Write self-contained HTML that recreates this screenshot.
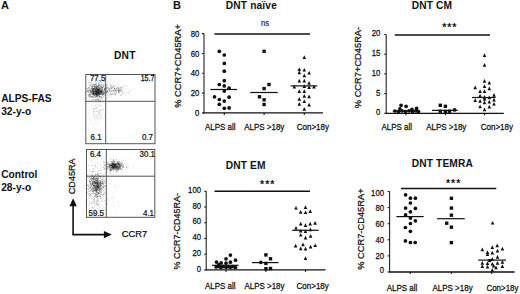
<!DOCTYPE html>
<html><head><meta charset="utf-8"><style>
html,body{margin:0;padding:0;background:#fff;width:520px;height:294px;overflow:hidden}
svg{display:block}
text{font-family:"Liberation Sans",sans-serif}
</style></head><body>
<svg width="520" height="294" viewBox="0 0 520 294">
<rect width="520" height="294" fill="#fff"/>
<text x="1" y="9" font-size="11" font-weight="bold" text-anchor="start" fill="#111">A</text>
<text x="113.9" y="58.9" font-size="10.2" font-weight="bold" letter-spacing="0.35" text-anchor="start" fill="#111">DNT</text>
<text x="1.2" y="102.4" font-size="10.2" font-weight="bold" text-anchor="start" fill="#111">ALPS-FAS</text>
<text x="1.2" y="114.6" font-size="10.2" font-weight="bold" text-anchor="start" fill="#111">32-y-o</text>
<text x="1.2" y="177.9" font-size="10.2" font-weight="bold" text-anchor="start" fill="#111">Control</text>
<text x="1.2" y="190.7" font-size="10.2" font-weight="bold" text-anchor="start" fill="#111">28-y-o</text>
<g fill="#111">
<circle cx="95.38" cy="93.14" r="0.45" fill-opacity="0.5"/>
<circle cx="95.50" cy="90.17" r="0.45" fill-opacity="0.5"/>
<circle cx="92.68" cy="90.53" r="0.45" fill-opacity="0.5"/>
<circle cx="100.85" cy="92.83" r="0.45" fill-opacity="0.5"/>
<circle cx="100.55" cy="92.20" r="0.45" fill-opacity="0.5"/>
<circle cx="97.98" cy="91.97" r="0.45" fill-opacity="0.5"/>
<circle cx="89.74" cy="94.38" r="0.45" fill-opacity="0.5"/>
<circle cx="98.43" cy="93.10" r="0.45" fill-opacity="0.5"/>
<circle cx="89.63" cy="85.02" r="0.45" fill-opacity="0.5"/>
<circle cx="92.84" cy="89.61" r="0.45" fill-opacity="0.5"/>
<circle cx="97.62" cy="91.13" r="0.45" fill-opacity="0.5"/>
<circle cx="98.48" cy="88.99" r="0.45" fill-opacity="0.5"/>
<circle cx="97.63" cy="92.72" r="0.45" fill-opacity="0.5"/>
<circle cx="93.76" cy="97.48" r="0.45" fill-opacity="0.5"/>
<circle cx="98.63" cy="95.61" r="0.45" fill-opacity="0.5"/>
<circle cx="93.92" cy="88.64" r="0.45" fill-opacity="0.5"/>
<circle cx="95.02" cy="90.92" r="0.45" fill-opacity="0.5"/>
<circle cx="98.93" cy="92.19" r="0.45" fill-opacity="0.5"/>
<circle cx="94.61" cy="87.86" r="0.45" fill-opacity="0.5"/>
<circle cx="94.32" cy="95.70" r="0.45" fill-opacity="0.5"/>
<circle cx="93.17" cy="92.18" r="0.45" fill-opacity="0.5"/>
<circle cx="98.11" cy="85.94" r="0.45" fill-opacity="0.5"/>
<circle cx="96.59" cy="96.00" r="0.45" fill-opacity="0.5"/>
<circle cx="88.34" cy="90.14" r="0.45" fill-opacity="0.5"/>
<circle cx="95.98" cy="88.36" r="0.45" fill-opacity="0.5"/>
<circle cx="98.39" cy="91.08" r="0.45" fill-opacity="0.5"/>
<circle cx="90.54" cy="94.28" r="0.45" fill-opacity="0.5"/>
<circle cx="99.08" cy="94.71" r="0.45" fill-opacity="0.5"/>
<circle cx="102.16" cy="92.60" r="0.45" fill-opacity="0.5"/>
<circle cx="96.88" cy="86.62" r="0.45" fill-opacity="0.5"/>
<circle cx="98.86" cy="89.10" r="0.45" fill-opacity="0.5"/>
<circle cx="94.59" cy="86.75" r="0.45" fill-opacity="0.5"/>
<circle cx="92.53" cy="89.39" r="0.45" fill-opacity="0.5"/>
<circle cx="101.56" cy="83.99" r="0.45" fill-opacity="0.5"/>
<circle cx="90.57" cy="92.16" r="0.45" fill-opacity="0.5"/>
<circle cx="102.17" cy="93.38" r="0.45" fill-opacity="0.5"/>
<circle cx="88.80" cy="82.23" r="0.45" fill-opacity="0.5"/>
<circle cx="97.83" cy="88.65" r="0.45" fill-opacity="0.5"/>
<circle cx="91.92" cy="94.82" r="0.45" fill-opacity="0.5"/>
<circle cx="100.81" cy="91.87" r="0.45" fill-opacity="0.5"/>
<circle cx="97.38" cy="92.86" r="0.45" fill-opacity="0.5"/>
<circle cx="102.78" cy="93.53" r="0.45" fill-opacity="0.5"/>
<circle cx="98.47" cy="93.27" r="0.45" fill-opacity="0.5"/>
<circle cx="90.13" cy="95.91" r="0.45" fill-opacity="0.5"/>
<circle cx="100.22" cy="93.21" r="0.45" fill-opacity="0.5"/>
<circle cx="88.50" cy="89.02" r="0.45" fill-opacity="0.5"/>
<circle cx="99.77" cy="84.78" r="0.45" fill-opacity="0.5"/>
<circle cx="95.66" cy="94.97" r="0.45" fill-opacity="0.5"/>
<circle cx="91.16" cy="97.10" r="0.45" fill-opacity="0.5"/>
<circle cx="98.61" cy="90.76" r="0.45" fill-opacity="0.5"/>
<circle cx="97.70" cy="93.64" r="0.45" fill-opacity="0.5"/>
<circle cx="96.88" cy="95.42" r="0.45" fill-opacity="0.5"/>
<circle cx="93.75" cy="89.81" r="0.45" fill-opacity="0.5"/>
<circle cx="100.57" cy="91.40" r="0.45" fill-opacity="0.5"/>
<circle cx="92.88" cy="94.71" r="0.45" fill-opacity="0.5"/>
<circle cx="102.26" cy="89.70" r="0.45" fill-opacity="0.5"/>
<circle cx="90.88" cy="90.81" r="0.45" fill-opacity="0.5"/>
<circle cx="95.80" cy="90.23" r="0.45" fill-opacity="0.5"/>
<circle cx="102.02" cy="87.60" r="0.45" fill-opacity="0.5"/>
<circle cx="101.44" cy="86.73" r="0.45" fill-opacity="0.5"/>
<circle cx="93.25" cy="93.57" r="0.45" fill-opacity="0.5"/>
<circle cx="100.91" cy="94.39" r="0.45" fill-opacity="0.5"/>
<circle cx="97.78" cy="91.81" r="0.45" fill-opacity="0.5"/>
<circle cx="97.01" cy="93.37" r="0.45" fill-opacity="0.5"/>
<circle cx="95.70" cy="92.30" r="0.45" fill-opacity="0.5"/>
<circle cx="98.69" cy="91.30" r="0.45" fill-opacity="0.5"/>
<circle cx="99.46" cy="93.34" r="0.45" fill-opacity="0.5"/>
<circle cx="104.44" cy="92.47" r="0.45" fill-opacity="0.5"/>
<circle cx="94.69" cy="89.96" r="0.45" fill-opacity="0.5"/>
<circle cx="96.35" cy="94.63" r="0.45" fill-opacity="0.5"/>
<circle cx="95.05" cy="92.69" r="0.45" fill-opacity="0.5"/>
<circle cx="103.75" cy="82.07" r="0.45" fill-opacity="0.5"/>
<circle cx="91.90" cy="92.18" r="0.45" fill-opacity="0.5"/>
<circle cx="97.99" cy="92.16" r="0.45" fill-opacity="0.5"/>
<circle cx="94.68" cy="93.66" r="0.45" fill-opacity="0.5"/>
<circle cx="97.53" cy="89.42" r="0.45" fill-opacity="0.5"/>
<circle cx="106.12" cy="92.58" r="0.45" fill-opacity="0.5"/>
<circle cx="94.18" cy="90.94" r="0.45" fill-opacity="0.5"/>
<circle cx="95.50" cy="91.07" r="0.45" fill-opacity="0.5"/>
<circle cx="85.49" cy="89.55" r="0.45" fill-opacity="0.5"/>
<circle cx="100.43" cy="87.09" r="0.45" fill-opacity="0.5"/>
<circle cx="96.13" cy="94.73" r="0.45" fill-opacity="0.5"/>
<circle cx="99.82" cy="96.67" r="0.45" fill-opacity="0.5"/>
<circle cx="89.59" cy="90.03" r="0.45" fill-opacity="0.5"/>
<circle cx="95.04" cy="93.54" r="0.45" fill-opacity="0.5"/>
<circle cx="100.77" cy="81.64" r="0.45" fill-opacity="0.5"/>
<circle cx="100.75" cy="86.09" r="0.45" fill-opacity="0.5"/>
<circle cx="99.13" cy="85.93" r="0.45" fill-opacity="0.5"/>
<circle cx="97.10" cy="95.60" r="0.45" fill-opacity="0.5"/>
<circle cx="95.80" cy="91.99" r="0.45" fill-opacity="0.5"/>
<circle cx="99.59" cy="91.81" r="0.45" fill-opacity="0.5"/>
<circle cx="96.05" cy="96.82" r="0.45" fill-opacity="0.5"/>
<circle cx="100.59" cy="90.24" r="0.45" fill-opacity="0.5"/>
<circle cx="107.38" cy="87.17" r="0.45" fill-opacity="0.5"/>
<circle cx="100.06" cy="90.34" r="0.45" fill-opacity="0.5"/>
<circle cx="96.93" cy="93.84" r="0.45" fill-opacity="0.5"/>
<circle cx="97.29" cy="93.60" r="0.45" fill-opacity="0.5"/>
<circle cx="90.29" cy="85.87" r="0.45" fill-opacity="0.5"/>
<circle cx="98.86" cy="87.83" r="0.45" fill-opacity="0.5"/>
<circle cx="92.29" cy="86.01" r="0.45" fill-opacity="0.5"/>
<circle cx="101.47" cy="93.99" r="0.45" fill-opacity="0.5"/>
<circle cx="102.29" cy="87.92" r="0.45" fill-opacity="0.5"/>
<circle cx="96.40" cy="87.19" r="0.45" fill-opacity="0.5"/>
<circle cx="99.46" cy="97.02" r="0.45" fill-opacity="0.5"/>
<circle cx="92.84" cy="96.92" r="0.45" fill-opacity="0.5"/>
<circle cx="100.35" cy="90.66" r="0.45" fill-opacity="0.5"/>
<circle cx="88.51" cy="96.36" r="0.45" fill-opacity="0.5"/>
<circle cx="96.01" cy="89.13" r="0.45" fill-opacity="0.5"/>
<circle cx="98.00" cy="92.78" r="0.45" fill-opacity="0.5"/>
<circle cx="102.39" cy="87.63" r="0.45" fill-opacity="0.5"/>
<circle cx="100.94" cy="96.65" r="0.45" fill-opacity="0.5"/>
<circle cx="102.21" cy="90.65" r="0.45" fill-opacity="0.5"/>
<circle cx="93.42" cy="94.97" r="0.45" fill-opacity="0.5"/>
<circle cx="96.86" cy="91.75" r="0.45" fill-opacity="0.5"/>
<circle cx="102.10" cy="90.35" r="0.45" fill-opacity="0.5"/>
<circle cx="87.21" cy="89.91" r="0.45" fill-opacity="0.5"/>
<circle cx="88.98" cy="94.25" r="0.45" fill-opacity="0.5"/>
<circle cx="97.67" cy="89.10" r="0.45" fill-opacity="0.5"/>
<circle cx="96.36" cy="94.30" r="0.45" fill-opacity="0.5"/>
<circle cx="96.72" cy="96.08" r="0.45" fill-opacity="0.5"/>
<circle cx="96.15" cy="95.05" r="0.45" fill-opacity="0.5"/>
<circle cx="102.37" cy="97.10" r="0.45" fill-opacity="0.5"/>
<circle cx="93.71" cy="94.47" r="0.45" fill-opacity="0.5"/>
<circle cx="88.90" cy="87.40" r="0.45" fill-opacity="0.5"/>
<circle cx="88.55" cy="95.15" r="0.45" fill-opacity="0.5"/>
<circle cx="91.47" cy="91.25" r="0.45" fill-opacity="0.5"/>
<circle cx="95.63" cy="91.20" r="0.45" fill-opacity="0.5"/>
<circle cx="94.03" cy="92.14" r="0.45" fill-opacity="0.5"/>
<circle cx="103.57" cy="91.46" r="0.45" fill-opacity="0.5"/>
<circle cx="98.52" cy="94.90" r="0.45" fill-opacity="0.5"/>
<circle cx="95.61" cy="86.77" r="0.45" fill-opacity="0.5"/>
<circle cx="94.18" cy="95.16" r="0.45" fill-opacity="0.5"/>
<circle cx="89.82" cy="89.15" r="0.45" fill-opacity="0.5"/>
<circle cx="100.43" cy="94.15" r="0.45" fill-opacity="0.5"/>
<circle cx="96.43" cy="94.20" r="0.45" fill-opacity="0.5"/>
<circle cx="97.06" cy="87.06" r="0.45" fill-opacity="0.5"/>
<circle cx="90.14" cy="89.00" r="0.45" fill-opacity="0.5"/>
<circle cx="100.09" cy="89.26" r="0.45" fill-opacity="0.5"/>
<circle cx="92.79" cy="88.52" r="0.45" fill-opacity="0.5"/>
<circle cx="90.27" cy="90.88" r="0.45" fill-opacity="0.5"/>
<circle cx="91.68" cy="92.61" r="0.45" fill-opacity="0.5"/>
<circle cx="86.96" cy="92.48" r="0.45" fill-opacity="0.5"/>
<circle cx="93.83" cy="84.31" r="0.45" fill-opacity="0.5"/>
<circle cx="99.30" cy="90.31" r="0.45" fill-opacity="0.5"/>
<circle cx="87.48" cy="88.15" r="0.45" fill-opacity="0.5"/>
<circle cx="97.56" cy="89.65" r="0.45" fill-opacity="0.5"/>
<circle cx="99.52" cy="93.99" r="0.45" fill-opacity="0.5"/>
<circle cx="99.06" cy="92.48" r="0.45" fill-opacity="0.5"/>
<circle cx="101.73" cy="93.68" r="0.45" fill-opacity="0.5"/>
<circle cx="98.20" cy="83.80" r="0.45" fill-opacity="0.5"/>
<circle cx="99.99" cy="96.01" r="0.45" fill-opacity="0.5"/>
<circle cx="95.21" cy="89.61" r="0.45" fill-opacity="0.5"/>
<circle cx="104.16" cy="84.97" r="0.45" fill-opacity="0.5"/>
<circle cx="98.28" cy="100.03" r="0.45" fill-opacity="0.5"/>
<circle cx="92.69" cy="93.78" r="0.45" fill-opacity="0.5"/>
<circle cx="103.95" cy="90.87" r="0.45" fill-opacity="0.5"/>
<circle cx="98.64" cy="94.55" r="0.45" fill-opacity="0.5"/>
<circle cx="92.78" cy="90.98" r="0.45" fill-opacity="0.5"/>
<circle cx="97.57" cy="94.27" r="0.45" fill-opacity="0.5"/>
<circle cx="96.26" cy="90.60" r="0.45" fill-opacity="0.5"/>
<circle cx="92.34" cy="90.01" r="0.45" fill-opacity="0.5"/>
<circle cx="99.97" cy="91.67" r="0.45" fill-opacity="0.5"/>
<circle cx="92.99" cy="88.27" r="0.45" fill-opacity="0.5"/>
<circle cx="107.07" cy="95.40" r="0.45" fill-opacity="0.5"/>
<circle cx="98.95" cy="81.97" r="0.45" fill-opacity="0.5"/>
<circle cx="98.89" cy="93.03" r="0.45" fill-opacity="0.5"/>
<circle cx="103.14" cy="92.84" r="0.45" fill-opacity="0.5"/>
<circle cx="96.13" cy="93.18" r="0.45" fill-opacity="0.5"/>
<circle cx="88.62" cy="95.02" r="0.45" fill-opacity="0.5"/>
<circle cx="97.70" cy="88.77" r="0.45" fill-opacity="0.5"/>
<circle cx="101.70" cy="97.81" r="0.45" fill-opacity="0.5"/>
<circle cx="90.79" cy="88.90" r="0.45" fill-opacity="0.5"/>
<circle cx="97.57" cy="91.96" r="0.45" fill-opacity="0.5"/>
<circle cx="94.81" cy="87.79" r="0.45" fill-opacity="0.5"/>
<circle cx="104.88" cy="95.03" r="0.45" fill-opacity="0.5"/>
<circle cx="91.62" cy="86.46" r="0.45" fill-opacity="0.5"/>
<circle cx="103.21" cy="94.86" r="0.45" fill-opacity="0.5"/>
<circle cx="103.68" cy="94.22" r="0.45" fill-opacity="0.5"/>
<circle cx="92.91" cy="92.24" r="0.45" fill-opacity="0.5"/>
<circle cx="87.76" cy="88.61" r="0.45" fill-opacity="0.5"/>
<circle cx="96.16" cy="93.18" r="0.45" fill-opacity="0.5"/>
<circle cx="93.49" cy="90.85" r="0.45" fill-opacity="0.5"/>
<circle cx="98.23" cy="92.66" r="0.45" fill-opacity="0.5"/>
<circle cx="98.95" cy="92.05" r="0.45" fill-opacity="0.5"/>
<circle cx="95.10" cy="94.14" r="0.45" fill-opacity="0.5"/>
<circle cx="96.60" cy="88.33" r="0.45" fill-opacity="0.5"/>
<circle cx="93.90" cy="91.30" r="0.45" fill-opacity="0.5"/>
<circle cx="95.96" cy="91.87" r="0.45" fill-opacity="0.5"/>
<circle cx="96.40" cy="91.93" r="0.45" fill-opacity="0.5"/>
<circle cx="95.86" cy="86.77" r="0.45" fill-opacity="0.5"/>
<circle cx="98.09" cy="95.09" r="0.45" fill-opacity="0.5"/>
<circle cx="98.14" cy="90.62" r="0.45" fill-opacity="0.5"/>
<circle cx="98.19" cy="87.82" r="0.45" fill-opacity="0.5"/>
<circle cx="88.82" cy="91.51" r="0.45" fill-opacity="0.5"/>
<circle cx="92.68" cy="93.96" r="0.45" fill-opacity="0.5"/>
<circle cx="92.06" cy="81.84" r="0.45" fill-opacity="0.5"/>
<circle cx="92.24" cy="96.98" r="0.45" fill-opacity="0.5"/>
<circle cx="94.87" cy="86.37" r="0.45" fill-opacity="0.5"/>
<circle cx="93.35" cy="93.18" r="0.45" fill-opacity="0.5"/>
<circle cx="98.39" cy="91.94" r="0.45" fill-opacity="0.5"/>
<circle cx="102.34" cy="93.84" r="0.45" fill-opacity="0.5"/>
<circle cx="96.32" cy="93.45" r="0.45" fill-opacity="0.5"/>
<circle cx="103.02" cy="94.80" r="0.45" fill-opacity="0.5"/>
<circle cx="100.50" cy="87.40" r="0.45" fill-opacity="0.5"/>
<circle cx="95.81" cy="93.93" r="0.45" fill-opacity="0.5"/>
<circle cx="95.21" cy="95.15" r="0.45" fill-opacity="0.5"/>
<circle cx="98.79" cy="94.57" r="0.45" fill-opacity="0.5"/>
<circle cx="95.55" cy="100.47" r="0.45" fill-opacity="0.5"/>
<circle cx="101.36" cy="90.52" r="0.45" fill-opacity="0.5"/>
<circle cx="96.76" cy="100.64" r="0.45" fill-opacity="0.5"/>
<circle cx="95.03" cy="94.45" r="0.45" fill-opacity="0.5"/>
<circle cx="100.32" cy="91.32" r="0.45" fill-opacity="0.5"/>
<circle cx="91.73" cy="91.98" r="0.45" fill-opacity="0.5"/>
<circle cx="97.84" cy="95.37" r="0.45" fill-opacity="0.5"/>
<circle cx="99.53" cy="91.39" r="0.45" fill-opacity="0.5"/>
<circle cx="99.81" cy="93.24" r="0.45" fill-opacity="0.5"/>
<circle cx="97.22" cy="91.50" r="0.45" fill-opacity="0.5"/>
<circle cx="95.43" cy="93.77" r="0.45" fill-opacity="0.5"/>
<circle cx="92.18" cy="89.04" r="0.45" fill-opacity="0.5"/>
<circle cx="96.42" cy="86.03" r="0.45" fill-opacity="0.5"/>
<circle cx="94.66" cy="84.07" r="0.45" fill-opacity="0.5"/>
<circle cx="93.67" cy="93.35" r="0.45" fill-opacity="0.5"/>
<circle cx="98.67" cy="91.10" r="0.45" fill-opacity="0.5"/>
<circle cx="95.47" cy="86.20" r="0.45" fill-opacity="0.5"/>
<circle cx="103.71" cy="93.16" r="0.45" fill-opacity="0.5"/>
<circle cx="100.77" cy="88.12" r="0.45" fill-opacity="0.5"/>
<circle cx="95.66" cy="84.75" r="0.45" fill-opacity="0.5"/>
<circle cx="99.52" cy="94.67" r="0.45" fill-opacity="0.5"/>
<circle cx="88.81" cy="91.11" r="0.45" fill-opacity="0.5"/>
<circle cx="98.92" cy="84.96" r="0.45" fill-opacity="0.5"/>
<circle cx="89.10" cy="87.47" r="0.45" fill-opacity="0.5"/>
<circle cx="93.88" cy="86.25" r="0.45" fill-opacity="0.5"/>
<circle cx="96.53" cy="92.20" r="0.45" fill-opacity="0.5"/>
<circle cx="98.94" cy="93.83" r="0.45" fill-opacity="0.5"/>
<circle cx="102.41" cy="95.49" r="0.45" fill-opacity="0.5"/>
<circle cx="91.15" cy="89.48" r="0.45" fill-opacity="0.5"/>
<circle cx="92.16" cy="87.42" r="0.45" fill-opacity="0.5"/>
<circle cx="96.07" cy="91.32" r="0.45" fill-opacity="0.5"/>
<circle cx="98.36" cy="85.59" r="0.45" fill-opacity="0.5"/>
<circle cx="91.45" cy="91.22" r="0.45" fill-opacity="0.5"/>
<circle cx="95.60" cy="90.18" r="0.45" fill-opacity="0.5"/>
<circle cx="96.15" cy="88.56" r="0.45" fill-opacity="0.5"/>
<circle cx="99.21" cy="92.58" r="0.45" fill-opacity="0.5"/>
<circle cx="96.05" cy="88.88" r="0.45" fill-opacity="0.5"/>
<circle cx="95.70" cy="81.50" r="0.45" fill-opacity="0.5"/>
<circle cx="92.47" cy="91.43" r="0.45" fill-opacity="0.5"/>
<circle cx="90.38" cy="92.02" r="0.45" fill-opacity="0.5"/>
<circle cx="96.99" cy="86.34" r="0.45" fill-opacity="0.5"/>
<circle cx="95.40" cy="90.17" r="0.45" fill-opacity="0.5"/>
<circle cx="98.24" cy="93.50" r="0.45" fill-opacity="0.5"/>
<circle cx="96.25" cy="88.24" r="0.45" fill-opacity="0.5"/>
<circle cx="95.82" cy="91.06" r="0.45" fill-opacity="0.5"/>
<circle cx="99.34" cy="92.36" r="0.45" fill-opacity="0.5"/>
<circle cx="93.51" cy="86.42" r="0.45" fill-opacity="0.5"/>
<circle cx="94.91" cy="88.63" r="0.45" fill-opacity="0.5"/>
<circle cx="91.95" cy="90.88" r="0.45" fill-opacity="0.5"/>
<circle cx="94.44" cy="91.68" r="0.45" fill-opacity="0.5"/>
<circle cx="98.49" cy="89.81" r="0.45" fill-opacity="0.5"/>
<circle cx="105.70" cy="90.14" r="0.45" fill-opacity="0.5"/>
<circle cx="100.81" cy="91.74" r="0.45" fill-opacity="0.5"/>
<circle cx="100.86" cy="82.75" r="0.45" fill-opacity="0.5"/>
<circle cx="93.39" cy="92.19" r="0.45" fill-opacity="0.5"/>
<circle cx="98.81" cy="99.71" r="0.45" fill-opacity="0.5"/>
<circle cx="97.69" cy="95.91" r="0.45" fill-opacity="0.5"/>
<circle cx="99.47" cy="94.71" r="0.45" fill-opacity="0.5"/>
<circle cx="98.44" cy="90.74" r="0.45" fill-opacity="0.5"/>
<circle cx="98.44" cy="87.42" r="0.45" fill-opacity="0.5"/>
<circle cx="101.13" cy="87.64" r="0.45" fill-opacity="0.5"/>
<circle cx="97.40" cy="98.93" r="0.45" fill-opacity="0.5"/>
<circle cx="95.51" cy="91.37" r="0.45" fill-opacity="0.5"/>
<circle cx="101.05" cy="91.39" r="0.45" fill-opacity="0.5"/>
<circle cx="93.17" cy="92.23" r="0.45" fill-opacity="0.5"/>
<circle cx="98.73" cy="93.86" r="0.45" fill-opacity="0.5"/>
<circle cx="93.31" cy="97.61" r="0.45" fill-opacity="0.5"/>
<circle cx="103.07" cy="91.37" r="0.45" fill-opacity="0.5"/>
<circle cx="97.47" cy="89.76" r="0.45" fill-opacity="0.5"/>
<circle cx="102.06" cy="88.76" r="0.45" fill-opacity="0.5"/>
<circle cx="99.10" cy="89.57" r="0.45" fill-opacity="0.5"/>
<circle cx="93.62" cy="93.89" r="0.45" fill-opacity="0.5"/>
<circle cx="101.74" cy="91.26" r="0.45" fill-opacity="0.5"/>
<circle cx="93.69" cy="94.22" r="0.45" fill-opacity="0.5"/>
<circle cx="96.20" cy="92.42" r="0.45" fill-opacity="0.5"/>
<circle cx="102.49" cy="95.37" r="0.45" fill-opacity="0.5"/>
<circle cx="94.32" cy="99.52" r="0.45" fill-opacity="0.5"/>
<circle cx="96.41" cy="94.13" r="0.45" fill-opacity="0.5"/>
<circle cx="93.81" cy="91.14" r="0.45" fill-opacity="0.5"/>
<circle cx="89.40" cy="97.73" r="0.45" fill-opacity="0.5"/>
<circle cx="101.86" cy="86.92" r="0.45" fill-opacity="0.5"/>
<circle cx="90.38" cy="85.46" r="0.45" fill-opacity="0.5"/>
<circle cx="101.10" cy="89.65" r="0.45" fill-opacity="0.5"/>
<circle cx="96.16" cy="90.17" r="0.45" fill-opacity="0.5"/>
<circle cx="95.92" cy="87.38" r="0.45" fill-opacity="0.5"/>
<circle cx="96.50" cy="86.12" r="0.45" fill-opacity="0.5"/>
<circle cx="96.11" cy="92.41" r="0.45" fill-opacity="0.5"/>
<circle cx="98.27" cy="90.47" r="0.45" fill-opacity="0.5"/>
<circle cx="92.79" cy="91.87" r="0.45" fill-opacity="0.5"/>
<circle cx="94.46" cy="96.94" r="0.45" fill-opacity="0.5"/>
<circle cx="99.47" cy="90.89" r="0.45" fill-opacity="0.5"/>
<circle cx="94.52" cy="88.77" r="0.45" fill-opacity="0.5"/>
<circle cx="92.65" cy="90.03" r="0.45" fill-opacity="0.5"/>
<circle cx="97.58" cy="93.16" r="0.45" fill-opacity="0.5"/>
<circle cx="98.68" cy="98.86" r="0.45" fill-opacity="0.5"/>
<circle cx="93.58" cy="91.35" r="0.45" fill-opacity="0.5"/>
<circle cx="107.58" cy="84.58" r="0.45" fill-opacity="0.5"/>
<circle cx="94.31" cy="91.91" r="0.45" fill-opacity="0.5"/>
<circle cx="97.02" cy="92.77" r="0.45" fill-opacity="0.5"/>
<circle cx="95.45" cy="92.62" r="0.45" fill-opacity="0.5"/>
<circle cx="96.61" cy="94.08" r="0.45" fill-opacity="0.5"/>
<circle cx="88.83" cy="88.11" r="0.45" fill-opacity="0.5"/>
<circle cx="96.39" cy="87.59" r="0.45" fill-opacity="0.5"/>
<circle cx="92.22" cy="93.56" r="0.45" fill-opacity="0.5"/>
<circle cx="93.80" cy="93.59" r="0.45" fill-opacity="0.5"/>
<circle cx="99.38" cy="92.40" r="0.45" fill-opacity="0.5"/>
<circle cx="98.43" cy="90.92" r="0.45" fill-opacity="0.5"/>
<circle cx="90.76" cy="91.19" r="0.45" fill-opacity="0.5"/>
<circle cx="98.22" cy="89.39" r="0.45" fill-opacity="0.5"/>
<circle cx="96.00" cy="94.00" r="0.45" fill-opacity="0.5"/>
<circle cx="92.89" cy="93.60" r="0.45" fill-opacity="0.5"/>
<circle cx="103.85" cy="89.30" r="0.45" fill-opacity="0.5"/>
<circle cx="96.99" cy="90.76" r="0.45" fill-opacity="0.5"/>
<circle cx="102.56" cy="92.44" r="0.45" fill-opacity="0.5"/>
<circle cx="99.99" cy="88.82" r="0.45" fill-opacity="0.5"/>
<circle cx="96.34" cy="91.26" r="0.45" fill-opacity="0.5"/>
<circle cx="89.30" cy="96.49" r="0.45" fill-opacity="0.5"/>
<circle cx="100.00" cy="85.00" r="0.45" fill-opacity="0.5"/>
<circle cx="99.38" cy="90.83" r="0.45" fill-opacity="0.5"/>
<circle cx="98.19" cy="92.62" r="0.45" fill-opacity="0.5"/>
<circle cx="90.40" cy="90.54" r="0.45" fill-opacity="0.5"/>
<circle cx="102.37" cy="89.23" r="0.45" fill-opacity="0.5"/>
<circle cx="92.31" cy="86.41" r="0.45" fill-opacity="0.5"/>
<circle cx="91.52" cy="92.51" r="0.45" fill-opacity="0.5"/>
<circle cx="103.17" cy="92.85" r="0.45" fill-opacity="0.5"/>
<circle cx="97.38" cy="99.34" r="0.45" fill-opacity="0.5"/>
<circle cx="94.32" cy="88.87" r="0.45" fill-opacity="0.5"/>
<circle cx="98.51" cy="93.27" r="0.45" fill-opacity="0.5"/>
<circle cx="92.34" cy="87.09" r="0.45" fill-opacity="0.5"/>
<circle cx="97.56" cy="92.19" r="0.45" fill-opacity="0.5"/>
<circle cx="91.17" cy="90.57" r="0.45" fill-opacity="0.5"/>
<circle cx="94.23" cy="92.96" r="0.45" fill-opacity="0.5"/>
<circle cx="95.93" cy="90.99" r="0.45" fill-opacity="0.5"/>
<circle cx="94.99" cy="95.09" r="0.45" fill-opacity="0.5"/>
<circle cx="101.96" cy="89.98" r="0.45" fill-opacity="0.5"/>
<circle cx="99.78" cy="88.57" r="0.45" fill-opacity="0.5"/>
<circle cx="96.69" cy="94.00" r="0.45" fill-opacity="0.5"/>
<circle cx="102.46" cy="89.92" r="0.45" fill-opacity="0.5"/>
<circle cx="96.10" cy="92.01" r="0.45" fill-opacity="0.5"/>
<circle cx="90.41" cy="91.36" r="0.45" fill-opacity="0.5"/>
<circle cx="93.70" cy="92.64" r="0.45" fill-opacity="0.5"/>
<circle cx="91.88" cy="84.18" r="0.45" fill-opacity="0.5"/>
<circle cx="96.55" cy="92.24" r="0.45" fill-opacity="0.5"/>
<circle cx="94.20" cy="94.50" r="0.45" fill-opacity="0.5"/>
<circle cx="95.31" cy="89.12" r="0.45" fill-opacity="0.5"/>
<circle cx="98.31" cy="85.65" r="0.45" fill-opacity="0.5"/>
<circle cx="93.69" cy="91.23" r="0.45" fill-opacity="0.5"/>
<circle cx="99.80" cy="90.71" r="0.45" fill-opacity="0.5"/>
<circle cx="97.63" cy="88.94" r="0.45" fill-opacity="0.5"/>
<circle cx="97.61" cy="97.29" r="0.45" fill-opacity="0.5"/>
<circle cx="93.65" cy="99.82" r="0.45" fill-opacity="0.5"/>
<circle cx="93.82" cy="91.36" r="0.45" fill-opacity="0.5"/>
<circle cx="97.09" cy="94.99" r="0.45" fill-opacity="0.5"/>
<circle cx="91.45" cy="83.74" r="0.45" fill-opacity="0.5"/>
<circle cx="98.82" cy="94.16" r="0.45" fill-opacity="0.5"/>
<circle cx="98.89" cy="100.77" r="0.45" fill-opacity="0.5"/>
<circle cx="97.22" cy="92.21" r="0.45" fill-opacity="0.5"/>
<circle cx="100.12" cy="92.63" r="0.45" fill-opacity="0.5"/>
<circle cx="103.05" cy="86.84" r="0.45" fill-opacity="0.5"/>
<circle cx="94.90" cy="78.90" r="0.45" fill-opacity="0.5"/>
<circle cx="99.65" cy="89.96" r="0.45" fill-opacity="0.5"/>
<circle cx="100.10" cy="99.05" r="0.45" fill-opacity="0.5"/>
<circle cx="96.38" cy="90.38" r="0.45" fill-opacity="0.5"/>
<circle cx="94.40" cy="88.28" r="0.45" fill-opacity="0.5"/>
<circle cx="93.88" cy="93.60" r="0.45" fill-opacity="0.5"/>
<circle cx="96.55" cy="91.54" r="0.45" fill-opacity="0.5"/>
<circle cx="95.71" cy="94.59" r="0.45" fill-opacity="0.5"/>
<circle cx="98.38" cy="90.79" r="0.45" fill-opacity="0.5"/>
<circle cx="99.06" cy="90.75" r="0.45" fill-opacity="0.5"/>
<circle cx="91.79" cy="96.54" r="0.45" fill-opacity="0.5"/>
<circle cx="98.26" cy="87.85" r="0.45" fill-opacity="0.5"/>
<circle cx="100.72" cy="92.54" r="0.45" fill-opacity="0.5"/>
<circle cx="90.14" cy="97.10" r="0.45" fill-opacity="0.5"/>
<circle cx="97.73" cy="94.51" r="0.45" fill-opacity="0.5"/>
<circle cx="97.19" cy="90.76" r="0.45" fill-opacity="0.5"/>
<circle cx="90.21" cy="94.80" r="0.45" fill-opacity="0.5"/>
<circle cx="96.52" cy="90.27" r="0.45" fill-opacity="0.5"/>
<circle cx="97.80" cy="91.58" r="0.45" fill-opacity="0.5"/>
<circle cx="99.10" cy="89.96" r="0.45" fill-opacity="0.5"/>
<circle cx="96.25" cy="83.60" r="0.45" fill-opacity="0.5"/>
<circle cx="94.71" cy="93.73" r="0.45" fill-opacity="0.5"/>
<circle cx="101.75" cy="89.99" r="0.45" fill-opacity="0.5"/>
<circle cx="95.91" cy="97.00" r="0.45" fill-opacity="0.5"/>
<circle cx="95.10" cy="93.94" r="0.45" fill-opacity="0.5"/>
<circle cx="103.11" cy="91.44" r="0.45" fill-opacity="0.5"/>
<circle cx="101.31" cy="88.74" r="0.45" fill-opacity="0.5"/>
<circle cx="97.23" cy="91.02" r="0.45" fill-opacity="0.5"/>
<circle cx="96.86" cy="95.37" r="0.45" fill-opacity="0.5"/>
<circle cx="105.96" cy="88.90" r="0.45" fill-opacity="0.5"/>
<circle cx="94.10" cy="93.09" r="0.45" fill-opacity="0.5"/>
<circle cx="92.18" cy="93.09" r="0.45" fill-opacity="0.5"/>
<circle cx="98.69" cy="90.30" r="0.45" fill-opacity="0.5"/>
<circle cx="98.52" cy="85.72" r="0.45" fill-opacity="0.5"/>
<circle cx="99.44" cy="85.74" r="0.45" fill-opacity="0.5"/>
<circle cx="93.61" cy="89.30" r="0.45" fill-opacity="0.5"/>
<circle cx="94.80" cy="94.39" r="0.45" fill-opacity="0.5"/>
<circle cx="96.73" cy="89.87" r="0.45" fill-opacity="0.5"/>
<circle cx="98.57" cy="96.99" r="0.45" fill-opacity="0.5"/>
<circle cx="96.42" cy="92.62" r="0.45" fill-opacity="0.5"/>
<circle cx="101.36" cy="92.26" r="0.45" fill-opacity="0.5"/>
<circle cx="91.26" cy="100.27" r="0.45" fill-opacity="0.5"/>
<circle cx="105.23" cy="84.15" r="0.45" fill-opacity="0.5"/>
<circle cx="96.24" cy="92.80" r="0.45" fill-opacity="0.5"/>
<circle cx="100.26" cy="93.71" r="0.45" fill-opacity="0.5"/>
<circle cx="95.31" cy="87.51" r="0.45" fill-opacity="0.5"/>
<circle cx="96.81" cy="95.02" r="0.45" fill-opacity="0.5"/>
<circle cx="92.04" cy="87.60" r="0.45" fill-opacity="0.5"/>
<circle cx="96.30" cy="84.33" r="0.45" fill-opacity="0.5"/>
<circle cx="95.36" cy="89.73" r="0.45" fill-opacity="0.5"/>
<circle cx="98.20" cy="88.77" r="0.45" fill-opacity="0.5"/>
<circle cx="92.87" cy="89.88" r="0.45" fill-opacity="0.5"/>
<circle cx="96.20" cy="88.91" r="0.45" fill-opacity="0.5"/>
<circle cx="96.45" cy="94.00" r="0.45" fill-opacity="0.5"/>
<circle cx="101.14" cy="97.44" r="0.45" fill-opacity="0.5"/>
<circle cx="93.27" cy="89.79" r="0.45" fill-opacity="0.5"/>
<circle cx="86.47" cy="98.14" r="0.45" fill-opacity="0.5"/>
<circle cx="93.50" cy="91.18" r="0.45" fill-opacity="0.5"/>
<circle cx="98.49" cy="86.41" r="0.45" fill-opacity="0.5"/>
<circle cx="98.26" cy="91.20" r="0.45" fill-opacity="0.5"/>
<circle cx="89.10" cy="92.35" r="0.45" fill-opacity="0.5"/>
<circle cx="101.18" cy="84.58" r="0.45" fill-opacity="0.5"/>
<circle cx="99.63" cy="92.05" r="0.45" fill-opacity="0.5"/>
<circle cx="98.30" cy="92.89" r="0.45" fill-opacity="0.5"/>
<circle cx="101.62" cy="90.49" r="0.45" fill-opacity="0.5"/>
<circle cx="99.89" cy="89.82" r="0.45" fill-opacity="0.5"/>
<circle cx="99.31" cy="88.37" r="0.45" fill-opacity="0.5"/>
<circle cx="95.97" cy="97.53" r="0.45" fill-opacity="0.5"/>
<circle cx="98.18" cy="90.73" r="0.45" fill-opacity="0.5"/>
<circle cx="91.82" cy="88.46" r="0.45" fill-opacity="0.5"/>
<circle cx="97.17" cy="94.68" r="0.45" fill-opacity="0.5"/>
<circle cx="98.10" cy="93.19" r="0.45" fill-opacity="0.5"/>
<circle cx="96.23" cy="96.17" r="0.45" fill-opacity="0.5"/>
<circle cx="94.84" cy="89.32" r="0.45" fill-opacity="0.5"/>
<circle cx="99.95" cy="91.53" r="0.45" fill-opacity="0.5"/>
<circle cx="95.29" cy="89.23" r="0.45" fill-opacity="0.5"/>
<circle cx="95.37" cy="93.54" r="0.45" fill-opacity="0.5"/>
<circle cx="97.81" cy="86.95" r="0.45" fill-opacity="0.5"/>
<circle cx="98.11" cy="91.94" r="0.45" fill-opacity="0.5"/>
<circle cx="92.40" cy="94.08" r="0.45" fill-opacity="0.5"/>
<circle cx="95.28" cy="90.09" r="0.45" fill-opacity="0.5"/>
<circle cx="99.58" cy="96.05" r="0.45" fill-opacity="0.5"/>
<circle cx="93.65" cy="92.88" r="0.45" fill-opacity="0.5"/>
<circle cx="92.90" cy="99.63" r="0.45" fill-opacity="0.5"/>
<circle cx="94.42" cy="95.60" r="0.45" fill-opacity="0.5"/>
<circle cx="93.81" cy="94.22" r="0.45" fill-opacity="0.5"/>
<circle cx="105.28" cy="82.15" r="0.45" fill-opacity="0.5"/>
<circle cx="94.66" cy="93.10" r="0.45" fill-opacity="0.5"/>
<circle cx="96.03" cy="88.89" r="0.45" fill-opacity="0.5"/>
<circle cx="105.01" cy="91.59" r="0.45" fill-opacity="0.5"/>
<circle cx="89.82" cy="94.37" r="0.45" fill-opacity="0.5"/>
<circle cx="89.51" cy="95.44" r="0.45" fill-opacity="0.5"/>
<circle cx="94.09" cy="91.82" r="0.45" fill-opacity="0.5"/>
<circle cx="101.44" cy="91.72" r="0.45" fill-opacity="0.5"/>
<circle cx="90.84" cy="85.19" r="0.45" fill-opacity="0.5"/>
<circle cx="101.13" cy="93.97" r="0.45" fill-opacity="0.5"/>
<circle cx="93.14" cy="94.39" r="0.45" fill-opacity="0.5"/>
<circle cx="98.39" cy="93.63" r="0.45" fill-opacity="0.5"/>
<circle cx="87.36" cy="90.21" r="0.45" fill-opacity="0.5"/>
<circle cx="100.00" cy="93.94" r="0.45" fill-opacity="0.5"/>
<circle cx="99.93" cy="82.45" r="0.45" fill-opacity="0.5"/>
<circle cx="97.08" cy="93.07" r="0.45" fill-opacity="0.5"/>
<circle cx="106.61" cy="87.87" r="0.45" fill-opacity="0.5"/>
<circle cx="95.08" cy="91.43" r="0.45" fill-opacity="0.5"/>
<circle cx="99.94" cy="89.70" r="0.45" fill-opacity="0.5"/>
<circle cx="100.99" cy="88.46" r="0.45" fill-opacity="0.5"/>
<circle cx="97.47" cy="89.40" r="0.45" fill-opacity="0.5"/>
<circle cx="97.03" cy="88.81" r="0.45" fill-opacity="0.5"/>
<circle cx="90.01" cy="95.24" r="0.45" fill-opacity="0.5"/>
<circle cx="97.61" cy="89.29" r="0.45" fill-opacity="0.5"/>
<circle cx="97.20" cy="94.86" r="0.45" fill-opacity="0.5"/>
<circle cx="92.49" cy="90.90" r="0.45" fill-opacity="0.5"/>
<circle cx="98.56" cy="93.19" r="0.45" fill-opacity="0.5"/>
<circle cx="95.06" cy="83.71" r="0.45" fill-opacity="0.5"/>
<circle cx="101.37" cy="92.48" r="0.45" fill-opacity="0.5"/>
<circle cx="96.45" cy="90.30" r="0.45" fill-opacity="0.5"/>
<circle cx="97.45" cy="89.77" r="0.45" fill-opacity="0.5"/>
<circle cx="92.30" cy="88.64" r="0.45" fill-opacity="0.5"/>
<circle cx="94.01" cy="89.10" r="0.45" fill-opacity="0.5"/>
<circle cx="91.77" cy="93.59" r="0.45" fill-opacity="0.5"/>
<circle cx="91.16" cy="93.68" r="0.45" fill-opacity="0.5"/>
<circle cx="92.34" cy="92.57" r="0.45" fill-opacity="0.5"/>
<circle cx="101.90" cy="92.03" r="0.45" fill-opacity="0.5"/>
<circle cx="93.48" cy="91.47" r="0.45" fill-opacity="0.5"/>
<circle cx="96.99" cy="85.06" r="0.45" fill-opacity="0.5"/>
<circle cx="93.97" cy="91.89" r="0.45" fill-opacity="0.5"/>
<circle cx="94.52" cy="91.59" r="0.45" fill-opacity="0.5"/>
<circle cx="99.34" cy="94.06" r="0.45" fill-opacity="0.5"/>
<circle cx="100.02" cy="93.42" r="0.45" fill-opacity="0.5"/>
<circle cx="95.25" cy="91.23" r="0.45" fill-opacity="0.5"/>
<circle cx="95.32" cy="90.17" r="0.45" fill-opacity="0.5"/>
<circle cx="95.68" cy="85.09" r="0.45" fill-opacity="0.5"/>
<circle cx="95.07" cy="91.21" r="0.45" fill-opacity="0.5"/>
<circle cx="92.50" cy="91.21" r="0.45" fill-opacity="0.5"/>
<circle cx="98.46" cy="90.71" r="0.45" fill-opacity="0.5"/>
<circle cx="104.71" cy="81.92" r="0.45" fill-opacity="0.5"/>
<circle cx="95.57" cy="84.73" r="0.45" fill-opacity="0.5"/>
<circle cx="100.32" cy="100.85" r="0.45" fill-opacity="0.5"/>
<circle cx="86.39" cy="91.76" r="0.45" fill-opacity="0.5"/>
<circle cx="98.48" cy="90.21" r="0.45" fill-opacity="0.5"/>
<circle cx="98.61" cy="83.23" r="0.45" fill-opacity="0.5"/>
<circle cx="99.81" cy="92.64" r="0.45" fill-opacity="0.5"/>
<circle cx="96.49" cy="89.18" r="0.45" fill-opacity="0.5"/>
<circle cx="98.95" cy="89.55" r="0.45" fill-opacity="0.5"/>
<circle cx="97.29" cy="89.46" r="0.45" fill-opacity="0.5"/>
<circle cx="87.41" cy="91.19" r="0.45" fill-opacity="0.5"/>
<circle cx="97.21" cy="94.02" r="0.45" fill-opacity="0.5"/>
<circle cx="92.90" cy="91.18" r="0.45" fill-opacity="0.5"/>
<circle cx="98.87" cy="91.82" r="0.45" fill-opacity="0.5"/>
<circle cx="101.37" cy="98.47" r="0.45" fill-opacity="0.5"/>
<circle cx="92.77" cy="84.38" r="0.45" fill-opacity="0.5"/>
<circle cx="99.83" cy="96.81" r="0.45" fill-opacity="0.5"/>
<circle cx="100.09" cy="94.23" r="0.45" fill-opacity="0.5"/>
<circle cx="93.93" cy="88.73" r="0.45" fill-opacity="0.5"/>
<circle cx="99.95" cy="88.02" r="0.45" fill-opacity="0.5"/>
<circle cx="89.15" cy="87.71" r="0.45" fill-opacity="0.5"/>
<circle cx="106.37" cy="98.22" r="0.45" fill-opacity="0.5"/>
<circle cx="93.65" cy="88.68" r="0.45" fill-opacity="0.5"/>
<circle cx="97.33" cy="88.60" r="0.45" fill-opacity="0.5"/>
<circle cx="101.64" cy="91.02" r="0.45" fill-opacity="0.5"/>
<circle cx="92.05" cy="96.01" r="0.45" fill-opacity="0.5"/>
<circle cx="94.07" cy="92.10" r="0.45" fill-opacity="0.5"/>
<circle cx="96.35" cy="90.17" r="0.45" fill-opacity="0.5"/>
<circle cx="97.70" cy="88.81" r="0.45" fill-opacity="0.5"/>
<circle cx="89.02" cy="83.35" r="0.45" fill-opacity="0.5"/>
<circle cx="91.33" cy="88.57" r="0.45" fill-opacity="0.5"/>
<circle cx="96.31" cy="91.50" r="0.45" fill-opacity="0.5"/>
<circle cx="98.62" cy="91.73" r="0.45" fill-opacity="0.5"/>
<circle cx="93.23" cy="88.75" r="0.45" fill-opacity="0.5"/>
<circle cx="87.92" cy="90.69" r="0.45" fill-opacity="0.5"/>
<circle cx="98.34" cy="93.21" r="0.45" fill-opacity="0.5"/>
<circle cx="95.91" cy="90.67" r="0.45" fill-opacity="0.5"/>
<circle cx="100.15" cy="91.36" r="0.45" fill-opacity="0.5"/>
<circle cx="99.35" cy="93.40" r="0.45" fill-opacity="0.5"/>
<circle cx="97.25" cy="96.00" r="0.45" fill-opacity="0.5"/>
<circle cx="94.11" cy="90.01" r="0.45" fill-opacity="0.5"/>
<circle cx="93.17" cy="88.43" r="0.45" fill-opacity="0.5"/>
<circle cx="102.62" cy="97.63" r="0.45" fill-opacity="0.5"/>
<circle cx="96.49" cy="93.35" r="0.45" fill-opacity="0.5"/>
<circle cx="101.10" cy="94.21" r="0.45" fill-opacity="0.5"/>
<circle cx="101.22" cy="86.75" r="0.45" fill-opacity="0.5"/>
<circle cx="93.84" cy="92.93" r="0.45" fill-opacity="0.5"/>
<circle cx="102.14" cy="91.67" r="0.45" fill-opacity="0.5"/>
<circle cx="92.97" cy="90.02" r="0.45" fill-opacity="0.5"/>
<circle cx="93.76" cy="88.21" r="0.45" fill-opacity="0.5"/>
<circle cx="102.40" cy="89.05" r="0.45" fill-opacity="0.5"/>
<circle cx="96.48" cy="99.08" r="0.45" fill-opacity="0.5"/>
<circle cx="101.14" cy="92.51" r="0.45" fill-opacity="0.5"/>
<circle cx="93.95" cy="92.78" r="0.45" fill-opacity="0.5"/>
<circle cx="102.89" cy="93.54" r="0.45" fill-opacity="0.5"/>
<circle cx="101.45" cy="91.65" r="0.45" fill-opacity="0.5"/>
<circle cx="98.47" cy="90.58" r="0.45" fill-opacity="0.5"/>
<circle cx="98.11" cy="95.98" r="0.45" fill-opacity="0.5"/>
<circle cx="90.68" cy="91.07" r="0.45" fill-opacity="0.5"/>
<circle cx="97.36" cy="89.24" r="0.45" fill-opacity="0.5"/>
<circle cx="95.17" cy="94.13" r="0.45" fill-opacity="0.5"/>
<circle cx="104.41" cy="93.57" r="0.45" fill-opacity="0.5"/>
<circle cx="97.70" cy="85.71" r="0.45" fill-opacity="0.5"/>
<circle cx="104.11" cy="91.58" r="0.45" fill-opacity="0.5"/>
<circle cx="96.26" cy="87.27" r="0.45" fill-opacity="0.5"/>
<circle cx="96.17" cy="87.35" r="0.45" fill-opacity="0.5"/>
<circle cx="96.68" cy="92.98" r="0.45" fill-opacity="0.5"/>
<circle cx="96.52" cy="92.31" r="0.45" fill-opacity="0.5"/>
<circle cx="92.99" cy="96.45" r="0.45" fill-opacity="0.5"/>
<circle cx="93.79" cy="84.75" r="0.45" fill-opacity="0.5"/>
<circle cx="95.65" cy="88.55" r="0.45" fill-opacity="0.5"/>
<circle cx="92.36" cy="90.02" r="0.45" fill-opacity="0.5"/>
<circle cx="97.56" cy="87.05" r="0.45" fill-opacity="0.5"/>
<circle cx="95.85" cy="96.44" r="0.45" fill-opacity="0.5"/>
<circle cx="99.13" cy="90.75" r="0.45" fill-opacity="0.5"/>
<circle cx="96.91" cy="90.87" r="0.45" fill-opacity="0.5"/>
<circle cx="96.21" cy="93.94" r="0.45" fill-opacity="0.5"/>
<circle cx="96.03" cy="82.64" r="0.45" fill-opacity="0.5"/>
<circle cx="96.31" cy="88.10" r="0.45" fill-opacity="0.5"/>
<circle cx="99.01" cy="89.10" r="0.45" fill-opacity="0.5"/>
<circle cx="96.99" cy="99.14" r="0.45" fill-opacity="0.5"/>
<circle cx="92.21" cy="87.25" r="0.45" fill-opacity="0.5"/>
<circle cx="90.75" cy="82.68" r="0.45" fill-opacity="0.5"/>
<circle cx="88.89" cy="92.61" r="0.45" fill-opacity="0.5"/>
<circle cx="93.85" cy="84.57" r="0.45" fill-opacity="0.5"/>
<circle cx="90.47" cy="93.52" r="0.45" fill-opacity="0.5"/>
<circle cx="93.30" cy="89.98" r="0.45" fill-opacity="0.5"/>
<circle cx="97.72" cy="96.18" r="0.45" fill-opacity="0.5"/>
<circle cx="104.16" cy="95.02" r="0.45" fill-opacity="0.5"/>
<circle cx="96.97" cy="91.96" r="0.45" fill-opacity="0.5"/>
<circle cx="103.61" cy="96.44" r="0.45" fill-opacity="0.5"/>
<circle cx="95.16" cy="92.95" r="0.45" fill-opacity="0.5"/>
<circle cx="97.55" cy="91.49" r="0.45" fill-opacity="0.5"/>
<circle cx="94.40" cy="86.52" r="0.45" fill-opacity="0.5"/>
<circle cx="94.26" cy="85.74" r="0.45" fill-opacity="0.5"/>
<circle cx="101.30" cy="93.23" r="0.45" fill-opacity="0.5"/>
<circle cx="91.58" cy="96.32" r="0.45" fill-opacity="0.5"/>
<circle cx="99.97" cy="84.43" r="0.45" fill-opacity="0.5"/>
<circle cx="103.77" cy="94.22" r="0.45" fill-opacity="0.5"/>
<circle cx="104.66" cy="86.87" r="0.45" fill-opacity="0.5"/>
<circle cx="98.52" cy="92.82" r="0.45" fill-opacity="0.5"/>
<circle cx="97.21" cy="91.92" r="0.45" fill-opacity="0.5"/>
<circle cx="100.61" cy="85.92" r="0.45" fill-opacity="0.5"/>
<circle cx="91.43" cy="86.28" r="0.45" fill-opacity="0.5"/>
<circle cx="94.17" cy="89.12" r="0.45" fill-opacity="0.5"/>
<circle cx="97.87" cy="92.26" r="0.45" fill-opacity="0.5"/>
<circle cx="96.53" cy="88.86" r="0.45" fill-opacity="0.5"/>
<circle cx="94.63" cy="94.73" r="0.45" fill-opacity="0.5"/>
<circle cx="99.45" cy="91.66" r="0.45" fill-opacity="0.5"/>
<circle cx="95.11" cy="96.89" r="0.45" fill-opacity="0.5"/>
<circle cx="94.02" cy="93.64" r="0.45" fill-opacity="0.5"/>
<circle cx="101.01" cy="90.34" r="0.45" fill-opacity="0.5"/>
<circle cx="99.70" cy="87.28" r="0.45" fill-opacity="0.5"/>
<circle cx="100.45" cy="92.02" r="0.45" fill-opacity="0.5"/>
<circle cx="90.05" cy="93.71" r="0.45" fill-opacity="0.5"/>
<circle cx="92.83" cy="95.91" r="0.45" fill-opacity="0.5"/>
<circle cx="93.68" cy="90.71" r="0.45" fill-opacity="0.5"/>
<circle cx="97.53" cy="90.10" r="0.45" fill-opacity="0.5"/>
<circle cx="97.44" cy="89.31" r="0.45" fill-opacity="0.5"/>
<circle cx="99.09" cy="91.32" r="0.45" fill-opacity="0.5"/>
<circle cx="97.24" cy="81.39" r="0.45" fill-opacity="0.5"/>
<circle cx="101.05" cy="91.41" r="0.45" fill-opacity="0.5"/>
<circle cx="89.27" cy="91.64" r="0.45" fill-opacity="0.5"/>
<circle cx="98.27" cy="95.15" r="0.45" fill-opacity="0.5"/>
<circle cx="92.07" cy="96.87" r="0.45" fill-opacity="0.5"/>
<circle cx="95.76" cy="99.92" r="0.45" fill-opacity="0.5"/>
<circle cx="95.81" cy="93.75" r="0.45" fill-opacity="0.5"/>
<circle cx="94.93" cy="87.28" r="0.45" fill-opacity="0.5"/>
<circle cx="100.79" cy="94.56" r="0.45" fill-opacity="0.5"/>
<circle cx="102.55" cy="94.39" r="0.45" fill-opacity="0.5"/>
<circle cx="94.11" cy="85.32" r="0.45" fill-opacity="0.5"/>
<circle cx="93.80" cy="88.87" r="0.45" fill-opacity="0.5"/>
<circle cx="93.14" cy="93.40" r="0.45" fill-opacity="0.5"/>
<circle cx="97.71" cy="90.33" r="0.45" fill-opacity="0.5"/>
<circle cx="97.09" cy="90.78" r="0.45" fill-opacity="0.5"/>
<circle cx="97.25" cy="94.01" r="0.45" fill-opacity="0.5"/>
<circle cx="100.24" cy="88.83" r="0.45" fill-opacity="0.5"/>
<circle cx="90.37" cy="96.44" r="0.45" fill-opacity="0.5"/>
<circle cx="96.86" cy="95.28" r="0.45" fill-opacity="0.5"/>
<circle cx="89.83" cy="90.11" r="0.45" fill-opacity="0.5"/>
<circle cx="96.51" cy="86.11" r="0.45" fill-opacity="0.5"/>
<circle cx="94.34" cy="93.91" r="0.45" fill-opacity="0.5"/>
<circle cx="100.71" cy="97.04" r="0.45" fill-opacity="0.5"/>
<circle cx="92.95" cy="86.26" r="0.45" fill-opacity="0.5"/>
<circle cx="98.48" cy="94.69" r="0.45" fill-opacity="0.5"/>
<circle cx="97.17" cy="86.61" r="0.45" fill-opacity="0.5"/>
<circle cx="99.53" cy="94.15" r="0.45" fill-opacity="0.5"/>
<circle cx="98.61" cy="89.55" r="0.45" fill-opacity="0.5"/>
<circle cx="97.62" cy="94.15" r="0.45" fill-opacity="0.5"/>
<circle cx="105.65" cy="85.51" r="0.45" fill-opacity="0.35"/>
<circle cx="110.97" cy="91.55" r="0.45" fill-opacity="0.35"/>
<circle cx="109.08" cy="92.61" r="0.45" fill-opacity="0.35"/>
<circle cx="105.48" cy="90.09" r="0.45" fill-opacity="0.35"/>
<circle cx="107.17" cy="91.79" r="0.45" fill-opacity="0.35"/>
<circle cx="118.57" cy="89.65" r="0.45" fill-opacity="0.35"/>
<circle cx="121.33" cy="94.28" r="0.45" fill-opacity="0.35"/>
<circle cx="113.74" cy="91.83" r="0.45" fill-opacity="0.35"/>
<circle cx="119.62" cy="89.83" r="0.45" fill-opacity="0.35"/>
<circle cx="108.33" cy="87.54" r="0.45" fill-opacity="0.35"/>
<circle cx="111.84" cy="93.80" r="0.45" fill-opacity="0.35"/>
<circle cx="112.19" cy="91.40" r="0.45" fill-opacity="0.35"/>
<circle cx="107.80" cy="90.74" r="0.45" fill-opacity="0.35"/>
<circle cx="100.45" cy="93.03" r="0.45" fill-opacity="0.35"/>
<circle cx="106.54" cy="87.43" r="0.45" fill-opacity="0.35"/>
<circle cx="104.49" cy="88.16" r="0.45" fill-opacity="0.35"/>
<circle cx="114.13" cy="93.05" r="0.45" fill-opacity="0.35"/>
<circle cx="100.85" cy="92.71" r="0.45" fill-opacity="0.35"/>
<circle cx="114.33" cy="88.79" r="0.45" fill-opacity="0.35"/>
<circle cx="100.08" cy="88.36" r="0.45" fill-opacity="0.35"/>
<circle cx="105.20" cy="91.19" r="0.45" fill-opacity="0.35"/>
<circle cx="106.85" cy="85.03" r="0.45" fill-opacity="0.35"/>
<circle cx="110.40" cy="86.31" r="0.45" fill-opacity="0.35"/>
<circle cx="114.43" cy="87.16" r="0.45" fill-opacity="0.35"/>
<circle cx="104.84" cy="88.08" r="0.45" fill-opacity="0.35"/>
<circle cx="105.74" cy="93.67" r="0.45" fill-opacity="0.35"/>
<circle cx="114.11" cy="91.86" r="0.45" fill-opacity="0.35"/>
<circle cx="110.92" cy="86.28" r="0.45" fill-opacity="0.35"/>
<circle cx="105.88" cy="88.87" r="0.45" fill-opacity="0.35"/>
<circle cx="103.14" cy="91.62" r="0.45" fill-opacity="0.35"/>
<circle cx="104.55" cy="88.45" r="0.45" fill-opacity="0.35"/>
<circle cx="102.73" cy="84.95" r="0.45" fill-opacity="0.35"/>
<circle cx="112.57" cy="93.76" r="0.45" fill-opacity="0.35"/>
<circle cx="110.05" cy="87.76" r="0.45" fill-opacity="0.35"/>
<circle cx="92.77" cy="90.75" r="0.45" fill-opacity="0.35"/>
<circle cx="116.30" cy="91.07" r="0.45" fill-opacity="0.35"/>
<circle cx="114.56" cy="94.14" r="0.45" fill-opacity="0.35"/>
<circle cx="115.76" cy="89.15" r="0.45" fill-opacity="0.35"/>
<circle cx="115.31" cy="92.32" r="0.45" fill-opacity="0.35"/>
<circle cx="99.78" cy="89.25" r="0.45" fill-opacity="0.35"/>
<circle cx="100.46" cy="90.02" r="0.45" fill-opacity="0.35"/>
<circle cx="112.47" cy="87.52" r="0.45" fill-opacity="0.35"/>
<circle cx="96.67" cy="93.68" r="0.45" fill-opacity="0.35"/>
<circle cx="111.26" cy="94.13" r="0.45" fill-opacity="0.35"/>
<circle cx="101.06" cy="93.06" r="0.45" fill-opacity="0.35"/>
<circle cx="121.44" cy="95.52" r="0.45" fill-opacity="0.35"/>
<circle cx="107.74" cy="91.00" r="0.45" fill-opacity="0.35"/>
<circle cx="108.08" cy="92.90" r="0.45" fill-opacity="0.35"/>
<circle cx="115.23" cy="90.53" r="0.45" fill-opacity="0.35"/>
<circle cx="100.85" cy="92.23" r="0.45" fill-opacity="0.35"/>
<circle cx="106.18" cy="91.94" r="0.45" fill-opacity="0.35"/>
<circle cx="110.58" cy="94.52" r="0.45" fill-opacity="0.35"/>
<circle cx="115.83" cy="89.13" r="0.45" fill-opacity="0.35"/>
<circle cx="111.09" cy="94.89" r="0.45" fill-opacity="0.35"/>
<circle cx="105.78" cy="91.43" r="0.45" fill-opacity="0.35"/>
<circle cx="116.14" cy="93.57" r="0.45" fill-opacity="0.35"/>
<circle cx="112.11" cy="86.87" r="0.45" fill-opacity="0.35"/>
<circle cx="101.43" cy="90.94" r="0.45" fill-opacity="0.35"/>
<circle cx="111.32" cy="96.92" r="0.45" fill-opacity="0.35"/>
<circle cx="103.83" cy="93.26" r="0.45" fill-opacity="0.35"/>
<circle cx="113.62" cy="85.95" r="0.45" fill-opacity="0.35"/>
<circle cx="104.09" cy="90.73" r="0.45" fill-opacity="0.35"/>
<circle cx="106.04" cy="89.90" r="0.45" fill-opacity="0.35"/>
<circle cx="111.82" cy="88.20" r="0.45" fill-opacity="0.35"/>
<circle cx="111.80" cy="88.65" r="0.45" fill-opacity="0.35"/>
<circle cx="105.73" cy="91.70" r="0.45" fill-opacity="0.35"/>
<circle cx="105.56" cy="91.05" r="0.45" fill-opacity="0.35"/>
<circle cx="118.60" cy="90.37" r="0.45" fill-opacity="0.35"/>
<circle cx="108.12" cy="92.21" r="0.45" fill-opacity="0.35"/>
<circle cx="106.81" cy="93.12" r="0.45" fill-opacity="0.35"/>
<circle cx="101.30" cy="91.91" r="0.45" fill-opacity="0.35"/>
<circle cx="105.93" cy="88.22" r="0.45" fill-opacity="0.35"/>
<circle cx="119.62" cy="88.09" r="0.45" fill-opacity="0.35"/>
<circle cx="119.54" cy="92.01" r="0.45" fill-opacity="0.35"/>
<circle cx="117.72" cy="87.76" r="0.45" fill-opacity="0.35"/>
<circle cx="116.19" cy="94.09" r="0.45" fill-opacity="0.35"/>
<circle cx="108.30" cy="89.96" r="0.45" fill-opacity="0.35"/>
<circle cx="123.74" cy="90.76" r="0.45" fill-opacity="0.35"/>
<circle cx="106.46" cy="88.66" r="0.45" fill-opacity="0.35"/>
<circle cx="111.68" cy="91.16" r="0.45" fill-opacity="0.35"/>
<circle cx="110.07" cy="94.78" r="0.45" fill-opacity="0.35"/>
<circle cx="107.03" cy="91.53" r="0.45" fill-opacity="0.35"/>
<circle cx="117.76" cy="87.69" r="0.45" fill-opacity="0.35"/>
<circle cx="115.23" cy="95.06" r="0.45" fill-opacity="0.35"/>
<circle cx="100.87" cy="87.45" r="0.45" fill-opacity="0.35"/>
<circle cx="102.77" cy="85.50" r="0.45" fill-opacity="0.35"/>
<circle cx="111.72" cy="85.47" r="0.45" fill-opacity="0.35"/>
<circle cx="111.99" cy="94.08" r="0.45" fill-opacity="0.35"/>
<circle cx="99.31" cy="89.48" r="0.45" fill-opacity="0.35"/>
<circle cx="97.49" cy="92.33" r="0.45" fill-opacity="0.35"/>
<circle cx="104.58" cy="89.61" r="0.45" fill-opacity="0.35"/>
<circle cx="109.33" cy="91.72" r="0.45" fill-opacity="0.35"/>
<circle cx="106.92" cy="90.34" r="0.45" fill-opacity="0.35"/>
<circle cx="105.72" cy="90.60" r="0.45" fill-opacity="0.35"/>
<circle cx="101.96" cy="90.47" r="0.45" fill-opacity="0.35"/>
<circle cx="97.41" cy="89.03" r="0.45" fill-opacity="0.35"/>
<circle cx="120.49" cy="90.51" r="0.45" fill-opacity="0.35"/>
<circle cx="101.44" cy="90.97" r="0.45" fill-opacity="0.35"/>
<circle cx="103.17" cy="86.01" r="0.45" fill-opacity="0.35"/>
<circle cx="104.58" cy="92.22" r="0.45" fill-opacity="0.35"/>
<circle cx="111.30" cy="90.05" r="0.45" fill-opacity="0.35"/>
<circle cx="103.44" cy="87.50" r="0.45" fill-opacity="0.35"/>
<circle cx="117.10" cy="90.94" r="0.45" fill-opacity="0.35"/>
<circle cx="103.29" cy="84.81" r="0.45" fill-opacity="0.35"/>
<circle cx="100.78" cy="96.74" r="0.45" fill-opacity="0.35"/>
<circle cx="102.11" cy="90.10" r="0.45" fill-opacity="0.35"/>
<circle cx="110.26" cy="89.89" r="0.45" fill-opacity="0.35"/>
<circle cx="107.33" cy="86.73" r="0.45" fill-opacity="0.35"/>
<circle cx="102.69" cy="94.69" r="0.45" fill-opacity="0.35"/>
<circle cx="104.46" cy="92.50" r="0.45" fill-opacity="0.35"/>
<circle cx="98.84" cy="89.59" r="0.45" fill-opacity="0.35"/>
<circle cx="110.57" cy="92.99" r="0.45" fill-opacity="0.35"/>
<circle cx="102.26" cy="91.85" r="0.45" fill-opacity="0.35"/>
<circle cx="111.32" cy="88.38" r="0.45" fill-opacity="0.35"/>
<circle cx="111.86" cy="87.97" r="0.45" fill-opacity="0.35"/>
<circle cx="104.22" cy="90.25" r="0.45" fill-opacity="0.35"/>
<circle cx="92.72" cy="90.02" r="0.45" fill-opacity="0.35"/>
<circle cx="103.00" cy="86.50" r="0.45" fill-opacity="0.35"/>
<circle cx="106.45" cy="92.28" r="0.45" fill-opacity="0.35"/>
<circle cx="106.57" cy="93.59" r="0.45" fill-opacity="0.35"/>
<circle cx="102.04" cy="86.89" r="0.45" fill-opacity="0.35"/>
<circle cx="118.31" cy="91.34" r="0.45" fill-opacity="0.35"/>
<circle cx="114.67" cy="88.15" r="0.45" fill-opacity="0.35"/>
<circle cx="113.83" cy="90.98" r="0.45" fill-opacity="0.35"/>
<circle cx="112.89" cy="90.37" r="0.45" fill-opacity="0.35"/>
<circle cx="116.24" cy="88.61" r="0.45" fill-opacity="0.35"/>
<circle cx="103.22" cy="86.46" r="0.45" fill-opacity="0.35"/>
<circle cx="115.96" cy="88.38" r="0.45" fill-opacity="0.35"/>
<circle cx="102.74" cy="87.86" r="0.45" fill-opacity="0.35"/>
<circle cx="106.33" cy="86.99" r="0.45" fill-opacity="0.35"/>
<circle cx="107.26" cy="88.67" r="0.45" fill-opacity="0.35"/>
<circle cx="105.69" cy="87.81" r="0.45" fill-opacity="0.35"/>
<circle cx="109.22" cy="89.10" r="0.45" fill-opacity="0.35"/>
<circle cx="109.69" cy="90.95" r="0.45" fill-opacity="0.35"/>
<circle cx="111.04" cy="84.61" r="0.45" fill-opacity="0.35"/>
<circle cx="105.79" cy="88.23" r="0.45" fill-opacity="0.35"/>
<circle cx="113.65" cy="86.20" r="0.45" fill-opacity="0.35"/>
<circle cx="104.71" cy="89.54" r="0.45" fill-opacity="0.35"/>
<circle cx="106.98" cy="92.88" r="0.45" fill-opacity="0.35"/>
<circle cx="106.34" cy="92.81" r="0.45" fill-opacity="0.35"/>
<circle cx="100.21" cy="85.59" r="0.45" fill-opacity="0.35"/>
<circle cx="116.32" cy="91.43" r="0.45" fill-opacity="0.35"/>
<circle cx="111.93" cy="90.62" r="0.45" fill-opacity="0.35"/>
<circle cx="111.91" cy="87.14" r="0.45" fill-opacity="0.35"/>
<circle cx="114.69" cy="88.92" r="0.45" fill-opacity="0.35"/>
<circle cx="114.91" cy="90.53" r="0.45" fill-opacity="0.35"/>
<circle cx="97.16" cy="86.95" r="0.45" fill-opacity="0.35"/>
<circle cx="115.77" cy="89.94" r="0.45" fill-opacity="0.35"/>
<circle cx="106.63" cy="90.93" r="0.45" fill-opacity="0.35"/>
<circle cx="106.45" cy="88.88" r="0.45" fill-opacity="0.35"/>
<circle cx="109.61" cy="90.68" r="0.45" fill-opacity="0.35"/>
<circle cx="118.10" cy="90.42" r="0.45" fill-opacity="0.35"/>
<circle cx="120.28" cy="94.99" r="0.45" fill-opacity="0.35"/>
<circle cx="119.30" cy="93.06" r="0.45" fill-opacity="0.35"/>
<circle cx="109.78" cy="90.66" r="0.45" fill-opacity="0.35"/>
<circle cx="108.14" cy="88.40" r="0.45" fill-opacity="0.35"/>
<circle cx="108.60" cy="88.63" r="0.45" fill-opacity="0.35"/>
<circle cx="118.84" cy="91.69" r="0.45" fill-opacity="0.35"/>
<circle cx="106.32" cy="85.32" r="0.45" fill-opacity="0.35"/>
<circle cx="108.68" cy="89.22" r="0.45" fill-opacity="0.35"/>
<circle cx="102.49" cy="87.35" r="0.45" fill-opacity="0.35"/>
<circle cx="95.50" cy="91.78" r="0.45" fill-opacity="0.35"/>
<circle cx="108.61" cy="97.01" r="0.45" fill-opacity="0.35"/>
<circle cx="108.81" cy="89.91" r="0.45" fill-opacity="0.35"/>
<circle cx="117.67" cy="90.65" r="0.45" fill-opacity="0.35"/>
<circle cx="110.00" cy="89.33" r="0.45" fill-opacity="0.35"/>
<circle cx="105.37" cy="94.20" r="0.45" fill-opacity="0.35"/>
<circle cx="115.00" cy="94.76" r="0.45" fill-opacity="0.35"/>
<circle cx="106.90" cy="90.38" r="0.45" fill-opacity="0.35"/>
<circle cx="103.72" cy="92.81" r="0.45" fill-opacity="0.35"/>
<circle cx="100.64" cy="91.77" r="0.45" fill-opacity="0.35"/>
<circle cx="115.58" cy="93.97" r="0.45" fill-opacity="0.35"/>
<circle cx="103.36" cy="93.13" r="0.45" fill-opacity="0.35"/>
<circle cx="104.72" cy="88.33" r="0.45" fill-opacity="0.35"/>
<circle cx="101.06" cy="93.30" r="0.45" fill-opacity="0.35"/>
<circle cx="118.89" cy="88.75" r="0.45" fill-opacity="0.35"/>
<circle cx="104.44" cy="89.42" r="0.45" fill-opacity="0.35"/>
<circle cx="124.04" cy="92.91" r="0.45" fill-opacity="0.35"/>
<circle cx="105.74" cy="85.63" r="0.45" fill-opacity="0.35"/>
<circle cx="104.96" cy="93.39" r="0.45" fill-opacity="0.35"/>
<circle cx="120.21" cy="89.61" r="0.45" fill-opacity="0.35"/>
<circle cx="104.85" cy="88.97" r="0.45" fill-opacity="0.35"/>
<circle cx="97.69" cy="92.66" r="0.45" fill-opacity="0.35"/>
<circle cx="102.49" cy="93.06" r="0.45" fill-opacity="0.35"/>
<circle cx="98.75" cy="87.00" r="0.45" fill-opacity="0.35"/>
<circle cx="110.73" cy="88.31" r="0.45" fill-opacity="0.35"/>
<circle cx="113.69" cy="90.32" r="0.45" fill-opacity="0.35"/>
<circle cx="101.95" cy="91.92" r="0.45" fill-opacity="0.35"/>
<circle cx="114.05" cy="85.33" r="0.45" fill-opacity="0.35"/>
<circle cx="119.96" cy="91.59" r="0.45" fill-opacity="0.35"/>
<circle cx="113.56" cy="85.46" r="0.45" fill-opacity="0.35"/>
<circle cx="104.68" cy="89.39" r="0.45" fill-opacity="0.35"/>
<circle cx="115.46" cy="86.51" r="0.45" fill-opacity="0.35"/>
<circle cx="103.70" cy="85.02" r="0.45" fill-opacity="0.35"/>
<circle cx="107.55" cy="91.20" r="0.45" fill-opacity="0.35"/>
<circle cx="98.88" cy="88.76" r="0.45" fill-opacity="0.35"/>
<circle cx="112.06" cy="94.42" r="0.45" fill-opacity="0.35"/>
<circle cx="112.98" cy="89.51" r="0.45" fill-opacity="0.35"/>
<circle cx="101.93" cy="87.87" r="0.45" fill-opacity="0.35"/>
<circle cx="105.01" cy="90.68" r="0.45" fill-opacity="0.35"/>
<circle cx="108.70" cy="94.63" r="0.45" fill-opacity="0.35"/>
<circle cx="110.72" cy="87.51" r="0.45" fill-opacity="0.35"/>
<circle cx="118.27" cy="92.77" r="0.45" fill-opacity="0.35"/>
<circle cx="109.61" cy="88.43" r="0.45" fill-opacity="0.35"/>
<circle cx="97.78" cy="87.64" r="0.45" fill-opacity="0.35"/>
<circle cx="114.47" cy="88.21" r="0.45" fill-opacity="0.35"/>
<circle cx="101.08" cy="90.81" r="0.45" fill-opacity="0.35"/>
<circle cx="110.46" cy="91.88" r="0.45" fill-opacity="0.35"/>
<circle cx="112.93" cy="93.96" r="0.45" fill-opacity="0.35"/>
<circle cx="103.96" cy="92.84" r="0.45" fill-opacity="0.35"/>
<circle cx="103.08" cy="92.10" r="0.45" fill-opacity="0.35"/>
<circle cx="110.07" cy="90.93" r="0.45" fill-opacity="0.35"/>
<circle cx="114.81" cy="90.25" r="0.45" fill-opacity="0.35"/>
<circle cx="115.67" cy="92.58" r="0.45" fill-opacity="0.35"/>
<circle cx="109.81" cy="88.83" r="0.45" fill-opacity="0.35"/>
<circle cx="104.48" cy="88.93" r="0.45" fill-opacity="0.35"/>
<circle cx="107.79" cy="90.24" r="0.45" fill-opacity="0.35"/>
<circle cx="126.89" cy="91.96" r="0.45" fill-opacity="0.35"/>
<circle cx="113.62" cy="88.06" r="0.45" fill-opacity="0.35"/>
<circle cx="104.74" cy="89.47" r="0.45" fill-opacity="0.35"/>
<circle cx="119.96" cy="87.52" r="0.45" fill-opacity="0.25"/>
<circle cx="127.06" cy="88.56" r="0.45" fill-opacity="0.25"/>
<circle cx="124.39" cy="84.66" r="0.45" fill-opacity="0.25"/>
<circle cx="118.97" cy="90.41" r="0.45" fill-opacity="0.25"/>
<circle cx="119.96" cy="91.12" r="0.45" fill-opacity="0.25"/>
<circle cx="120.40" cy="90.16" r="0.45" fill-opacity="0.25"/>
<circle cx="109.54" cy="88.23" r="0.45" fill-opacity="0.25"/>
<circle cx="107.29" cy="91.18" r="0.45" fill-opacity="0.25"/>
<circle cx="120.54" cy="89.37" r="0.45" fill-opacity="0.25"/>
<circle cx="114.89" cy="88.52" r="0.45" fill-opacity="0.25"/>
<circle cx="128.23" cy="93.61" r="0.45" fill-opacity="0.25"/>
<circle cx="118.71" cy="92.63" r="0.45" fill-opacity="0.25"/>
<circle cx="111.06" cy="85.54" r="0.45" fill-opacity="0.25"/>
<circle cx="116.58" cy="87.88" r="0.45" fill-opacity="0.25"/>
<circle cx="116.20" cy="90.21" r="0.45" fill-opacity="0.25"/>
<circle cx="134.12" cy="88.35" r="0.45" fill-opacity="0.25"/>
<circle cx="119.25" cy="90.41" r="0.45" fill-opacity="0.25"/>
<circle cx="118.83" cy="91.85" r="0.45" fill-opacity="0.25"/>
<circle cx="127.88" cy="87.06" r="0.45" fill-opacity="0.25"/>
<circle cx="119.81" cy="89.22" r="0.45" fill-opacity="0.25"/>
<circle cx="120.78" cy="86.43" r="0.45" fill-opacity="0.25"/>
<circle cx="110.21" cy="84.70" r="0.45" fill-opacity="0.25"/>
<circle cx="121.63" cy="90.22" r="0.45" fill-opacity="0.25"/>
<circle cx="119.37" cy="84.59" r="0.45" fill-opacity="0.25"/>
<circle cx="117.13" cy="88.14" r="0.45" fill-opacity="0.25"/>
<circle cx="111.93" cy="87.79" r="0.45" fill-opacity="0.25"/>
<circle cx="122.49" cy="91.00" r="0.45" fill-opacity="0.25"/>
<circle cx="118.89" cy="90.93" r="0.45" fill-opacity="0.25"/>
<circle cx="115.98" cy="89.96" r="0.45" fill-opacity="0.25"/>
<circle cx="119.20" cy="91.02" r="0.45" fill-opacity="0.25"/>
<circle cx="118.65" cy="89.49" r="0.45" fill-opacity="0.25"/>
<circle cx="118.33" cy="88.38" r="0.45" fill-opacity="0.25"/>
<circle cx="130.17" cy="90.93" r="0.45" fill-opacity="0.25"/>
<circle cx="121.14" cy="94.84" r="0.45" fill-opacity="0.25"/>
<circle cx="126.02" cy="86.38" r="0.45" fill-opacity="0.25"/>
<circle cx="122.48" cy="91.64" r="0.45" fill-opacity="0.25"/>
<circle cx="128.42" cy="92.69" r="0.45" fill-opacity="0.25"/>
<circle cx="122.85" cy="87.21" r="0.45" fill-opacity="0.25"/>
<circle cx="114.65" cy="90.39" r="0.45" fill-opacity="0.25"/>
<circle cx="121.52" cy="87.55" r="0.45" fill-opacity="0.25"/>
<circle cx="117.08" cy="88.92" r="0.45" fill-opacity="0.25"/>
<circle cx="119.30" cy="90.54" r="0.45" fill-opacity="0.25"/>
<circle cx="117.57" cy="87.08" r="0.45" fill-opacity="0.25"/>
<circle cx="125.21" cy="93.31" r="0.45" fill-opacity="0.25"/>
<circle cx="118.47" cy="92.05" r="0.45" fill-opacity="0.25"/>
<circle cx="121.22" cy="91.25" r="0.45" fill-opacity="0.25"/>
<circle cx="121.41" cy="88.12" r="0.45" fill-opacity="0.25"/>
<circle cx="121.87" cy="92.02" r="0.45" fill-opacity="0.25"/>
<circle cx="114.52" cy="94.13" r="0.45" fill-opacity="0.25"/>
<circle cx="129.45" cy="93.81" r="0.45" fill-opacity="0.25"/>
<circle cx="128.95" cy="91.43" r="0.45" fill-opacity="0.25"/>
<circle cx="117.31" cy="88.48" r="0.45" fill-opacity="0.25"/>
<circle cx="114.94" cy="90.06" r="0.45" fill-opacity="0.25"/>
<circle cx="118.84" cy="91.27" r="0.45" fill-opacity="0.25"/>
<circle cx="108.90" cy="94.89" r="0.45" fill-opacity="0.25"/>
<circle cx="130.38" cy="89.74" r="0.45" fill-opacity="0.25"/>
<circle cx="122.38" cy="90.85" r="0.45" fill-opacity="0.25"/>
<circle cx="120.37" cy="89.34" r="0.45" fill-opacity="0.25"/>
<circle cx="118.39" cy="87.99" r="0.45" fill-opacity="0.25"/>
<circle cx="119.89" cy="89.75" r="0.45" fill-opacity="0.25"/>
<circle cx="120.60" cy="87.92" r="0.45" fill-opacity="0.25"/>
<circle cx="119.20" cy="89.91" r="0.45" fill-opacity="0.25"/>
<circle cx="122.02" cy="87.46" r="0.45" fill-opacity="0.25"/>
<circle cx="121.10" cy="91.96" r="0.45" fill-opacity="0.25"/>
<circle cx="121.99" cy="88.99" r="0.45" fill-opacity="0.25"/>
<circle cx="116.54" cy="89.28" r="0.45" fill-opacity="0.25"/>
<circle cx="122.65" cy="93.22" r="0.45" fill-opacity="0.25"/>
<circle cx="118.21" cy="88.39" r="0.45" fill-opacity="0.25"/>
<circle cx="120.88" cy="90.25" r="0.45" fill-opacity="0.25"/>
<circle cx="114.46" cy="88.18" r="0.45" fill-opacity="0.25"/>
<circle cx="118.49" cy="91.28" r="0.45" fill-opacity="0.25"/>
<circle cx="113.03" cy="87.56" r="0.45" fill-opacity="0.25"/>
<circle cx="121.50" cy="87.11" r="0.45" fill-opacity="0.25"/>
<circle cx="119.54" cy="90.57" r="0.45" fill-opacity="0.25"/>
<circle cx="118.44" cy="87.56" r="0.45" fill-opacity="0.25"/>
<circle cx="118.70" cy="89.07" r="0.45" fill-opacity="0.25"/>
<circle cx="120.68" cy="87.95" r="0.45" fill-opacity="0.25"/>
<circle cx="124.46" cy="86.11" r="0.45" fill-opacity="0.25"/>
<circle cx="118.12" cy="89.82" r="0.45" fill-opacity="0.25"/>
<circle cx="123.81" cy="88.46" r="0.45" fill-opacity="0.25"/>
<circle cx="121.73" cy="88.55" r="0.45" fill-opacity="0.25"/>
<circle cx="122.69" cy="93.62" r="0.45" fill-opacity="0.25"/>
<circle cx="116.99" cy="90.77" r="0.45" fill-opacity="0.25"/>
<circle cx="114.36" cy="91.94" r="0.45" fill-opacity="0.25"/>
<circle cx="125.05" cy="89.88" r="0.45" fill-opacity="0.25"/>
<circle cx="113.33" cy="90.69" r="0.45" fill-opacity="0.25"/>
<circle cx="124.75" cy="92.20" r="0.45" fill-opacity="0.25"/>
<circle cx="123.07" cy="85.77" r="0.45" fill-opacity="0.25"/>
<circle cx="115.60" cy="92.93" r="0.45" fill-opacity="0.25"/>
<circle cx="112.87" cy="92.29" r="0.45" fill-opacity="0.25"/>
<circle cx="104.09" cy="116.57" r="0.45" fill-opacity="0.22"/>
<circle cx="101.42" cy="110.00" r="0.45" fill-opacity="0.22"/>
<circle cx="93.21" cy="111.38" r="0.45" fill-opacity="0.22"/>
<circle cx="96.80" cy="111.71" r="0.45" fill-opacity="0.22"/>
<circle cx="99.94" cy="111.13" r="0.45" fill-opacity="0.22"/>
<circle cx="98.17" cy="114.54" r="0.45" fill-opacity="0.22"/>
<circle cx="97.48" cy="123.06" r="0.45" fill-opacity="0.22"/>
<circle cx="99.05" cy="112.51" r="0.45" fill-opacity="0.22"/>
<circle cx="96.77" cy="108.25" r="0.45" fill-opacity="0.22"/>
<circle cx="102.20" cy="112.90" r="0.45" fill-opacity="0.22"/>
<circle cx="93.72" cy="108.63" r="0.45" fill-opacity="0.22"/>
<circle cx="97.02" cy="109.33" r="0.45" fill-opacity="0.22"/>
<circle cx="101.30" cy="105.03" r="0.45" fill-opacity="0.22"/>
<circle cx="99.22" cy="112.86" r="0.45" fill-opacity="0.22"/>
<circle cx="93.38" cy="112.28" r="0.45" fill-opacity="0.22"/>
<circle cx="97.17" cy="115.01" r="0.45" fill-opacity="0.22"/>
<circle cx="95.92" cy="113.82" r="0.45" fill-opacity="0.22"/>
<circle cx="91.67" cy="105.50" r="0.45" fill-opacity="0.22"/>
<circle cx="100.25" cy="118.25" r="0.45" fill-opacity="0.22"/>
<circle cx="97.45" cy="108.41" r="0.45" fill-opacity="0.22"/>
<circle cx="101.29" cy="99.45" r="0.45" fill-opacity="0.22"/>
<circle cx="94.70" cy="116.03" r="0.45" fill-opacity="0.22"/>
<circle cx="99.78" cy="105.81" r="0.45" fill-opacity="0.22"/>
<circle cx="90.89" cy="120.71" r="0.45" fill-opacity="0.22"/>
<circle cx="98.04" cy="106.62" r="0.45" fill-opacity="0.22"/>
<circle cx="97.69" cy="117.41" r="0.45" fill-opacity="0.22"/>
<circle cx="88.43" cy="118.66" r="0.45" fill-opacity="0.22"/>
<circle cx="100.09" cy="99.51" r="0.45" fill-opacity="0.22"/>
<circle cx="100.20" cy="101.32" r="0.45" fill-opacity="0.22"/>
<circle cx="101.49" cy="114.39" r="0.45" fill-opacity="0.22"/>
<circle cx="105.38" cy="108.34" r="0.45" fill-opacity="0.22"/>
<circle cx="97.52" cy="118.28" r="0.45" fill-opacity="0.22"/>
<circle cx="95.26" cy="107.77" r="0.45" fill-opacity="0.22"/>
<circle cx="96.20" cy="111.56" r="0.45" fill-opacity="0.22"/>
<circle cx="93.71" cy="114.91" r="0.45" fill-opacity="0.22"/>
<circle cx="99.40" cy="112.43" r="0.45" fill-opacity="0.22"/>
<circle cx="103.45" cy="110.03" r="0.45" fill-opacity="0.22"/>
<circle cx="102.07" cy="108.72" r="0.45" fill-opacity="0.22"/>
<circle cx="100.15" cy="100.39" r="0.45" fill-opacity="0.22"/>
<circle cx="98.19" cy="110.95" r="0.45" fill-opacity="0.22"/>
<circle cx="95.77" cy="108.34" r="0.45" fill-opacity="0.22"/>
<circle cx="96.28" cy="107.68" r="0.45" fill-opacity="0.22"/>
<circle cx="89.82" cy="108.42" r="0.45" fill-opacity="0.22"/>
<circle cx="95.58" cy="108.85" r="0.45" fill-opacity="0.22"/>
<circle cx="93.80" cy="111.19" r="0.45" fill-opacity="0.22"/>
<circle cx="100.25" cy="110.50" r="0.45" fill-opacity="0.22"/>
<circle cx="95.78" cy="120.14" r="0.45" fill-opacity="0.22"/>
<circle cx="100.92" cy="117.53" r="0.45" fill-opacity="0.22"/>
<circle cx="101.54" cy="110.04" r="0.45" fill-opacity="0.22"/>
<circle cx="97.05" cy="118.68" r="0.45" fill-opacity="0.22"/>
<circle cx="95.56" cy="111.28" r="0.45" fill-opacity="0.22"/>
<circle cx="98.82" cy="114.24" r="0.45" fill-opacity="0.22"/>
<circle cx="96.53" cy="117.90" r="0.45" fill-opacity="0.22"/>
<circle cx="96.88" cy="116.35" r="0.45" fill-opacity="0.22"/>
<circle cx="101.25" cy="115.96" r="0.45" fill-opacity="0.22"/>
<circle cx="100.07" cy="105.04" r="0.45" fill-opacity="0.22"/>
<circle cx="92.91" cy="108.29" r="0.45" fill-opacity="0.22"/>
<circle cx="99.16" cy="121.00" r="0.45" fill-opacity="0.22"/>
<circle cx="93.22" cy="113.84" r="0.45" fill-opacity="0.22"/>
<circle cx="94.51" cy="107.61" r="0.45" fill-opacity="0.22"/>
<circle cx="96.53" cy="116.15" r="0.45" fill-opacity="0.22"/>
<circle cx="98.25" cy="119.08" r="0.45" fill-opacity="0.22"/>
<circle cx="94.05" cy="117.34" r="0.45" fill-opacity="0.22"/>
<circle cx="100.76" cy="112.42" r="0.45" fill-opacity="0.22"/>
<circle cx="99.17" cy="108.62" r="0.45" fill-opacity="0.22"/>
<circle cx="93.69" cy="109.57" r="0.45" fill-opacity="0.22"/>
<circle cx="95.25" cy="129.34" r="0.45" fill-opacity="0.22"/>
<circle cx="95.80" cy="121.90" r="0.45" fill-opacity="0.22"/>
<circle cx="98.21" cy="113.87" r="0.45" fill-opacity="0.22"/>
<circle cx="100.10" cy="107.33" r="0.45" fill-opacity="0.22"/>
<circle cx="100.71" cy="114.26" r="0.45" fill-opacity="0.22"/>
<circle cx="92.19" cy="115.61" r="0.45" fill-opacity="0.22"/>
<circle cx="99.43" cy="114.72" r="0.45" fill-opacity="0.22"/>
<circle cx="103.05" cy="109.51" r="0.45" fill-opacity="0.22"/>
<circle cx="99.29" cy="116.49" r="0.45" fill-opacity="0.22"/>
<circle cx="94.35" cy="119.20" r="0.45" fill-opacity="0.22"/>
<circle cx="92.42" cy="104.20" r="0.45" fill-opacity="0.22"/>
<circle cx="99.33" cy="105.47" r="0.45" fill-opacity="0.22"/>
<circle cx="97.09" cy="102.13" r="0.45" fill-opacity="0.22"/>
<circle cx="97.74" cy="105.20" r="0.45" fill-opacity="0.22"/>
<circle cx="98.70" cy="102.80" r="0.45" fill-opacity="0.22"/>
<circle cx="99.07" cy="110.40" r="0.45" fill-opacity="0.22"/>
<circle cx="97.72" cy="111.59" r="0.45" fill-opacity="0.22"/>
<circle cx="97.96" cy="104.07" r="0.45" fill-opacity="0.22"/>
<circle cx="88.52" cy="112.20" r="0.45" fill-opacity="0.22"/>
<circle cx="94.22" cy="109.27" r="0.45" fill-opacity="0.22"/>
<circle cx="98.99" cy="100.09" r="0.45" fill-opacity="0.22"/>
<circle cx="94.83" cy="108.34" r="0.45" fill-opacity="0.22"/>
<circle cx="93.80" cy="113.96" r="0.45" fill-opacity="0.22"/>
<circle cx="97.01" cy="107.08" r="0.45" fill-opacity="0.22"/>
<circle cx="94.05" cy="116.84" r="0.45" fill-opacity="0.22"/>
<circle cx="95.19" cy="115.51" r="0.45" fill-opacity="0.22"/>
<circle cx="99.07" cy="100.64" r="0.45" fill-opacity="0.22"/>
<circle cx="93.71" cy="112.02" r="0.45" fill-opacity="0.22"/>
<circle cx="98.70" cy="116.68" r="0.45" fill-opacity="0.22"/>
<circle cx="100.31" cy="118.21" r="0.45" fill-opacity="0.22"/>
<circle cx="96.19" cy="110.74" r="0.45" fill-opacity="0.22"/>
<circle cx="100.22" cy="109.45" r="0.45" fill-opacity="0.22"/>
<circle cx="101.20" cy="102.46" r="0.45" fill-opacity="0.22"/>
<circle cx="99.79" cy="110.96" r="0.45" fill-opacity="0.22"/>
<circle cx="90.62" cy="117.88" r="0.45" fill-opacity="0.22"/>
<circle cx="98.59" cy="112.13" r="0.45" fill-opacity="0.22"/>
<circle cx="93.73" cy="109.21" r="0.45" fill-opacity="0.22"/>
<circle cx="102.79" cy="107.04" r="0.45" fill-opacity="0.22"/>
<circle cx="85.35" cy="106.86" r="0.45" fill-opacity="0.22"/>
<circle cx="93.30" cy="111.21" r="0.45" fill-opacity="0.22"/>
<circle cx="96.12" cy="106.53" r="0.45" fill-opacity="0.22"/>
<circle cx="94.55" cy="118.29" r="0.45" fill-opacity="0.22"/>
<circle cx="92.45" cy="123.74" r="0.45" fill-opacity="0.22"/>
<circle cx="95.60" cy="105.44" r="0.45" fill-opacity="0.22"/>
<circle cx="89.68" cy="116.85" r="0.4" fill-opacity="0.15"/>
<circle cx="94.82" cy="123.77" r="0.4" fill-opacity="0.15"/>
<circle cx="97.76" cy="135.55" r="0.4" fill-opacity="0.15"/>
<circle cx="104.40" cy="121.01" r="0.4" fill-opacity="0.15"/>
<circle cx="95.48" cy="126.11" r="0.4" fill-opacity="0.15"/>
<circle cx="104.93" cy="115.70" r="0.4" fill-opacity="0.15"/>
<circle cx="97.01" cy="133.19" r="0.4" fill-opacity="0.15"/>
<circle cx="90.90" cy="114.77" r="0.4" fill-opacity="0.15"/>
<circle cx="104.63" cy="133.56" r="0.4" fill-opacity="0.15"/>
<circle cx="96.71" cy="107.09" r="0.4" fill-opacity="0.15"/>
<circle cx="103.21" cy="128.53" r="0.4" fill-opacity="0.15"/>
<circle cx="101.95" cy="139.64" r="0.4" fill-opacity="0.15"/>
<circle cx="103.10" cy="118.57" r="0.4" fill-opacity="0.15"/>
<circle cx="90.66" cy="113.73" r="0.4" fill-opacity="0.15"/>
<circle cx="96.70" cy="121.68" r="0.4" fill-opacity="0.15"/>
<circle cx="91.20" cy="109.75" r="0.4" fill-opacity="0.15"/>
<circle cx="98.71" cy="125.32" r="0.4" fill-opacity="0.15"/>
<circle cx="94.00" cy="139.77" r="0.4" fill-opacity="0.15"/>
<circle cx="98.82" cy="104.57" r="0.4" fill-opacity="0.15"/>
<circle cx="94.99" cy="132.14" r="0.4" fill-opacity="0.15"/>
<circle cx="93.21" cy="128.56" r="0.4" fill-opacity="0.15"/>
<circle cx="88.07" cy="114.26" r="0.4" fill-opacity="0.15"/>
<circle cx="102.32" cy="124.69" r="0.4" fill-opacity="0.15"/>
<circle cx="99.36" cy="110.28" r="0.4" fill-opacity="0.15"/>
<circle cx="96.46" cy="123.47" r="0.4" fill-opacity="0.15"/>
<circle cx="92.52" cy="126.93" r="0.4" fill-opacity="0.15"/>
<circle cx="97.04" cy="139.89" r="0.4" fill-opacity="0.15"/>
<circle cx="97.77" cy="118.21" r="0.4" fill-opacity="0.15"/>
<circle cx="90.07" cy="108.80" r="0.4" fill-opacity="0.15"/>
<circle cx="100.91" cy="106.95" r="0.4" fill-opacity="0.15"/>
<circle cx="89.70" cy="109.31" r="0.4" fill-opacity="0.15"/>
<circle cx="96.88" cy="133.46" r="0.4" fill-opacity="0.15"/>
<circle cx="98.42" cy="132.84" r="0.4" fill-opacity="0.15"/>
<circle cx="89.06" cy="103.46" r="0.4" fill-opacity="0.15"/>
<circle cx="101.10" cy="114.94" r="0.4" fill-opacity="0.15"/>
<circle cx="100.16" cy="116.09" r="0.4" fill-opacity="0.15"/>
<circle cx="90.88" cy="112.86" r="0.4" fill-opacity="0.15"/>
<circle cx="89.69" cy="136.44" r="0.4" fill-opacity="0.15"/>
<circle cx="97.90" cy="115.91" r="0.4" fill-opacity="0.15"/>
<circle cx="95.65" cy="117.27" r="0.4" fill-opacity="0.15"/>
<circle cx="122.42" cy="167.50" r="0.45" fill-opacity="0.5"/>
<circle cx="105.70" cy="162.78" r="0.45" fill-opacity="0.5"/>
<circle cx="109.33" cy="167.04" r="0.45" fill-opacity="0.5"/>
<circle cx="114.51" cy="166.52" r="0.45" fill-opacity="0.5"/>
<circle cx="121.63" cy="163.81" r="0.45" fill-opacity="0.5"/>
<circle cx="111.11" cy="170.52" r="0.45" fill-opacity="0.5"/>
<circle cx="115.87" cy="163.93" r="0.45" fill-opacity="0.5"/>
<circle cx="106.39" cy="162.14" r="0.45" fill-opacity="0.5"/>
<circle cx="104.72" cy="165.96" r="0.45" fill-opacity="0.5"/>
<circle cx="114.68" cy="168.18" r="0.45" fill-opacity="0.5"/>
<circle cx="113.94" cy="164.14" r="0.45" fill-opacity="0.5"/>
<circle cx="111.54" cy="170.36" r="0.45" fill-opacity="0.5"/>
<circle cx="107.44" cy="166.22" r="0.45" fill-opacity="0.5"/>
<circle cx="114.60" cy="167.28" r="0.45" fill-opacity="0.5"/>
<circle cx="112.88" cy="167.00" r="0.45" fill-opacity="0.5"/>
<circle cx="117.76" cy="165.45" r="0.45" fill-opacity="0.5"/>
<circle cx="112.67" cy="165.35" r="0.45" fill-opacity="0.5"/>
<circle cx="110.64" cy="165.30" r="0.45" fill-opacity="0.5"/>
<circle cx="113.29" cy="166.30" r="0.45" fill-opacity="0.5"/>
<circle cx="119.84" cy="168.94" r="0.45" fill-opacity="0.5"/>
<circle cx="112.72" cy="167.25" r="0.45" fill-opacity="0.5"/>
<circle cx="115.68" cy="167.63" r="0.45" fill-opacity="0.5"/>
<circle cx="114.59" cy="166.44" r="0.45" fill-opacity="0.5"/>
<circle cx="112.62" cy="163.92" r="0.45" fill-opacity="0.5"/>
<circle cx="117.99" cy="168.92" r="0.45" fill-opacity="0.5"/>
<circle cx="117.15" cy="166.85" r="0.45" fill-opacity="0.5"/>
<circle cx="115.56" cy="164.72" r="0.45" fill-opacity="0.5"/>
<circle cx="107.37" cy="167.39" r="0.45" fill-opacity="0.5"/>
<circle cx="115.30" cy="164.47" r="0.45" fill-opacity="0.5"/>
<circle cx="110.64" cy="168.87" r="0.45" fill-opacity="0.5"/>
<circle cx="107.28" cy="170.03" r="0.45" fill-opacity="0.5"/>
<circle cx="117.06" cy="171.49" r="0.45" fill-opacity="0.5"/>
<circle cx="111.63" cy="165.75" r="0.45" fill-opacity="0.5"/>
<circle cx="112.47" cy="166.17" r="0.45" fill-opacity="0.5"/>
<circle cx="113.66" cy="164.00" r="0.45" fill-opacity="0.5"/>
<circle cx="118.80" cy="163.92" r="0.45" fill-opacity="0.5"/>
<circle cx="112.47" cy="167.13" r="0.45" fill-opacity="0.5"/>
<circle cx="112.35" cy="164.76" r="0.45" fill-opacity="0.5"/>
<circle cx="115.92" cy="164.92" r="0.45" fill-opacity="0.5"/>
<circle cx="109.51" cy="165.55" r="0.45" fill-opacity="0.5"/>
<circle cx="113.62" cy="169.89" r="0.45" fill-opacity="0.5"/>
<circle cx="110.11" cy="168.13" r="0.45" fill-opacity="0.5"/>
<circle cx="111.36" cy="164.95" r="0.45" fill-opacity="0.5"/>
<circle cx="113.19" cy="166.45" r="0.45" fill-opacity="0.5"/>
<circle cx="117.95" cy="170.00" r="0.45" fill-opacity="0.5"/>
<circle cx="111.95" cy="168.99" r="0.45" fill-opacity="0.5"/>
<circle cx="118.48" cy="167.75" r="0.45" fill-opacity="0.5"/>
<circle cx="111.46" cy="167.96" r="0.45" fill-opacity="0.5"/>
<circle cx="114.07" cy="166.65" r="0.45" fill-opacity="0.5"/>
<circle cx="113.42" cy="167.39" r="0.45" fill-opacity="0.5"/>
<circle cx="118.96" cy="168.51" r="0.45" fill-opacity="0.5"/>
<circle cx="113.68" cy="168.19" r="0.45" fill-opacity="0.5"/>
<circle cx="120.31" cy="163.56" r="0.45" fill-opacity="0.5"/>
<circle cx="120.39" cy="162.60" r="0.45" fill-opacity="0.5"/>
<circle cx="116.67" cy="167.23" r="0.45" fill-opacity="0.5"/>
<circle cx="120.43" cy="166.47" r="0.45" fill-opacity="0.5"/>
<circle cx="112.58" cy="163.89" r="0.45" fill-opacity="0.5"/>
<circle cx="109.50" cy="167.64" r="0.45" fill-opacity="0.5"/>
<circle cx="113.55" cy="164.08" r="0.45" fill-opacity="0.5"/>
<circle cx="116.63" cy="163.96" r="0.45" fill-opacity="0.5"/>
<circle cx="112.75" cy="164.70" r="0.45" fill-opacity="0.5"/>
<circle cx="121.12" cy="169.31" r="0.45" fill-opacity="0.5"/>
<circle cx="113.87" cy="162.03" r="0.45" fill-opacity="0.5"/>
<circle cx="115.61" cy="165.97" r="0.45" fill-opacity="0.5"/>
<circle cx="115.90" cy="167.16" r="0.45" fill-opacity="0.5"/>
<circle cx="113.22" cy="168.02" r="0.45" fill-opacity="0.5"/>
<circle cx="117.85" cy="166.31" r="0.45" fill-opacity="0.5"/>
<circle cx="112.87" cy="164.65" r="0.45" fill-opacity="0.5"/>
<circle cx="117.27" cy="163.16" r="0.45" fill-opacity="0.5"/>
<circle cx="113.86" cy="164.00" r="0.45" fill-opacity="0.5"/>
<circle cx="108.93" cy="167.25" r="0.45" fill-opacity="0.5"/>
<circle cx="114.40" cy="165.89" r="0.45" fill-opacity="0.5"/>
<circle cx="118.00" cy="162.21" r="0.45" fill-opacity="0.5"/>
<circle cx="114.23" cy="166.49" r="0.45" fill-opacity="0.5"/>
<circle cx="117.83" cy="163.20" r="0.45" fill-opacity="0.5"/>
<circle cx="117.36" cy="166.33" r="0.45" fill-opacity="0.5"/>
<circle cx="119.92" cy="168.53" r="0.45" fill-opacity="0.5"/>
<circle cx="116.70" cy="170.96" r="0.45" fill-opacity="0.5"/>
<circle cx="114.49" cy="164.78" r="0.45" fill-opacity="0.5"/>
<circle cx="113.14" cy="163.54" r="0.45" fill-opacity="0.5"/>
<circle cx="114.38" cy="161.29" r="0.45" fill-opacity="0.5"/>
<circle cx="114.16" cy="166.82" r="0.45" fill-opacity="0.5"/>
<circle cx="118.47" cy="164.97" r="0.45" fill-opacity="0.5"/>
<circle cx="120.06" cy="164.24" r="0.45" fill-opacity="0.5"/>
<circle cx="113.96" cy="161.29" r="0.45" fill-opacity="0.5"/>
<circle cx="111.46" cy="163.90" r="0.45" fill-opacity="0.5"/>
<circle cx="120.34" cy="167.04" r="0.45" fill-opacity="0.5"/>
<circle cx="110.19" cy="167.05" r="0.45" fill-opacity="0.5"/>
<circle cx="116.38" cy="165.25" r="0.45" fill-opacity="0.5"/>
<circle cx="114.59" cy="165.08" r="0.45" fill-opacity="0.5"/>
<circle cx="112.38" cy="161.65" r="0.45" fill-opacity="0.5"/>
<circle cx="114.15" cy="168.81" r="0.45" fill-opacity="0.5"/>
<circle cx="120.09" cy="165.15" r="0.45" fill-opacity="0.5"/>
<circle cx="111.58" cy="165.30" r="0.45" fill-opacity="0.5"/>
<circle cx="118.01" cy="166.62" r="0.45" fill-opacity="0.5"/>
<circle cx="112.22" cy="166.65" r="0.45" fill-opacity="0.5"/>
<circle cx="113.70" cy="167.01" r="0.45" fill-opacity="0.5"/>
<circle cx="112.91" cy="162.35" r="0.45" fill-opacity="0.5"/>
<circle cx="114.73" cy="167.58" r="0.45" fill-opacity="0.5"/>
<circle cx="110.18" cy="165.55" r="0.45" fill-opacity="0.5"/>
<circle cx="117.92" cy="164.92" r="0.45" fill-opacity="0.5"/>
<circle cx="111.96" cy="170.55" r="0.45" fill-opacity="0.5"/>
<circle cx="117.73" cy="168.20" r="0.45" fill-opacity="0.5"/>
<circle cx="110.81" cy="169.62" r="0.45" fill-opacity="0.5"/>
<circle cx="108.05" cy="164.59" r="0.45" fill-opacity="0.5"/>
<circle cx="117.38" cy="168.91" r="0.45" fill-opacity="0.5"/>
<circle cx="110.88" cy="164.25" r="0.45" fill-opacity="0.5"/>
<circle cx="115.26" cy="161.30" r="0.45" fill-opacity="0.5"/>
<circle cx="116.99" cy="167.11" r="0.45" fill-opacity="0.5"/>
<circle cx="112.76" cy="167.05" r="0.45" fill-opacity="0.5"/>
<circle cx="117.52" cy="166.52" r="0.45" fill-opacity="0.5"/>
<circle cx="116.53" cy="169.33" r="0.45" fill-opacity="0.5"/>
<circle cx="112.64" cy="166.18" r="0.45" fill-opacity="0.5"/>
<circle cx="112.47" cy="168.21" r="0.45" fill-opacity="0.5"/>
<circle cx="112.92" cy="166.90" r="0.45" fill-opacity="0.5"/>
<circle cx="115.03" cy="165.95" r="0.45" fill-opacity="0.5"/>
<circle cx="121.16" cy="165.60" r="0.45" fill-opacity="0.5"/>
<circle cx="119.99" cy="167.72" r="0.45" fill-opacity="0.5"/>
<circle cx="119.61" cy="165.42" r="0.45" fill-opacity="0.5"/>
<circle cx="118.09" cy="167.56" r="0.45" fill-opacity="0.5"/>
<circle cx="112.12" cy="166.43" r="0.45" fill-opacity="0.5"/>
<circle cx="114.00" cy="165.72" r="0.45" fill-opacity="0.5"/>
<circle cx="119.53" cy="164.13" r="0.45" fill-opacity="0.5"/>
<circle cx="108.00" cy="161.76" r="0.45" fill-opacity="0.5"/>
<circle cx="112.75" cy="164.31" r="0.45" fill-opacity="0.5"/>
<circle cx="114.56" cy="167.11" r="0.45" fill-opacity="0.5"/>
<circle cx="121.30" cy="166.52" r="0.45" fill-opacity="0.5"/>
<circle cx="116.29" cy="164.10" r="0.45" fill-opacity="0.5"/>
<circle cx="116.74" cy="168.95" r="0.45" fill-opacity="0.5"/>
<circle cx="119.67" cy="161.28" r="0.45" fill-opacity="0.5"/>
<circle cx="117.94" cy="169.47" r="0.45" fill-opacity="0.5"/>
<circle cx="117.69" cy="162.34" r="0.45" fill-opacity="0.5"/>
<circle cx="113.32" cy="167.16" r="0.45" fill-opacity="0.5"/>
<circle cx="116.10" cy="163.92" r="0.45" fill-opacity="0.5"/>
<circle cx="111.07" cy="168.03" r="0.45" fill-opacity="0.5"/>
<circle cx="109.36" cy="169.12" r="0.45" fill-opacity="0.5"/>
<circle cx="114.58" cy="166.50" r="0.45" fill-opacity="0.5"/>
<circle cx="109.36" cy="164.42" r="0.45" fill-opacity="0.5"/>
<circle cx="117.15" cy="162.40" r="0.45" fill-opacity="0.5"/>
<circle cx="122.47" cy="162.56" r="0.45" fill-opacity="0.5"/>
<circle cx="109.80" cy="165.90" r="0.45" fill-opacity="0.5"/>
<circle cx="116.35" cy="167.49" r="0.45" fill-opacity="0.5"/>
<circle cx="113.07" cy="165.32" r="0.45" fill-opacity="0.5"/>
<circle cx="113.59" cy="164.47" r="0.45" fill-opacity="0.5"/>
<circle cx="104.58" cy="168.02" r="0.45" fill-opacity="0.5"/>
<circle cx="115.47" cy="166.17" r="0.45" fill-opacity="0.5"/>
<circle cx="112.08" cy="166.38" r="0.45" fill-opacity="0.5"/>
<circle cx="114.45" cy="165.62" r="0.45" fill-opacity="0.5"/>
<circle cx="118.75" cy="161.83" r="0.45" fill-opacity="0.5"/>
<circle cx="115.47" cy="163.34" r="0.45" fill-opacity="0.5"/>
<circle cx="113.28" cy="169.26" r="0.45" fill-opacity="0.5"/>
<circle cx="110.33" cy="165.57" r="0.45" fill-opacity="0.5"/>
<circle cx="112.23" cy="167.99" r="0.45" fill-opacity="0.5"/>
<circle cx="110.74" cy="161.92" r="0.45" fill-opacity="0.5"/>
<circle cx="116.47" cy="164.98" r="0.45" fill-opacity="0.5"/>
<circle cx="113.27" cy="168.29" r="0.45" fill-opacity="0.5"/>
<circle cx="111.09" cy="164.94" r="0.45" fill-opacity="0.5"/>
<circle cx="115.07" cy="166.75" r="0.45" fill-opacity="0.5"/>
<circle cx="112.52" cy="168.19" r="0.45" fill-opacity="0.5"/>
<circle cx="123.11" cy="164.86" r="0.45" fill-opacity="0.5"/>
<circle cx="121.68" cy="160.94" r="0.45" fill-opacity="0.5"/>
<circle cx="119.90" cy="165.01" r="0.45" fill-opacity="0.5"/>
<circle cx="115.03" cy="165.02" r="0.45" fill-opacity="0.5"/>
<circle cx="112.06" cy="162.86" r="0.45" fill-opacity="0.5"/>
<circle cx="112.98" cy="168.79" r="0.45" fill-opacity="0.5"/>
<circle cx="118.88" cy="165.00" r="0.45" fill-opacity="0.5"/>
<circle cx="112.47" cy="164.18" r="0.45" fill-opacity="0.5"/>
<circle cx="109.89" cy="169.96" r="0.45" fill-opacity="0.5"/>
<circle cx="117.05" cy="166.07" r="0.45" fill-opacity="0.5"/>
<circle cx="112.61" cy="163.44" r="0.45" fill-opacity="0.5"/>
<circle cx="119.56" cy="167.60" r="0.45" fill-opacity="0.5"/>
<circle cx="110.84" cy="168.08" r="0.45" fill-opacity="0.5"/>
<circle cx="110.25" cy="167.28" r="0.45" fill-opacity="0.5"/>
<circle cx="110.81" cy="164.84" r="0.45" fill-opacity="0.5"/>
<circle cx="116.40" cy="166.80" r="0.45" fill-opacity="0.5"/>
<circle cx="118.38" cy="163.87" r="0.45" fill-opacity="0.5"/>
<circle cx="120.56" cy="168.90" r="0.45" fill-opacity="0.5"/>
<circle cx="114.46" cy="166.87" r="0.45" fill-opacity="0.5"/>
<circle cx="111.51" cy="165.45" r="0.45" fill-opacity="0.5"/>
<circle cx="109.43" cy="166.01" r="0.45" fill-opacity="0.5"/>
<circle cx="115.27" cy="168.90" r="0.45" fill-opacity="0.5"/>
<circle cx="118.14" cy="167.68" r="0.45" fill-opacity="0.5"/>
<circle cx="113.11" cy="165.28" r="0.45" fill-opacity="0.5"/>
<circle cx="113.19" cy="166.31" r="0.45" fill-opacity="0.5"/>
<circle cx="107.09" cy="167.58" r="0.45" fill-opacity="0.5"/>
<circle cx="108.48" cy="164.61" r="0.45" fill-opacity="0.5"/>
<circle cx="114.59" cy="164.62" r="0.45" fill-opacity="0.5"/>
<circle cx="120.89" cy="165.57" r="0.45" fill-opacity="0.5"/>
<circle cx="120.54" cy="168.50" r="0.45" fill-opacity="0.5"/>
<circle cx="112.59" cy="166.72" r="0.45" fill-opacity="0.5"/>
<circle cx="119.49" cy="165.03" r="0.45" fill-opacity="0.5"/>
<circle cx="114.84" cy="164.51" r="0.45" fill-opacity="0.5"/>
<circle cx="114.73" cy="164.98" r="0.45" fill-opacity="0.5"/>
<circle cx="114.82" cy="168.11" r="0.45" fill-opacity="0.5"/>
<circle cx="119.85" cy="166.11" r="0.45" fill-opacity="0.5"/>
<circle cx="115.28" cy="167.77" r="0.45" fill-opacity="0.5"/>
<circle cx="113.39" cy="163.36" r="0.45" fill-opacity="0.5"/>
<circle cx="118.76" cy="163.65" r="0.45" fill-opacity="0.5"/>
<circle cx="118.07" cy="163.58" r="0.45" fill-opacity="0.5"/>
<circle cx="121.53" cy="163.39" r="0.45" fill-opacity="0.5"/>
<circle cx="117.76" cy="169.25" r="0.45" fill-opacity="0.5"/>
<circle cx="110.81" cy="169.22" r="0.45" fill-opacity="0.5"/>
<circle cx="111.34" cy="161.74" r="0.45" fill-opacity="0.5"/>
<circle cx="117.27" cy="167.42" r="0.45" fill-opacity="0.5"/>
<circle cx="113.72" cy="159.98" r="0.45" fill-opacity="0.5"/>
<circle cx="114.29" cy="165.10" r="0.45" fill-opacity="0.5"/>
<circle cx="113.04" cy="165.13" r="0.45" fill-opacity="0.5"/>
<circle cx="107.63" cy="164.49" r="0.45" fill-opacity="0.5"/>
<circle cx="121.41" cy="169.36" r="0.45" fill-opacity="0.5"/>
<circle cx="113.11" cy="164.16" r="0.45" fill-opacity="0.5"/>
<circle cx="116.02" cy="168.25" r="0.45" fill-opacity="0.5"/>
<circle cx="117.28" cy="163.11" r="0.45" fill-opacity="0.5"/>
<circle cx="115.12" cy="166.12" r="0.45" fill-opacity="0.5"/>
<circle cx="120.02" cy="168.56" r="0.45" fill-opacity="0.5"/>
<circle cx="116.51" cy="168.60" r="0.45" fill-opacity="0.5"/>
<circle cx="112.98" cy="169.34" r="0.45" fill-opacity="0.5"/>
<circle cx="112.86" cy="166.71" r="0.45" fill-opacity="0.5"/>
<circle cx="118.03" cy="163.70" r="0.45" fill-opacity="0.5"/>
<circle cx="111.80" cy="161.75" r="0.45" fill-opacity="0.5"/>
<circle cx="115.13" cy="165.67" r="0.45" fill-opacity="0.5"/>
<circle cx="113.25" cy="166.95" r="0.45" fill-opacity="0.5"/>
<circle cx="106.37" cy="165.75" r="0.45" fill-opacity="0.5"/>
<circle cx="114.84" cy="165.19" r="0.45" fill-opacity="0.5"/>
<circle cx="117.55" cy="169.84" r="0.45" fill-opacity="0.5"/>
<circle cx="112.79" cy="163.63" r="0.45" fill-opacity="0.5"/>
<circle cx="112.18" cy="166.01" r="0.45" fill-opacity="0.5"/>
<circle cx="116.75" cy="163.82" r="0.45" fill-opacity="0.5"/>
<circle cx="118.34" cy="163.44" r="0.45" fill-opacity="0.5"/>
<circle cx="117.68" cy="166.78" r="0.45" fill-opacity="0.5"/>
<circle cx="116.28" cy="170.77" r="0.45" fill-opacity="0.5"/>
<circle cx="113.49" cy="165.42" r="0.45" fill-opacity="0.5"/>
<circle cx="116.33" cy="167.79" r="0.45" fill-opacity="0.5"/>
<circle cx="109.36" cy="166.43" r="0.45" fill-opacity="0.5"/>
<circle cx="111.65" cy="167.25" r="0.45" fill-opacity="0.5"/>
<circle cx="119.76" cy="165.92" r="0.45" fill-opacity="0.5"/>
<circle cx="114.09" cy="166.22" r="0.45" fill-opacity="0.5"/>
<circle cx="103.15" cy="167.58" r="0.45" fill-opacity="0.5"/>
<circle cx="116.66" cy="166.18" r="0.45" fill-opacity="0.5"/>
<circle cx="112.98" cy="164.12" r="0.45" fill-opacity="0.5"/>
<circle cx="113.81" cy="168.60" r="0.45" fill-opacity="0.5"/>
<circle cx="114.11" cy="168.90" r="0.45" fill-opacity="0.5"/>
<circle cx="104.62" cy="164.74" r="0.45" fill-opacity="0.5"/>
<circle cx="115.55" cy="165.77" r="0.45" fill-opacity="0.5"/>
<circle cx="108.13" cy="164.27" r="0.45" fill-opacity="0.5"/>
<circle cx="119.30" cy="162.82" r="0.45" fill-opacity="0.5"/>
<circle cx="110.70" cy="163.27" r="0.45" fill-opacity="0.5"/>
<circle cx="112.38" cy="167.28" r="0.45" fill-opacity="0.5"/>
<circle cx="116.78" cy="161.12" r="0.45" fill-opacity="0.5"/>
<circle cx="120.11" cy="164.44" r="0.45" fill-opacity="0.5"/>
<circle cx="112.24" cy="169.64" r="0.45" fill-opacity="0.5"/>
<circle cx="114.19" cy="162.94" r="0.45" fill-opacity="0.5"/>
<circle cx="112.05" cy="164.13" r="0.45" fill-opacity="0.5"/>
<circle cx="110.62" cy="165.03" r="0.45" fill-opacity="0.5"/>
<circle cx="117.87" cy="166.61" r="0.45" fill-opacity="0.5"/>
<circle cx="109.20" cy="172.22" r="0.45" fill-opacity="0.5"/>
<circle cx="110.70" cy="166.07" r="0.45" fill-opacity="0.5"/>
<circle cx="114.62" cy="167.55" r="0.45" fill-opacity="0.5"/>
<circle cx="113.24" cy="166.85" r="0.45" fill-opacity="0.5"/>
<circle cx="122.59" cy="166.02" r="0.45" fill-opacity="0.5"/>
<circle cx="110.34" cy="166.56" r="0.45" fill-opacity="0.5"/>
<circle cx="111.42" cy="164.95" r="0.45" fill-opacity="0.5"/>
<circle cx="115.22" cy="166.58" r="0.45" fill-opacity="0.5"/>
<circle cx="113.41" cy="167.75" r="0.45" fill-opacity="0.5"/>
<circle cx="113.76" cy="162.79" r="0.45" fill-opacity="0.5"/>
<circle cx="117.87" cy="164.96" r="0.45" fill-opacity="0.5"/>
<circle cx="119.16" cy="164.29" r="0.45" fill-opacity="0.5"/>
<circle cx="116.70" cy="166.53" r="0.45" fill-opacity="0.5"/>
<circle cx="104.14" cy="162.36" r="0.45" fill-opacity="0.5"/>
<circle cx="110.20" cy="169.04" r="0.45" fill-opacity="0.5"/>
<circle cx="107.25" cy="167.91" r="0.45" fill-opacity="0.5"/>
<circle cx="118.69" cy="166.94" r="0.45" fill-opacity="0.5"/>
<circle cx="117.09" cy="164.66" r="0.45" fill-opacity="0.5"/>
<circle cx="114.46" cy="166.32" r="0.45" fill-opacity="0.5"/>
<circle cx="116.12" cy="167.43" r="0.45" fill-opacity="0.5"/>
<circle cx="113.71" cy="164.18" r="0.45" fill-opacity="0.5"/>
<circle cx="112.34" cy="166.75" r="0.45" fill-opacity="0.5"/>
<circle cx="108.12" cy="162.91" r="0.45" fill-opacity="0.5"/>
<circle cx="112.92" cy="164.53" r="0.45" fill-opacity="0.5"/>
<circle cx="113.46" cy="159.67" r="0.45" fill-opacity="0.5"/>
<circle cx="113.19" cy="165.22" r="0.45" fill-opacity="0.5"/>
<circle cx="117.48" cy="161.24" r="0.45" fill-opacity="0.5"/>
<circle cx="113.32" cy="166.89" r="0.45" fill-opacity="0.5"/>
<circle cx="116.38" cy="168.56" r="0.45" fill-opacity="0.5"/>
<circle cx="118.55" cy="163.38" r="0.45" fill-opacity="0.5"/>
<circle cx="116.94" cy="165.03" r="0.45" fill-opacity="0.5"/>
<circle cx="111.41" cy="169.34" r="0.45" fill-opacity="0.5"/>
<circle cx="112.08" cy="163.83" r="0.45" fill-opacity="0.5"/>
<circle cx="112.93" cy="163.83" r="0.45" fill-opacity="0.5"/>
<circle cx="118.37" cy="166.68" r="0.45" fill-opacity="0.5"/>
<circle cx="119.88" cy="166.75" r="0.45" fill-opacity="0.5"/>
<circle cx="112.13" cy="168.22" r="0.45" fill-opacity="0.5"/>
<circle cx="111.98" cy="164.73" r="0.45" fill-opacity="0.5"/>
<circle cx="113.86" cy="165.89" r="0.45" fill-opacity="0.5"/>
<circle cx="119.10" cy="164.40" r="0.45" fill-opacity="0.5"/>
<circle cx="115.85" cy="165.74" r="0.45" fill-opacity="0.5"/>
<circle cx="109.66" cy="163.27" r="0.45" fill-opacity="0.5"/>
<circle cx="113.65" cy="166.73" r="0.45" fill-opacity="0.5"/>
<circle cx="115.73" cy="166.91" r="0.45" fill-opacity="0.5"/>
<circle cx="114.69" cy="164.76" r="0.45" fill-opacity="0.5"/>
<circle cx="116.14" cy="163.48" r="0.45" fill-opacity="0.5"/>
<circle cx="109.33" cy="165.03" r="0.45" fill-opacity="0.5"/>
<circle cx="108.99" cy="164.61" r="0.45" fill-opacity="0.5"/>
<circle cx="111.62" cy="164.52" r="0.45" fill-opacity="0.5"/>
<circle cx="114.33" cy="163.95" r="0.45" fill-opacity="0.5"/>
<circle cx="112.87" cy="161.84" r="0.45" fill-opacity="0.5"/>
<circle cx="115.06" cy="163.76" r="0.45" fill-opacity="0.5"/>
<circle cx="116.06" cy="159.26" r="0.45" fill-opacity="0.5"/>
<circle cx="111.41" cy="166.36" r="0.45" fill-opacity="0.5"/>
<circle cx="105.09" cy="164.97" r="0.45" fill-opacity="0.5"/>
<circle cx="114.86" cy="166.04" r="0.45" fill-opacity="0.5"/>
<circle cx="108.73" cy="166.33" r="0.45" fill-opacity="0.5"/>
<circle cx="115.07" cy="163.55" r="0.45" fill-opacity="0.5"/>
<circle cx="117.37" cy="165.69" r="0.45" fill-opacity="0.5"/>
<circle cx="114.57" cy="164.76" r="0.45" fill-opacity="0.5"/>
<circle cx="116.61" cy="166.03" r="0.45" fill-opacity="0.5"/>
<circle cx="118.89" cy="166.85" r="0.45" fill-opacity="0.5"/>
<circle cx="112.12" cy="165.28" r="0.45" fill-opacity="0.5"/>
<circle cx="118.05" cy="164.95" r="0.45" fill-opacity="0.5"/>
<circle cx="115.98" cy="167.01" r="0.45" fill-opacity="0.5"/>
<circle cx="113.81" cy="160.40" r="0.45" fill-opacity="0.5"/>
<circle cx="115.01" cy="166.30" r="0.45" fill-opacity="0.5"/>
<circle cx="115.02" cy="164.04" r="0.45" fill-opacity="0.5"/>
<circle cx="119.17" cy="165.49" r="0.45" fill-opacity="0.5"/>
<circle cx="112.09" cy="164.14" r="0.45" fill-opacity="0.5"/>
<circle cx="115.89" cy="163.27" r="0.45" fill-opacity="0.5"/>
<circle cx="110.63" cy="170.44" r="0.45" fill-opacity="0.5"/>
<circle cx="119.57" cy="168.25" r="0.45" fill-opacity="0.5"/>
<circle cx="119.78" cy="167.18" r="0.45" fill-opacity="0.5"/>
<circle cx="107.98" cy="168.57" r="0.45" fill-opacity="0.5"/>
<circle cx="119.29" cy="166.94" r="0.45" fill-opacity="0.5"/>
<circle cx="106.93" cy="168.69" r="0.45" fill-opacity="0.5"/>
<circle cx="119.79" cy="164.66" r="0.45" fill-opacity="0.5"/>
<circle cx="114.99" cy="167.60" r="0.45" fill-opacity="0.5"/>
<circle cx="114.17" cy="168.35" r="0.45" fill-opacity="0.5"/>
<circle cx="114.81" cy="167.41" r="0.45" fill-opacity="0.5"/>
<circle cx="114.83" cy="162.36" r="0.45" fill-opacity="0.5"/>
<circle cx="110.64" cy="173.16" r="0.45" fill-opacity="0.5"/>
<circle cx="115.58" cy="168.85" r="0.45" fill-opacity="0.5"/>
<circle cx="118.91" cy="169.79" r="0.45" fill-opacity="0.5"/>
<circle cx="116.65" cy="164.41" r="0.45" fill-opacity="0.5"/>
<circle cx="114.57" cy="161.34" r="0.45" fill-opacity="0.5"/>
<circle cx="113.77" cy="167.91" r="0.45" fill-opacity="0.5"/>
<circle cx="106.11" cy="166.26" r="0.45" fill-opacity="0.5"/>
<circle cx="117.70" cy="168.89" r="0.45" fill-opacity="0.5"/>
<circle cx="110.91" cy="164.28" r="0.45" fill-opacity="0.5"/>
<circle cx="107.22" cy="163.43" r="0.45" fill-opacity="0.5"/>
<circle cx="116.57" cy="170.62" r="0.45" fill-opacity="0.5"/>
<circle cx="110.05" cy="169.01" r="0.45" fill-opacity="0.5"/>
<circle cx="116.16" cy="164.65" r="0.45" fill-opacity="0.5"/>
<circle cx="123.02" cy="159.93" r="0.45" fill-opacity="0.5"/>
<circle cx="114.24" cy="166.31" r="0.45" fill-opacity="0.5"/>
<circle cx="122.77" cy="169.99" r="0.45" fill-opacity="0.5"/>
<circle cx="123.30" cy="166.11" r="0.45" fill-opacity="0.5"/>
<circle cx="118.31" cy="168.98" r="0.45" fill-opacity="0.5"/>
<circle cx="116.49" cy="166.64" r="0.45" fill-opacity="0.5"/>
<circle cx="113.79" cy="164.85" r="0.45" fill-opacity="0.5"/>
<circle cx="109.72" cy="170.35" r="0.45" fill-opacity="0.5"/>
<circle cx="112.77" cy="160.95" r="0.45" fill-opacity="0.5"/>
<circle cx="115.53" cy="165.72" r="0.45" fill-opacity="0.5"/>
<circle cx="115.18" cy="170.03" r="0.45" fill-opacity="0.5"/>
<circle cx="114.09" cy="165.18" r="0.45" fill-opacity="0.5"/>
<circle cx="111.60" cy="165.75" r="0.45" fill-opacity="0.5"/>
<circle cx="112.79" cy="166.28" r="0.45" fill-opacity="0.5"/>
<circle cx="126.65" cy="166.72" r="0.45" fill-opacity="0.5"/>
<circle cx="111.17" cy="170.30" r="0.45" fill-opacity="0.5"/>
<circle cx="117.86" cy="167.71" r="0.45" fill-opacity="0.5"/>
<circle cx="117.28" cy="167.71" r="0.45" fill-opacity="0.5"/>
<circle cx="117.13" cy="169.09" r="0.45" fill-opacity="0.5"/>
<circle cx="118.42" cy="168.95" r="0.45" fill-opacity="0.5"/>
<circle cx="112.55" cy="165.79" r="0.45" fill-opacity="0.5"/>
<circle cx="111.66" cy="168.04" r="0.45" fill-opacity="0.5"/>
<circle cx="117.74" cy="164.71" r="0.45" fill-opacity="0.5"/>
<circle cx="116.78" cy="171.93" r="0.45" fill-opacity="0.5"/>
<circle cx="119.31" cy="163.19" r="0.45" fill-opacity="0.5"/>
<circle cx="114.14" cy="167.28" r="0.45" fill-opacity="0.5"/>
<circle cx="114.36" cy="166.70" r="0.45" fill-opacity="0.5"/>
<circle cx="119.09" cy="166.57" r="0.45" fill-opacity="0.5"/>
<circle cx="110.23" cy="167.47" r="0.45" fill-opacity="0.5"/>
<circle cx="114.12" cy="166.07" r="0.45" fill-opacity="0.5"/>
<circle cx="112.29" cy="162.57" r="0.45" fill-opacity="0.5"/>
<circle cx="109.64" cy="164.97" r="0.45" fill-opacity="0.5"/>
<circle cx="110.33" cy="159.45" r="0.45" fill-opacity="0.5"/>
<circle cx="118.97" cy="163.09" r="0.45" fill-opacity="0.5"/>
<circle cx="111.68" cy="167.04" r="0.45" fill-opacity="0.5"/>
<circle cx="105.11" cy="168.94" r="0.45" fill-opacity="0.5"/>
<circle cx="111.51" cy="167.34" r="0.45" fill-opacity="0.5"/>
<circle cx="112.62" cy="166.51" r="0.45" fill-opacity="0.5"/>
<circle cx="114.91" cy="165.80" r="0.45" fill-opacity="0.5"/>
<circle cx="107.38" cy="162.36" r="0.45" fill-opacity="0.5"/>
<circle cx="114.34" cy="169.10" r="0.45" fill-opacity="0.5"/>
<circle cx="112.37" cy="167.04" r="0.45" fill-opacity="0.5"/>
<circle cx="115.13" cy="166.93" r="0.45" fill-opacity="0.5"/>
<circle cx="118.36" cy="162.30" r="0.45" fill-opacity="0.5"/>
<circle cx="115.57" cy="165.38" r="0.45" fill-opacity="0.5"/>
<circle cx="113.28" cy="163.80" r="0.45" fill-opacity="0.5"/>
<circle cx="111.44" cy="163.39" r="0.45" fill-opacity="0.5"/>
<circle cx="110.22" cy="171.67" r="0.45" fill-opacity="0.5"/>
<circle cx="121.12" cy="165.82" r="0.45" fill-opacity="0.5"/>
<circle cx="117.39" cy="163.52" r="0.45" fill-opacity="0.5"/>
<circle cx="103.66" cy="161.54" r="0.45" fill-opacity="0.5"/>
<circle cx="115.05" cy="169.17" r="0.45" fill-opacity="0.5"/>
<circle cx="114.34" cy="163.46" r="0.45" fill-opacity="0.5"/>
<circle cx="113.56" cy="163.47" r="0.45" fill-opacity="0.5"/>
<circle cx="109.06" cy="165.26" r="0.45" fill-opacity="0.5"/>
<circle cx="112.94" cy="163.90" r="0.45" fill-opacity="0.5"/>
<circle cx="111.05" cy="163.62" r="0.45" fill-opacity="0.5"/>
<circle cx="115.42" cy="169.06" r="0.45" fill-opacity="0.5"/>
<circle cx="113.68" cy="171.03" r="0.45" fill-opacity="0.5"/>
<circle cx="108.19" cy="166.44" r="0.45" fill-opacity="0.5"/>
<circle cx="109.99" cy="165.42" r="0.45" fill-opacity="0.5"/>
<circle cx="114.90" cy="167.11" r="0.45" fill-opacity="0.5"/>
<circle cx="118.90" cy="164.50" r="0.45" fill-opacity="0.5"/>
<circle cx="109.66" cy="165.36" r="0.45" fill-opacity="0.5"/>
<circle cx="115.64" cy="164.17" r="0.45" fill-opacity="0.5"/>
<circle cx="117.98" cy="169.74" r="0.45" fill-opacity="0.5"/>
<circle cx="108.96" cy="166.65" r="0.45" fill-opacity="0.5"/>
<circle cx="118.46" cy="161.31" r="0.45" fill-opacity="0.5"/>
<circle cx="115.30" cy="165.27" r="0.45" fill-opacity="0.5"/>
<circle cx="108.95" cy="168.88" r="0.45" fill-opacity="0.5"/>
<circle cx="115.35" cy="164.68" r="0.45" fill-opacity="0.5"/>
<circle cx="122.73" cy="167.63" r="0.45" fill-opacity="0.25"/>
<circle cx="124.00" cy="167.52" r="0.45" fill-opacity="0.25"/>
<circle cx="122.59" cy="164.44" r="0.45" fill-opacity="0.25"/>
<circle cx="119.36" cy="166.73" r="0.45" fill-opacity="0.25"/>
<circle cx="110.21" cy="170.24" r="0.45" fill-opacity="0.25"/>
<circle cx="119.52" cy="164.65" r="0.45" fill-opacity="0.25"/>
<circle cx="113.91" cy="166.94" r="0.45" fill-opacity="0.25"/>
<circle cx="121.13" cy="165.48" r="0.45" fill-opacity="0.25"/>
<circle cx="119.38" cy="164.94" r="0.45" fill-opacity="0.25"/>
<circle cx="118.08" cy="166.33" r="0.45" fill-opacity="0.25"/>
<circle cx="118.49" cy="167.69" r="0.45" fill-opacity="0.25"/>
<circle cx="120.44" cy="166.73" r="0.45" fill-opacity="0.25"/>
<circle cx="122.58" cy="168.73" r="0.45" fill-opacity="0.25"/>
<circle cx="123.34" cy="166.90" r="0.45" fill-opacity="0.25"/>
<circle cx="120.36" cy="165.09" r="0.45" fill-opacity="0.25"/>
<circle cx="119.67" cy="167.70" r="0.45" fill-opacity="0.25"/>
<circle cx="121.88" cy="165.82" r="0.45" fill-opacity="0.25"/>
<circle cx="115.81" cy="163.81" r="0.45" fill-opacity="0.25"/>
<circle cx="122.25" cy="168.30" r="0.45" fill-opacity="0.25"/>
<circle cx="122.46" cy="164.09" r="0.45" fill-opacity="0.25"/>
<circle cx="120.17" cy="166.89" r="0.45" fill-opacity="0.25"/>
<circle cx="117.42" cy="167.11" r="0.45" fill-opacity="0.25"/>
<circle cx="120.22" cy="165.04" r="0.45" fill-opacity="0.25"/>
<circle cx="116.16" cy="167.92" r="0.45" fill-opacity="0.25"/>
<circle cx="122.39" cy="164.94" r="0.45" fill-opacity="0.25"/>
<circle cx="117.05" cy="168.06" r="0.45" fill-opacity="0.25"/>
<circle cx="123.32" cy="165.97" r="0.45" fill-opacity="0.25"/>
<circle cx="127.21" cy="165.99" r="0.45" fill-opacity="0.25"/>
<circle cx="116.88" cy="168.41" r="0.45" fill-opacity="0.25"/>
<circle cx="120.27" cy="167.11" r="0.45" fill-opacity="0.25"/>
<circle cx="121.15" cy="164.74" r="0.45" fill-opacity="0.25"/>
<circle cx="116.37" cy="166.16" r="0.45" fill-opacity="0.25"/>
<circle cx="126.48" cy="164.74" r="0.45" fill-opacity="0.25"/>
<circle cx="126.29" cy="166.89" r="0.45" fill-opacity="0.25"/>
<circle cx="116.67" cy="166.97" r="0.45" fill-opacity="0.25"/>
<circle cx="123.21" cy="164.92" r="0.45" fill-opacity="0.25"/>
<circle cx="112.70" cy="167.12" r="0.45" fill-opacity="0.25"/>
<circle cx="116.68" cy="167.27" r="0.45" fill-opacity="0.25"/>
<circle cx="113.56" cy="166.25" r="0.45" fill-opacity="0.25"/>
<circle cx="117.85" cy="163.91" r="0.45" fill-opacity="0.25"/>
<circle cx="120.06" cy="166.80" r="0.45" fill-opacity="0.25"/>
<circle cx="118.83" cy="164.43" r="0.45" fill-opacity="0.25"/>
<circle cx="121.83" cy="163.44" r="0.45" fill-opacity="0.25"/>
<circle cx="123.08" cy="167.36" r="0.45" fill-opacity="0.25"/>
<circle cx="127.53" cy="168.05" r="0.45" fill-opacity="0.25"/>
<circle cx="122.38" cy="166.96" r="0.45" fill-opacity="0.25"/>
<circle cx="121.11" cy="164.18" r="0.45" fill-opacity="0.25"/>
<circle cx="126.69" cy="167.42" r="0.45" fill-opacity="0.25"/>
<circle cx="119.89" cy="164.49" r="0.45" fill-opacity="0.25"/>
<circle cx="126.77" cy="167.43" r="0.45" fill-opacity="0.25"/>
<circle cx="116.39" cy="167.68" r="0.45" fill-opacity="0.25"/>
<circle cx="128.37" cy="166.46" r="0.45" fill-opacity="0.25"/>
<circle cx="122.56" cy="165.77" r="0.45" fill-opacity="0.25"/>
<circle cx="118.56" cy="168.38" r="0.45" fill-opacity="0.25"/>
<circle cx="132.97" cy="166.70" r="0.45" fill-opacity="0.25"/>
<circle cx="120.52" cy="167.89" r="0.45" fill-opacity="0.25"/>
<circle cx="119.82" cy="167.77" r="0.45" fill-opacity="0.25"/>
<circle cx="124.22" cy="164.72" r="0.45" fill-opacity="0.25"/>
<circle cx="116.83" cy="166.37" r="0.45" fill-opacity="0.25"/>
<circle cx="124.23" cy="166.98" r="0.45" fill-opacity="0.25"/>
<circle cx="101.02" cy="177.65" r="0.45" fill-opacity="0.45"/>
<circle cx="98.12" cy="181.68" r="0.45" fill-opacity="0.45"/>
<circle cx="96.59" cy="186.72" r="0.45" fill-opacity="0.45"/>
<circle cx="92.43" cy="183.78" r="0.45" fill-opacity="0.45"/>
<circle cx="91.68" cy="186.42" r="0.45" fill-opacity="0.45"/>
<circle cx="92.90" cy="182.36" r="0.45" fill-opacity="0.45"/>
<circle cx="97.05" cy="181.51" r="0.45" fill-opacity="0.45"/>
<circle cx="100.66" cy="181.60" r="0.45" fill-opacity="0.45"/>
<circle cx="99.50" cy="186.51" r="0.45" fill-opacity="0.45"/>
<circle cx="92.19" cy="183.84" r="0.45" fill-opacity="0.45"/>
<circle cx="92.95" cy="183.07" r="0.45" fill-opacity="0.45"/>
<circle cx="95.15" cy="194.70" r="0.45" fill-opacity="0.45"/>
<circle cx="94.57" cy="193.37" r="0.45" fill-opacity="0.45"/>
<circle cx="97.93" cy="178.03" r="0.45" fill-opacity="0.45"/>
<circle cx="87.23" cy="188.62" r="0.45" fill-opacity="0.45"/>
<circle cx="88.48" cy="188.83" r="0.45" fill-opacity="0.45"/>
<circle cx="100.19" cy="187.08" r="0.45" fill-opacity="0.45"/>
<circle cx="95.39" cy="183.66" r="0.45" fill-opacity="0.45"/>
<circle cx="97.20" cy="183.39" r="0.45" fill-opacity="0.45"/>
<circle cx="94.13" cy="183.03" r="0.45" fill-opacity="0.45"/>
<circle cx="100.73" cy="181.69" r="0.45" fill-opacity="0.45"/>
<circle cx="97.67" cy="178.87" r="0.45" fill-opacity="0.45"/>
<circle cx="93.44" cy="177.68" r="0.45" fill-opacity="0.45"/>
<circle cx="95.43" cy="188.64" r="0.45" fill-opacity="0.45"/>
<circle cx="97.38" cy="182.38" r="0.45" fill-opacity="0.45"/>
<circle cx="98.57" cy="183.15" r="0.45" fill-opacity="0.45"/>
<circle cx="97.64" cy="186.46" r="0.45" fill-opacity="0.45"/>
<circle cx="98.30" cy="171.81" r="0.45" fill-opacity="0.45"/>
<circle cx="91.16" cy="189.12" r="0.45" fill-opacity="0.45"/>
<circle cx="95.79" cy="196.94" r="0.45" fill-opacity="0.45"/>
<circle cx="95.29" cy="182.06" r="0.45" fill-opacity="0.45"/>
<circle cx="101.98" cy="187.96" r="0.45" fill-opacity="0.45"/>
<circle cx="103.55" cy="187.71" r="0.45" fill-opacity="0.45"/>
<circle cx="95.41" cy="188.85" r="0.45" fill-opacity="0.45"/>
<circle cx="93.15" cy="182.62" r="0.45" fill-opacity="0.45"/>
<circle cx="94.05" cy="183.82" r="0.45" fill-opacity="0.45"/>
<circle cx="99.21" cy="182.44" r="0.45" fill-opacity="0.45"/>
<circle cx="97.45" cy="182.35" r="0.45" fill-opacity="0.45"/>
<circle cx="99.62" cy="170.34" r="0.45" fill-opacity="0.45"/>
<circle cx="95.40" cy="185.90" r="0.45" fill-opacity="0.45"/>
<circle cx="92.03" cy="190.39" r="0.45" fill-opacity="0.45"/>
<circle cx="97.04" cy="191.81" r="0.45" fill-opacity="0.45"/>
<circle cx="99.92" cy="188.41" r="0.45" fill-opacity="0.45"/>
<circle cx="95.62" cy="179.22" r="0.45" fill-opacity="0.45"/>
<circle cx="95.35" cy="182.56" r="0.45" fill-opacity="0.45"/>
<circle cx="97.17" cy="182.53" r="0.45" fill-opacity="0.45"/>
<circle cx="108.01" cy="176.51" r="0.45" fill-opacity="0.45"/>
<circle cx="100.74" cy="182.50" r="0.45" fill-opacity="0.45"/>
<circle cx="95.26" cy="189.92" r="0.45" fill-opacity="0.45"/>
<circle cx="96.21" cy="178.56" r="0.45" fill-opacity="0.45"/>
<circle cx="97.80" cy="183.96" r="0.45" fill-opacity="0.45"/>
<circle cx="88.25" cy="186.05" r="0.45" fill-opacity="0.45"/>
<circle cx="92.12" cy="181.05" r="0.45" fill-opacity="0.45"/>
<circle cx="98.06" cy="186.59" r="0.45" fill-opacity="0.45"/>
<circle cx="95.08" cy="196.53" r="0.45" fill-opacity="0.45"/>
<circle cx="97.82" cy="181.74" r="0.45" fill-opacity="0.45"/>
<circle cx="97.11" cy="184.36" r="0.45" fill-opacity="0.45"/>
<circle cx="87.69" cy="176.63" r="0.45" fill-opacity="0.45"/>
<circle cx="90.83" cy="195.97" r="0.45" fill-opacity="0.45"/>
<circle cx="95.49" cy="183.53" r="0.45" fill-opacity="0.45"/>
<circle cx="94.02" cy="190.21" r="0.45" fill-opacity="0.45"/>
<circle cx="96.31" cy="194.06" r="0.45" fill-opacity="0.45"/>
<circle cx="99.24" cy="193.73" r="0.45" fill-opacity="0.45"/>
<circle cx="95.75" cy="186.99" r="0.45" fill-opacity="0.45"/>
<circle cx="94.53" cy="184.10" r="0.45" fill-opacity="0.45"/>
<circle cx="89.52" cy="181.92" r="0.45" fill-opacity="0.45"/>
<circle cx="92.53" cy="181.54" r="0.45" fill-opacity="0.45"/>
<circle cx="100.89" cy="186.39" r="0.45" fill-opacity="0.45"/>
<circle cx="100.93" cy="189.55" r="0.45" fill-opacity="0.45"/>
<circle cx="99.75" cy="190.33" r="0.45" fill-opacity="0.45"/>
<circle cx="93.87" cy="189.25" r="0.45" fill-opacity="0.45"/>
<circle cx="94.96" cy="182.19" r="0.45" fill-opacity="0.45"/>
<circle cx="100.81" cy="196.47" r="0.45" fill-opacity="0.45"/>
<circle cx="92.43" cy="194.21" r="0.45" fill-opacity="0.45"/>
<circle cx="99.40" cy="180.51" r="0.45" fill-opacity="0.45"/>
<circle cx="97.25" cy="186.97" r="0.45" fill-opacity="0.45"/>
<circle cx="97.65" cy="183.11" r="0.45" fill-opacity="0.45"/>
<circle cx="91.24" cy="185.17" r="0.45" fill-opacity="0.45"/>
<circle cx="99.52" cy="189.16" r="0.45" fill-opacity="0.45"/>
<circle cx="98.75" cy="190.84" r="0.45" fill-opacity="0.45"/>
<circle cx="92.38" cy="184.78" r="0.45" fill-opacity="0.45"/>
<circle cx="97.51" cy="190.29" r="0.45" fill-opacity="0.45"/>
<circle cx="96.80" cy="187.75" r="0.45" fill-opacity="0.45"/>
<circle cx="96.71" cy="196.12" r="0.45" fill-opacity="0.45"/>
<circle cx="87.79" cy="184.87" r="0.45" fill-opacity="0.45"/>
<circle cx="105.74" cy="186.25" r="0.45" fill-opacity="0.45"/>
<circle cx="89.14" cy="185.71" r="0.45" fill-opacity="0.45"/>
<circle cx="90.68" cy="181.40" r="0.45" fill-opacity="0.45"/>
<circle cx="97.07" cy="194.08" r="0.45" fill-opacity="0.45"/>
<circle cx="97.98" cy="188.54" r="0.45" fill-opacity="0.45"/>
<circle cx="100.12" cy="186.06" r="0.45" fill-opacity="0.45"/>
<circle cx="92.90" cy="184.48" r="0.45" fill-opacity="0.45"/>
<circle cx="97.50" cy="183.53" r="0.45" fill-opacity="0.45"/>
<circle cx="93.63" cy="183.10" r="0.45" fill-opacity="0.45"/>
<circle cx="90.42" cy="179.57" r="0.45" fill-opacity="0.45"/>
<circle cx="95.85" cy="183.09" r="0.45" fill-opacity="0.45"/>
<circle cx="96.34" cy="192.43" r="0.45" fill-opacity="0.45"/>
<circle cx="97.35" cy="184.83" r="0.45" fill-opacity="0.45"/>
<circle cx="91.68" cy="179.29" r="0.45" fill-opacity="0.45"/>
<circle cx="97.65" cy="180.38" r="0.45" fill-opacity="0.45"/>
<circle cx="97.85" cy="179.32" r="0.45" fill-opacity="0.45"/>
<circle cx="96.72" cy="184.61" r="0.45" fill-opacity="0.45"/>
<circle cx="100.04" cy="182.92" r="0.45" fill-opacity="0.45"/>
<circle cx="94.77" cy="186.30" r="0.45" fill-opacity="0.45"/>
<circle cx="96.41" cy="193.94" r="0.45" fill-opacity="0.45"/>
<circle cx="95.21" cy="182.16" r="0.45" fill-opacity="0.45"/>
<circle cx="94.97" cy="187.51" r="0.45" fill-opacity="0.45"/>
<circle cx="97.10" cy="188.67" r="0.45" fill-opacity="0.45"/>
<circle cx="90.87" cy="198.11" r="0.45" fill-opacity="0.45"/>
<circle cx="103.28" cy="184.83" r="0.45" fill-opacity="0.45"/>
<circle cx="91.55" cy="185.82" r="0.45" fill-opacity="0.45"/>
<circle cx="97.80" cy="173.19" r="0.45" fill-opacity="0.45"/>
<circle cx="96.25" cy="177.18" r="0.45" fill-opacity="0.45"/>
<circle cx="97.96" cy="192.31" r="0.45" fill-opacity="0.45"/>
<circle cx="100.18" cy="177.03" r="0.45" fill-opacity="0.45"/>
<circle cx="101.52" cy="189.80" r="0.45" fill-opacity="0.45"/>
<circle cx="94.81" cy="187.66" r="0.45" fill-opacity="0.45"/>
<circle cx="102.04" cy="183.24" r="0.45" fill-opacity="0.45"/>
<circle cx="96.14" cy="182.04" r="0.45" fill-opacity="0.45"/>
<circle cx="100.65" cy="173.60" r="0.45" fill-opacity="0.45"/>
<circle cx="101.66" cy="179.88" r="0.45" fill-opacity="0.45"/>
<circle cx="99.77" cy="176.40" r="0.45" fill-opacity="0.45"/>
<circle cx="92.59" cy="181.84" r="0.45" fill-opacity="0.45"/>
<circle cx="99.39" cy="176.42" r="0.45" fill-opacity="0.45"/>
<circle cx="98.52" cy="181.64" r="0.45" fill-opacity="0.45"/>
<circle cx="100.98" cy="183.35" r="0.45" fill-opacity="0.45"/>
<circle cx="98.07" cy="184.09" r="0.45" fill-opacity="0.45"/>
<circle cx="103.10" cy="183.09" r="0.45" fill-opacity="0.45"/>
<circle cx="96.10" cy="195.50" r="0.45" fill-opacity="0.45"/>
<circle cx="96.50" cy="188.63" r="0.45" fill-opacity="0.45"/>
<circle cx="93.36" cy="186.06" r="0.45" fill-opacity="0.45"/>
<circle cx="87.47" cy="185.56" r="0.45" fill-opacity="0.45"/>
<circle cx="93.71" cy="177.05" r="0.45" fill-opacity="0.45"/>
<circle cx="90.75" cy="191.04" r="0.45" fill-opacity="0.45"/>
<circle cx="97.84" cy="176.98" r="0.45" fill-opacity="0.45"/>
<circle cx="103.18" cy="181.32" r="0.45" fill-opacity="0.45"/>
<circle cx="94.78" cy="186.30" r="0.45" fill-opacity="0.45"/>
<circle cx="91.82" cy="176.44" r="0.45" fill-opacity="0.45"/>
<circle cx="93.33" cy="191.25" r="0.45" fill-opacity="0.45"/>
<circle cx="99.86" cy="176.64" r="0.45" fill-opacity="0.45"/>
<circle cx="100.83" cy="185.18" r="0.45" fill-opacity="0.45"/>
<circle cx="98.13" cy="185.27" r="0.45" fill-opacity="0.45"/>
<circle cx="97.79" cy="179.71" r="0.45" fill-opacity="0.45"/>
<circle cx="92.70" cy="181.28" r="0.45" fill-opacity="0.45"/>
<circle cx="94.78" cy="188.28" r="0.45" fill-opacity="0.45"/>
<circle cx="91.52" cy="193.44" r="0.45" fill-opacity="0.45"/>
<circle cx="93.77" cy="181.89" r="0.45" fill-opacity="0.45"/>
<circle cx="98.91" cy="187.30" r="0.45" fill-opacity="0.45"/>
<circle cx="94.90" cy="179.34" r="0.45" fill-opacity="0.45"/>
<circle cx="92.35" cy="176.54" r="0.45" fill-opacity="0.45"/>
<circle cx="100.60" cy="190.73" r="0.45" fill-opacity="0.45"/>
<circle cx="103.39" cy="187.64" r="0.45" fill-opacity="0.45"/>
<circle cx="97.48" cy="189.01" r="0.45" fill-opacity="0.45"/>
<circle cx="99.86" cy="183.63" r="0.45" fill-opacity="0.45"/>
<circle cx="97.56" cy="196.40" r="0.45" fill-opacity="0.45"/>
<circle cx="89.68" cy="177.56" r="0.45" fill-opacity="0.45"/>
<circle cx="92.49" cy="188.99" r="0.45" fill-opacity="0.45"/>
<circle cx="100.77" cy="183.21" r="0.45" fill-opacity="0.45"/>
<circle cx="98.79" cy="184.74" r="0.45" fill-opacity="0.45"/>
<circle cx="97.35" cy="182.14" r="0.45" fill-opacity="0.45"/>
<circle cx="96.10" cy="184.98" r="0.45" fill-opacity="0.45"/>
<circle cx="100.56" cy="196.82" r="0.45" fill-opacity="0.45"/>
<circle cx="89.21" cy="187.82" r="0.45" fill-opacity="0.45"/>
<circle cx="96.18" cy="190.13" r="0.45" fill-opacity="0.45"/>
<circle cx="100.29" cy="189.13" r="0.45" fill-opacity="0.45"/>
<circle cx="99.31" cy="179.97" r="0.45" fill-opacity="0.45"/>
<circle cx="89.63" cy="193.84" r="0.45" fill-opacity="0.45"/>
<circle cx="100.86" cy="179.96" r="0.45" fill-opacity="0.45"/>
<circle cx="101.17" cy="188.53" r="0.45" fill-opacity="0.45"/>
<circle cx="86.75" cy="189.76" r="0.45" fill-opacity="0.45"/>
<circle cx="92.40" cy="191.18" r="0.45" fill-opacity="0.45"/>
<circle cx="93.58" cy="181.06" r="0.45" fill-opacity="0.45"/>
<circle cx="90.25" cy="183.85" r="0.45" fill-opacity="0.45"/>
<circle cx="100.12" cy="181.44" r="0.45" fill-opacity="0.45"/>
<circle cx="89.03" cy="196.36" r="0.45" fill-opacity="0.45"/>
<circle cx="103.31" cy="188.66" r="0.45" fill-opacity="0.45"/>
<circle cx="94.13" cy="178.58" r="0.45" fill-opacity="0.45"/>
<circle cx="89.89" cy="187.96" r="0.45" fill-opacity="0.45"/>
<circle cx="101.21" cy="179.38" r="0.45" fill-opacity="0.45"/>
<circle cx="96.20" cy="183.53" r="0.45" fill-opacity="0.45"/>
<circle cx="95.21" cy="187.66" r="0.45" fill-opacity="0.45"/>
<circle cx="104.26" cy="181.63" r="0.45" fill-opacity="0.45"/>
<circle cx="99.48" cy="190.77" r="0.45" fill-opacity="0.45"/>
<circle cx="95.10" cy="184.21" r="0.45" fill-opacity="0.45"/>
<circle cx="91.03" cy="190.72" r="0.45" fill-opacity="0.45"/>
<circle cx="94.15" cy="181.53" r="0.45" fill-opacity="0.45"/>
<circle cx="96.46" cy="180.45" r="0.45" fill-opacity="0.45"/>
<circle cx="92.18" cy="183.42" r="0.45" fill-opacity="0.45"/>
<circle cx="101.93" cy="183.91" r="0.45" fill-opacity="0.45"/>
<circle cx="98.23" cy="177.22" r="0.45" fill-opacity="0.45"/>
<circle cx="88.69" cy="194.64" r="0.45" fill-opacity="0.45"/>
<circle cx="94.66" cy="176.84" r="0.45" fill-opacity="0.45"/>
<circle cx="95.79" cy="188.22" r="0.45" fill-opacity="0.45"/>
<circle cx="89.54" cy="180.32" r="0.45" fill-opacity="0.45"/>
<circle cx="97.20" cy="180.11" r="0.45" fill-opacity="0.45"/>
<circle cx="99.27" cy="190.10" r="0.45" fill-opacity="0.45"/>
<circle cx="97.91" cy="182.72" r="0.45" fill-opacity="0.45"/>
<circle cx="96.02" cy="181.64" r="0.45" fill-opacity="0.45"/>
<circle cx="95.70" cy="186.69" r="0.45" fill-opacity="0.45"/>
<circle cx="95.04" cy="190.16" r="0.45" fill-opacity="0.45"/>
<circle cx="106.21" cy="182.10" r="0.45" fill-opacity="0.45"/>
<circle cx="97.52" cy="189.37" r="0.45" fill-opacity="0.45"/>
<circle cx="98.69" cy="183.74" r="0.45" fill-opacity="0.45"/>
<circle cx="94.35" cy="190.33" r="0.45" fill-opacity="0.45"/>
<circle cx="98.61" cy="187.69" r="0.45" fill-opacity="0.45"/>
<circle cx="93.10" cy="188.35" r="0.45" fill-opacity="0.45"/>
<circle cx="99.27" cy="184.02" r="0.45" fill-opacity="0.45"/>
<circle cx="98.70" cy="196.54" r="0.45" fill-opacity="0.45"/>
<circle cx="88.95" cy="188.22" r="0.45" fill-opacity="0.45"/>
<circle cx="91.68" cy="177.75" r="0.45" fill-opacity="0.45"/>
<circle cx="95.29" cy="187.90" r="0.45" fill-opacity="0.45"/>
<circle cx="96.40" cy="178.81" r="0.45" fill-opacity="0.45"/>
<circle cx="90.64" cy="182.04" r="0.45" fill-opacity="0.45"/>
<circle cx="96.25" cy="180.59" r="0.45" fill-opacity="0.45"/>
<circle cx="90.39" cy="194.33" r="0.45" fill-opacity="0.45"/>
<circle cx="92.96" cy="184.17" r="0.45" fill-opacity="0.45"/>
<circle cx="94.08" cy="181.89" r="0.45" fill-opacity="0.45"/>
<circle cx="96.36" cy="183.42" r="0.45" fill-opacity="0.45"/>
<circle cx="98.60" cy="178.70" r="0.45" fill-opacity="0.45"/>
<circle cx="90.45" cy="195.37" r="0.45" fill-opacity="0.45"/>
<circle cx="95.91" cy="189.09" r="0.45" fill-opacity="0.45"/>
<circle cx="100.77" cy="187.95" r="0.45" fill-opacity="0.45"/>
<circle cx="96.34" cy="176.72" r="0.45" fill-opacity="0.45"/>
<circle cx="90.00" cy="190.21" r="0.45" fill-opacity="0.45"/>
<circle cx="98.82" cy="188.03" r="0.45" fill-opacity="0.45"/>
<circle cx="89.78" cy="173.65" r="0.45" fill-opacity="0.45"/>
<circle cx="92.11" cy="178.71" r="0.45" fill-opacity="0.45"/>
<circle cx="96.82" cy="179.56" r="0.45" fill-opacity="0.45"/>
<circle cx="102.33" cy="181.68" r="0.45" fill-opacity="0.45"/>
<circle cx="94.02" cy="189.60" r="0.45" fill-opacity="0.45"/>
<circle cx="97.47" cy="180.21" r="0.45" fill-opacity="0.45"/>
<circle cx="99.38" cy="195.25" r="0.45" fill-opacity="0.45"/>
<circle cx="91.44" cy="183.68" r="0.45" fill-opacity="0.45"/>
<circle cx="92.02" cy="174.64" r="0.45" fill-opacity="0.45"/>
<circle cx="98.63" cy="188.72" r="0.45" fill-opacity="0.45"/>
<circle cx="99.98" cy="187.29" r="0.45" fill-opacity="0.45"/>
<circle cx="88.38" cy="184.86" r="0.45" fill-opacity="0.45"/>
<circle cx="93.61" cy="178.72" r="0.45" fill-opacity="0.45"/>
<circle cx="91.90" cy="189.09" r="0.45" fill-opacity="0.45"/>
<circle cx="95.05" cy="195.50" r="0.45" fill-opacity="0.45"/>
<circle cx="98.03" cy="174.80" r="0.45" fill-opacity="0.45"/>
<circle cx="99.67" cy="191.67" r="0.45" fill-opacity="0.45"/>
<circle cx="96.32" cy="178.52" r="0.45" fill-opacity="0.45"/>
<circle cx="103.07" cy="177.98" r="0.45" fill-opacity="0.45"/>
<circle cx="95.87" cy="174.81" r="0.45" fill-opacity="0.45"/>
<circle cx="91.32" cy="175.91" r="0.45" fill-opacity="0.45"/>
<circle cx="100.44" cy="191.30" r="0.45" fill-opacity="0.45"/>
<circle cx="94.62" cy="177.75" r="0.45" fill-opacity="0.45"/>
<circle cx="95.97" cy="187.03" r="0.45" fill-opacity="0.45"/>
<circle cx="90.26" cy="178.80" r="0.45" fill-opacity="0.45"/>
<circle cx="95.80" cy="188.77" r="0.45" fill-opacity="0.45"/>
<circle cx="96.49" cy="187.41" r="0.45" fill-opacity="0.45"/>
<circle cx="91.33" cy="171.66" r="0.45" fill-opacity="0.45"/>
<circle cx="97.41" cy="180.08" r="0.45" fill-opacity="0.45"/>
<circle cx="95.72" cy="182.98" r="0.45" fill-opacity="0.45"/>
<circle cx="98.07" cy="180.86" r="0.45" fill-opacity="0.45"/>
<circle cx="101.83" cy="185.17" r="0.45" fill-opacity="0.45"/>
<circle cx="98.26" cy="188.38" r="0.45" fill-opacity="0.45"/>
<circle cx="100.25" cy="187.17" r="0.45" fill-opacity="0.45"/>
<circle cx="89.37" cy="181.62" r="0.45" fill-opacity="0.45"/>
<circle cx="103.47" cy="187.54" r="0.45" fill-opacity="0.45"/>
<circle cx="98.39" cy="187.51" r="0.45" fill-opacity="0.45"/>
<circle cx="93.69" cy="181.36" r="0.45" fill-opacity="0.45"/>
<circle cx="93.67" cy="191.23" r="0.45" fill-opacity="0.45"/>
<circle cx="97.62" cy="194.57" r="0.45" fill-opacity="0.45"/>
<circle cx="98.15" cy="195.17" r="0.45" fill-opacity="0.45"/>
<circle cx="97.99" cy="178.63" r="0.45" fill-opacity="0.45"/>
<circle cx="103.01" cy="186.82" r="0.45" fill-opacity="0.45"/>
<circle cx="100.87" cy="186.16" r="0.45" fill-opacity="0.45"/>
<circle cx="94.92" cy="185.91" r="0.45" fill-opacity="0.45"/>
<circle cx="91.80" cy="178.56" r="0.45" fill-opacity="0.45"/>
<circle cx="92.72" cy="182.17" r="0.45" fill-opacity="0.45"/>
<circle cx="90.88" cy="184.44" r="0.45" fill-opacity="0.45"/>
<circle cx="97.39" cy="195.94" r="0.45" fill-opacity="0.45"/>
<circle cx="103.42" cy="184.73" r="0.45" fill-opacity="0.45"/>
<circle cx="99.67" cy="183.82" r="0.45" fill-opacity="0.45"/>
<circle cx="97.73" cy="184.82" r="0.45" fill-opacity="0.45"/>
<circle cx="94.08" cy="185.41" r="0.45" fill-opacity="0.45"/>
<circle cx="90.39" cy="187.38" r="0.45" fill-opacity="0.45"/>
<circle cx="95.06" cy="179.15" r="0.45" fill-opacity="0.45"/>
<circle cx="94.79" cy="187.99" r="0.45" fill-opacity="0.45"/>
<circle cx="93.53" cy="187.57" r="0.45" fill-opacity="0.45"/>
<circle cx="98.44" cy="193.43" r="0.45" fill-opacity="0.45"/>
<circle cx="91.92" cy="184.40" r="0.45" fill-opacity="0.45"/>
<circle cx="98.21" cy="193.12" r="0.45" fill-opacity="0.45"/>
<circle cx="97.23" cy="189.08" r="0.45" fill-opacity="0.45"/>
<circle cx="90.42" cy="181.84" r="0.45" fill-opacity="0.45"/>
<circle cx="102.74" cy="183.46" r="0.45" fill-opacity="0.45"/>
<circle cx="104.72" cy="181.06" r="0.45" fill-opacity="0.45"/>
<circle cx="95.10" cy="176.36" r="0.45" fill-opacity="0.45"/>
<circle cx="98.71" cy="186.43" r="0.45" fill-opacity="0.45"/>
<circle cx="104.16" cy="185.90" r="0.45" fill-opacity="0.45"/>
<circle cx="95.21" cy="177.36" r="0.45" fill-opacity="0.45"/>
<circle cx="95.88" cy="190.13" r="0.45" fill-opacity="0.45"/>
<circle cx="99.12" cy="191.66" r="0.45" fill-opacity="0.45"/>
<circle cx="99.61" cy="184.75" r="0.45" fill-opacity="0.45"/>
<circle cx="98.59" cy="185.94" r="0.45" fill-opacity="0.45"/>
<circle cx="90.94" cy="194.29" r="0.45" fill-opacity="0.45"/>
<circle cx="97.68" cy="179.29" r="0.45" fill-opacity="0.45"/>
<circle cx="97.72" cy="186.56" r="0.45" fill-opacity="0.45"/>
<circle cx="100.14" cy="192.85" r="0.45" fill-opacity="0.45"/>
<circle cx="84.18" cy="188.02" r="0.45" fill-opacity="0.45"/>
<circle cx="102.25" cy="179.85" r="0.45" fill-opacity="0.45"/>
<circle cx="88.85" cy="186.52" r="0.45" fill-opacity="0.45"/>
<circle cx="97.53" cy="186.91" r="0.45" fill-opacity="0.45"/>
<circle cx="91.81" cy="182.46" r="0.45" fill-opacity="0.45"/>
<circle cx="96.97" cy="189.05" r="0.45" fill-opacity="0.45"/>
<circle cx="104.88" cy="186.60" r="0.45" fill-opacity="0.45"/>
<circle cx="93.81" cy="172.15" r="0.45" fill-opacity="0.45"/>
<circle cx="100.45" cy="184.28" r="0.45" fill-opacity="0.45"/>
<circle cx="95.77" cy="179.62" r="0.45" fill-opacity="0.45"/>
<circle cx="99.11" cy="175.23" r="0.45" fill-opacity="0.45"/>
<circle cx="96.63" cy="185.66" r="0.45" fill-opacity="0.45"/>
<circle cx="97.39" cy="192.11" r="0.45" fill-opacity="0.45"/>
<circle cx="95.81" cy="185.51" r="0.45" fill-opacity="0.45"/>
<circle cx="99.60" cy="176.55" r="0.45" fill-opacity="0.45"/>
<circle cx="95.04" cy="185.37" r="0.45" fill-opacity="0.45"/>
<circle cx="99.99" cy="180.63" r="0.45" fill-opacity="0.45"/>
<circle cx="99.39" cy="187.10" r="0.45" fill-opacity="0.45"/>
<circle cx="90.30" cy="176.93" r="0.45" fill-opacity="0.45"/>
<circle cx="90.51" cy="185.76" r="0.45" fill-opacity="0.45"/>
<circle cx="97.02" cy="188.95" r="0.45" fill-opacity="0.45"/>
<circle cx="99.46" cy="181.99" r="0.45" fill-opacity="0.45"/>
<circle cx="100.45" cy="189.47" r="0.45" fill-opacity="0.45"/>
<circle cx="98.07" cy="187.62" r="0.45" fill-opacity="0.45"/>
<circle cx="91.09" cy="186.97" r="0.45" fill-opacity="0.45"/>
<circle cx="92.10" cy="178.49" r="0.45" fill-opacity="0.45"/>
<circle cx="94.81" cy="185.76" r="0.45" fill-opacity="0.45"/>
<circle cx="95.99" cy="183.19" r="0.45" fill-opacity="0.45"/>
<circle cx="92.22" cy="186.02" r="0.45" fill-opacity="0.45"/>
<circle cx="93.25" cy="177.30" r="0.45" fill-opacity="0.45"/>
<circle cx="96.57" cy="192.95" r="0.45" fill-opacity="0.45"/>
<circle cx="94.59" cy="179.19" r="0.45" fill-opacity="0.45"/>
<circle cx="101.71" cy="194.36" r="0.45" fill-opacity="0.45"/>
<circle cx="95.03" cy="183.85" r="0.45" fill-opacity="0.45"/>
<circle cx="97.04" cy="201.15" r="0.45" fill-opacity="0.45"/>
<circle cx="96.73" cy="190.44" r="0.45" fill-opacity="0.45"/>
<circle cx="97.97" cy="175.04" r="0.45" fill-opacity="0.45"/>
<circle cx="91.81" cy="178.25" r="0.45" fill-opacity="0.45"/>
<circle cx="97.92" cy="185.58" r="0.45" fill-opacity="0.45"/>
<circle cx="103.33" cy="183.52" r="0.45" fill-opacity="0.45"/>
<circle cx="97.43" cy="185.41" r="0.45" fill-opacity="0.45"/>
<circle cx="96.75" cy="197.68" r="0.45" fill-opacity="0.45"/>
<circle cx="97.33" cy="193.06" r="0.45" fill-opacity="0.45"/>
<circle cx="101.37" cy="181.67" r="0.45" fill-opacity="0.45"/>
<circle cx="98.93" cy="182.91" r="0.45" fill-opacity="0.45"/>
<circle cx="96.64" cy="185.87" r="0.45" fill-opacity="0.45"/>
<circle cx="96.28" cy="182.43" r="0.45" fill-opacity="0.45"/>
<circle cx="102.40" cy="183.55" r="0.45" fill-opacity="0.45"/>
<circle cx="99.00" cy="194.20" r="0.45" fill-opacity="0.45"/>
<circle cx="98.70" cy="190.63" r="0.45" fill-opacity="0.45"/>
<circle cx="101.74" cy="190.97" r="0.45" fill-opacity="0.45"/>
<circle cx="103.05" cy="177.17" r="0.45" fill-opacity="0.45"/>
<circle cx="104.01" cy="185.15" r="0.45" fill-opacity="0.45"/>
<circle cx="89.23" cy="181.49" r="0.45" fill-opacity="0.45"/>
<circle cx="90.64" cy="184.88" r="0.45" fill-opacity="0.45"/>
<circle cx="90.26" cy="179.48" r="0.45" fill-opacity="0.45"/>
<circle cx="97.38" cy="185.86" r="0.45" fill-opacity="0.45"/>
<circle cx="93.02" cy="183.71" r="0.45" fill-opacity="0.45"/>
<circle cx="95.81" cy="185.41" r="0.45" fill-opacity="0.45"/>
<circle cx="96.17" cy="183.79" r="0.45" fill-opacity="0.45"/>
<circle cx="99.71" cy="176.18" r="0.45" fill-opacity="0.45"/>
<circle cx="94.23" cy="185.73" r="0.45" fill-opacity="0.45"/>
<circle cx="94.60" cy="181.97" r="0.45" fill-opacity="0.45"/>
<circle cx="94.45" cy="186.15" r="0.45" fill-opacity="0.45"/>
<circle cx="101.17" cy="183.98" r="0.45" fill-opacity="0.45"/>
<circle cx="95.13" cy="186.95" r="0.45" fill-opacity="0.45"/>
<circle cx="95.23" cy="174.37" r="0.45" fill-opacity="0.45"/>
<circle cx="97.27" cy="182.93" r="0.45" fill-opacity="0.45"/>
<circle cx="93.91" cy="188.45" r="0.45" fill-opacity="0.45"/>
<circle cx="96.38" cy="181.90" r="0.45" fill-opacity="0.45"/>
<circle cx="87.50" cy="175.55" r="0.45" fill-opacity="0.45"/>
<circle cx="96.26" cy="184.36" r="0.45" fill-opacity="0.45"/>
<circle cx="97.95" cy="186.23" r="0.45" fill-opacity="0.45"/>
<circle cx="94.29" cy="178.05" r="0.45" fill-opacity="0.45"/>
<circle cx="91.82" cy="184.24" r="0.45" fill-opacity="0.45"/>
<circle cx="91.61" cy="189.15" r="0.45" fill-opacity="0.45"/>
<circle cx="90.90" cy="175.15" r="0.45" fill-opacity="0.45"/>
<circle cx="95.43" cy="175.24" r="0.45" fill-opacity="0.45"/>
<circle cx="102.71" cy="179.55" r="0.45" fill-opacity="0.45"/>
<circle cx="95.99" cy="183.66" r="0.45" fill-opacity="0.45"/>
<circle cx="92.92" cy="175.28" r="0.45" fill-opacity="0.45"/>
<circle cx="88.76" cy="189.76" r="0.45" fill-opacity="0.45"/>
<circle cx="100.28" cy="196.90" r="0.45" fill-opacity="0.45"/>
<circle cx="90.35" cy="188.08" r="0.45" fill-opacity="0.45"/>
<circle cx="96.14" cy="189.65" r="0.45" fill-opacity="0.45"/>
<circle cx="94.15" cy="188.97" r="0.45" fill-opacity="0.45"/>
<circle cx="99.78" cy="188.34" r="0.45" fill-opacity="0.45"/>
<circle cx="101.99" cy="184.04" r="0.45" fill-opacity="0.45"/>
<circle cx="102.37" cy="181.15" r="0.45" fill-opacity="0.45"/>
<circle cx="102.87" cy="169.89" r="0.45" fill-opacity="0.45"/>
<circle cx="96.25" cy="180.60" r="0.45" fill-opacity="0.45"/>
<circle cx="96.21" cy="190.67" r="0.45" fill-opacity="0.45"/>
<circle cx="99.07" cy="185.52" r="0.45" fill-opacity="0.45"/>
<circle cx="103.01" cy="176.88" r="0.45" fill-opacity="0.45"/>
<circle cx="92.94" cy="193.30" r="0.45" fill-opacity="0.45"/>
<circle cx="97.51" cy="173.59" r="0.45" fill-opacity="0.45"/>
<circle cx="97.56" cy="178.49" r="0.45" fill-opacity="0.45"/>
<circle cx="102.11" cy="191.29" r="0.45" fill-opacity="0.45"/>
<circle cx="94.01" cy="192.11" r="0.45" fill-opacity="0.45"/>
<circle cx="92.87" cy="190.06" r="0.45" fill-opacity="0.45"/>
<circle cx="98.52" cy="184.30" r="0.45" fill-opacity="0.45"/>
<circle cx="90.51" cy="183.46" r="0.45" fill-opacity="0.45"/>
<circle cx="87.04" cy="181.90" r="0.45" fill-opacity="0.45"/>
<circle cx="88.80" cy="191.69" r="0.45" fill-opacity="0.45"/>
<circle cx="92.33" cy="171.62" r="0.45" fill-opacity="0.45"/>
<circle cx="98.54" cy="187.03" r="0.45" fill-opacity="0.45"/>
<circle cx="94.17" cy="196.65" r="0.45" fill-opacity="0.45"/>
<circle cx="99.29" cy="185.37" r="0.45" fill-opacity="0.45"/>
<circle cx="93.62" cy="168.74" r="0.45" fill-opacity="0.45"/>
<circle cx="98.12" cy="190.28" r="0.45" fill-opacity="0.45"/>
<circle cx="93.83" cy="177.23" r="0.45" fill-opacity="0.45"/>
<circle cx="96.03" cy="175.80" r="0.45" fill-opacity="0.45"/>
<circle cx="96.23" cy="189.24" r="0.45" fill-opacity="0.45"/>
<circle cx="102.24" cy="186.46" r="0.45" fill-opacity="0.45"/>
<circle cx="96.99" cy="189.12" r="0.45" fill-opacity="0.45"/>
<circle cx="101.80" cy="183.24" r="0.45" fill-opacity="0.45"/>
<circle cx="91.29" cy="180.65" r="0.45" fill-opacity="0.45"/>
<circle cx="91.17" cy="180.11" r="0.45" fill-opacity="0.45"/>
<circle cx="95.72" cy="186.89" r="0.45" fill-opacity="0.45"/>
<circle cx="96.82" cy="185.38" r="0.45" fill-opacity="0.45"/>
<circle cx="94.77" cy="187.33" r="0.45" fill-opacity="0.45"/>
<circle cx="99.74" cy="189.18" r="0.45" fill-opacity="0.45"/>
<circle cx="102.19" cy="183.40" r="0.45" fill-opacity="0.45"/>
<circle cx="95.19" cy="194.32" r="0.45" fill-opacity="0.45"/>
<circle cx="97.00" cy="187.27" r="0.45" fill-opacity="0.45"/>
<circle cx="94.86" cy="190.33" r="0.45" fill-opacity="0.45"/>
<circle cx="94.59" cy="179.46" r="0.45" fill-opacity="0.45"/>
<circle cx="95.96" cy="182.57" r="0.45" fill-opacity="0.45"/>
<circle cx="99.54" cy="182.92" r="0.45" fill-opacity="0.45"/>
<circle cx="96.69" cy="183.81" r="0.45" fill-opacity="0.45"/>
<circle cx="97.56" cy="181.53" r="0.45" fill-opacity="0.45"/>
<circle cx="100.62" cy="177.17" r="0.45" fill-opacity="0.45"/>
<circle cx="94.66" cy="181.10" r="0.45" fill-opacity="0.45"/>
<circle cx="98.79" cy="185.22" r="0.45" fill-opacity="0.45"/>
<circle cx="98.14" cy="183.18" r="0.45" fill-opacity="0.45"/>
<circle cx="93.33" cy="178.84" r="0.45" fill-opacity="0.45"/>
<circle cx="94.86" cy="182.05" r="0.45" fill-opacity="0.45"/>
<circle cx="97.32" cy="186.95" r="0.45" fill-opacity="0.45"/>
<circle cx="100.11" cy="184.41" r="0.45" fill-opacity="0.45"/>
<circle cx="93.21" cy="179.16" r="0.45" fill-opacity="0.45"/>
<circle cx="96.44" cy="186.98" r="0.45" fill-opacity="0.45"/>
<circle cx="103.99" cy="186.00" r="0.45" fill-opacity="0.45"/>
<circle cx="103.23" cy="195.30" r="0.45" fill-opacity="0.45"/>
<circle cx="92.00" cy="191.66" r="0.45" fill-opacity="0.45"/>
<circle cx="100.75" cy="192.40" r="0.45" fill-opacity="0.45"/>
<circle cx="96.16" cy="190.25" r="0.45" fill-opacity="0.45"/>
<circle cx="94.28" cy="184.61" r="0.45" fill-opacity="0.45"/>
<circle cx="96.28" cy="194.81" r="0.45" fill-opacity="0.45"/>
<circle cx="95.34" cy="190.25" r="0.45" fill-opacity="0.45"/>
<circle cx="96.46" cy="181.10" r="0.45" fill-opacity="0.45"/>
<circle cx="97.17" cy="188.63" r="0.45" fill-opacity="0.45"/>
<circle cx="93.35" cy="188.49" r="0.45" fill-opacity="0.45"/>
<circle cx="93.35" cy="180.18" r="0.45" fill-opacity="0.45"/>
<circle cx="97.08" cy="183.71" r="0.45" fill-opacity="0.45"/>
<circle cx="92.27" cy="176.04" r="0.45" fill-opacity="0.45"/>
<circle cx="96.29" cy="186.34" r="0.45" fill-opacity="0.45"/>
<circle cx="94.36" cy="186.03" r="0.45" fill-opacity="0.45"/>
<circle cx="90.09" cy="187.16" r="0.45" fill-opacity="0.45"/>
<circle cx="97.87" cy="186.53" r="0.45" fill-opacity="0.45"/>
<circle cx="93.75" cy="185.44" r="0.45" fill-opacity="0.45"/>
<circle cx="96.72" cy="190.88" r="0.45" fill-opacity="0.45"/>
<circle cx="97.30" cy="186.40" r="0.45" fill-opacity="0.45"/>
<circle cx="93.31" cy="189.74" r="0.45" fill-opacity="0.45"/>
<circle cx="100.89" cy="182.29" r="0.45" fill-opacity="0.45"/>
<circle cx="98.76" cy="186.69" r="0.45" fill-opacity="0.45"/>
<circle cx="96.01" cy="177.93" r="0.45" fill-opacity="0.45"/>
<circle cx="103.23" cy="174.74" r="0.45" fill-opacity="0.45"/>
<circle cx="97.41" cy="182.93" r="0.45" fill-opacity="0.45"/>
<circle cx="100.78" cy="182.68" r="0.45" fill-opacity="0.45"/>
<circle cx="96.36" cy="188.36" r="0.45" fill-opacity="0.45"/>
<circle cx="98.02" cy="182.14" r="0.45" fill-opacity="0.45"/>
<circle cx="98.92" cy="187.15" r="0.45" fill-opacity="0.45"/>
<circle cx="100.15" cy="182.19" r="0.45" fill-opacity="0.45"/>
<circle cx="96.02" cy="182.85" r="0.45" fill-opacity="0.45"/>
<circle cx="92.85" cy="186.40" r="0.45" fill-opacity="0.45"/>
<circle cx="97.83" cy="192.79" r="0.45" fill-opacity="0.45"/>
<circle cx="94.90" cy="187.13" r="0.45" fill-opacity="0.45"/>
<circle cx="100.76" cy="184.37" r="0.45" fill-opacity="0.45"/>
<circle cx="96.45" cy="185.74" r="0.45" fill-opacity="0.45"/>
<circle cx="93.45" cy="179.58" r="0.45" fill-opacity="0.45"/>
<circle cx="100.66" cy="185.95" r="0.45" fill-opacity="0.45"/>
<circle cx="95.90" cy="178.19" r="0.45" fill-opacity="0.45"/>
<circle cx="96.67" cy="191.43" r="0.45" fill-opacity="0.45"/>
<circle cx="91.61" cy="180.11" r="0.45" fill-opacity="0.45"/>
<circle cx="100.62" cy="192.84" r="0.45" fill-opacity="0.45"/>
<circle cx="102.39" cy="181.97" r="0.45" fill-opacity="0.45"/>
<circle cx="98.59" cy="180.89" r="0.45" fill-opacity="0.45"/>
<circle cx="98.27" cy="183.00" r="0.45" fill-opacity="0.45"/>
<circle cx="96.98" cy="192.35" r="0.45" fill-opacity="0.45"/>
<circle cx="97.55" cy="183.68" r="0.45" fill-opacity="0.45"/>
<circle cx="96.42" cy="186.46" r="0.45" fill-opacity="0.45"/>
<circle cx="94.16" cy="186.13" r="0.45" fill-opacity="0.45"/>
<circle cx="98.59" cy="193.53" r="0.45" fill-opacity="0.45"/>
<circle cx="88.00" cy="178.49" r="0.45" fill-opacity="0.45"/>
<circle cx="91.28" cy="189.79" r="0.45" fill-opacity="0.45"/>
<circle cx="105.91" cy="186.06" r="0.45" fill-opacity="0.45"/>
<circle cx="96.68" cy="191.23" r="0.45" fill-opacity="0.45"/>
<circle cx="86.49" cy="184.02" r="0.45" fill-opacity="0.45"/>
<circle cx="83.81" cy="185.85" r="0.45" fill-opacity="0.45"/>
<circle cx="94.18" cy="182.35" r="0.45" fill-opacity="0.45"/>
<circle cx="97.55" cy="181.81" r="0.45" fill-opacity="0.45"/>
<circle cx="100.62" cy="184.98" r="0.45" fill-opacity="0.45"/>
<circle cx="97.71" cy="198.87" r="0.45" fill-opacity="0.45"/>
<circle cx="94.42" cy="190.06" r="0.45" fill-opacity="0.45"/>
<circle cx="92.92" cy="191.81" r="0.45" fill-opacity="0.45"/>
<circle cx="100.03" cy="185.77" r="0.45" fill-opacity="0.45"/>
<circle cx="100.14" cy="193.79" r="0.45" fill-opacity="0.45"/>
<circle cx="101.67" cy="185.01" r="0.45" fill-opacity="0.45"/>
<circle cx="95.98" cy="191.04" r="0.45" fill-opacity="0.45"/>
<circle cx="90.36" cy="181.71" r="0.45" fill-opacity="0.45"/>
<circle cx="98.12" cy="188.10" r="0.45" fill-opacity="0.45"/>
<circle cx="103.58" cy="194.60" r="0.45" fill-opacity="0.45"/>
<circle cx="97.49" cy="187.41" r="0.45" fill-opacity="0.45"/>
<circle cx="90.97" cy="183.99" r="0.45" fill-opacity="0.45"/>
<circle cx="97.24" cy="183.77" r="0.45" fill-opacity="0.45"/>
<circle cx="96.44" cy="188.31" r="0.45" fill-opacity="0.45"/>
<circle cx="92.43" cy="181.91" r="0.45" fill-opacity="0.45"/>
<circle cx="89.16" cy="191.24" r="0.45" fill-opacity="0.45"/>
<circle cx="92.02" cy="175.73" r="0.45" fill-opacity="0.45"/>
<circle cx="99.25" cy="183.84" r="0.45" fill-opacity="0.45"/>
<circle cx="100.03" cy="182.99" r="0.45" fill-opacity="0.45"/>
<circle cx="104.61" cy="188.89" r="0.45" fill-opacity="0.45"/>
<circle cx="96.80" cy="185.63" r="0.45" fill-opacity="0.45"/>
<circle cx="95.39" cy="189.40" r="0.45" fill-opacity="0.45"/>
<circle cx="104.11" cy="182.70" r="0.45" fill-opacity="0.45"/>
<circle cx="91.90" cy="188.25" r="0.45" fill-opacity="0.45"/>
<circle cx="100.42" cy="176.88" r="0.45" fill-opacity="0.45"/>
<circle cx="93.46" cy="179.58" r="0.45" fill-opacity="0.45"/>
<circle cx="98.42" cy="187.75" r="0.45" fill-opacity="0.45"/>
<circle cx="93.30" cy="178.88" r="0.45" fill-opacity="0.45"/>
<circle cx="98.90" cy="173.83" r="0.45" fill-opacity="0.45"/>
<circle cx="98.74" cy="184.16" r="0.45" fill-opacity="0.45"/>
<circle cx="103.78" cy="190.40" r="0.45" fill-opacity="0.45"/>
<circle cx="93.91" cy="183.51" r="0.45" fill-opacity="0.45"/>
<circle cx="95.11" cy="181.05" r="0.45" fill-opacity="0.45"/>
<circle cx="96.52" cy="190.23" r="0.45" fill-opacity="0.45"/>
<circle cx="90.25" cy="183.76" r="0.45" fill-opacity="0.45"/>
<circle cx="102.09" cy="189.03" r="0.45" fill-opacity="0.45"/>
<circle cx="92.99" cy="180.63" r="0.45" fill-opacity="0.45"/>
<circle cx="92.83" cy="176.30" r="0.45" fill-opacity="0.45"/>
<circle cx="100.73" cy="185.38" r="0.45" fill-opacity="0.45"/>
<circle cx="93.45" cy="177.23" r="0.45" fill-opacity="0.45"/>
<circle cx="94.69" cy="182.23" r="0.45" fill-opacity="0.45"/>
<circle cx="102.98" cy="182.51" r="0.45" fill-opacity="0.45"/>
<circle cx="96.66" cy="190.80" r="0.45" fill-opacity="0.45"/>
<circle cx="98.83" cy="184.02" r="0.45" fill-opacity="0.45"/>
<circle cx="87.61" cy="192.59" r="0.45" fill-opacity="0.45"/>
<circle cx="98.56" cy="182.65" r="0.45" fill-opacity="0.45"/>
<circle cx="95.85" cy="179.83" r="0.45" fill-opacity="0.45"/>
<circle cx="92.66" cy="176.97" r="0.45" fill-opacity="0.45"/>
<circle cx="98.17" cy="187.80" r="0.45" fill-opacity="0.45"/>
<circle cx="96.89" cy="189.22" r="0.45" fill-opacity="0.45"/>
<circle cx="98.31" cy="185.66" r="0.45" fill-opacity="0.45"/>
<circle cx="92.73" cy="188.20" r="0.45" fill-opacity="0.45"/>
<circle cx="100.87" cy="188.41" r="0.45" fill-opacity="0.45"/>
<circle cx="101.11" cy="182.44" r="0.45" fill-opacity="0.45"/>
<circle cx="92.35" cy="191.76" r="0.45" fill-opacity="0.45"/>
<circle cx="93.91" cy="186.31" r="0.45" fill-opacity="0.45"/>
<circle cx="95.45" cy="185.12" r="0.45" fill-opacity="0.45"/>
<circle cx="95.14" cy="182.09" r="0.45" fill-opacity="0.45"/>
<circle cx="89.20" cy="195.29" r="0.45" fill-opacity="0.45"/>
<circle cx="97.00" cy="174.61" r="0.45" fill-opacity="0.45"/>
<circle cx="92.64" cy="178.92" r="0.45" fill-opacity="0.45"/>
<circle cx="93.29" cy="171.25" r="0.45" fill-opacity="0.45"/>
<circle cx="98.46" cy="193.85" r="0.45" fill-opacity="0.45"/>
<circle cx="95.23" cy="189.01" r="0.45" fill-opacity="0.45"/>
<circle cx="98.56" cy="178.28" r="0.45" fill-opacity="0.45"/>
<circle cx="100.98" cy="175.91" r="0.45" fill-opacity="0.45"/>
<circle cx="93.94" cy="183.06" r="0.45" fill-opacity="0.45"/>
<circle cx="101.13" cy="185.64" r="0.45" fill-opacity="0.45"/>
<circle cx="95.71" cy="180.66" r="0.45" fill-opacity="0.45"/>
<circle cx="96.55" cy="185.23" r="0.45" fill-opacity="0.45"/>
<circle cx="99.06" cy="192.52" r="0.45" fill-opacity="0.45"/>
<circle cx="99.09" cy="185.10" r="0.45" fill-opacity="0.45"/>
<circle cx="95.60" cy="193.63" r="0.45" fill-opacity="0.45"/>
<circle cx="96.99" cy="184.91" r="0.45" fill-opacity="0.45"/>
<circle cx="103.24" cy="193.45" r="0.45" fill-opacity="0.45"/>
<circle cx="98.43" cy="184.41" r="0.45" fill-opacity="0.45"/>
<circle cx="93.72" cy="190.75" r="0.45" fill-opacity="0.45"/>
<circle cx="94.43" cy="190.17" r="0.45" fill-opacity="0.45"/>
<circle cx="93.13" cy="185.56" r="0.45" fill-opacity="0.45"/>
<circle cx="97.78" cy="185.78" r="0.45" fill-opacity="0.45"/>
<circle cx="97.12" cy="187.05" r="0.45" fill-opacity="0.45"/>
<circle cx="91.81" cy="179.03" r="0.45" fill-opacity="0.45"/>
<circle cx="95.62" cy="194.71" r="0.45" fill-opacity="0.45"/>
<circle cx="95.71" cy="180.02" r="0.45" fill-opacity="0.45"/>
<circle cx="93.62" cy="185.18" r="0.45" fill-opacity="0.45"/>
<circle cx="100.83" cy="181.96" r="0.45" fill-opacity="0.45"/>
<circle cx="98.39" cy="186.01" r="0.45" fill-opacity="0.45"/>
<circle cx="94.81" cy="179.92" r="0.45" fill-opacity="0.45"/>
<circle cx="95.61" cy="181.11" r="0.45" fill-opacity="0.45"/>
<circle cx="98.30" cy="175.53" r="0.45" fill-opacity="0.45"/>
<circle cx="100.61" cy="189.08" r="0.45" fill-opacity="0.45"/>
<circle cx="98.46" cy="193.05" r="0.45" fill-opacity="0.45"/>
<circle cx="98.56" cy="175.82" r="0.45" fill-opacity="0.45"/>
<circle cx="96.41" cy="187.42" r="0.45" fill-opacity="0.45"/>
<circle cx="93.53" cy="178.93" r="0.45" fill-opacity="0.45"/>
<circle cx="97.89" cy="187.75" r="0.45" fill-opacity="0.45"/>
<circle cx="94.54" cy="183.70" r="0.45" fill-opacity="0.45"/>
<circle cx="94.22" cy="181.95" r="0.45" fill-opacity="0.45"/>
<circle cx="95.98" cy="190.76" r="0.45" fill-opacity="0.45"/>
<circle cx="89.92" cy="183.17" r="0.45" fill-opacity="0.45"/>
<circle cx="102.50" cy="186.70" r="0.45" fill-opacity="0.45"/>
<circle cx="96.80" cy="189.48" r="0.45" fill-opacity="0.45"/>
<circle cx="92.29" cy="178.51" r="0.45" fill-opacity="0.45"/>
<circle cx="89.73" cy="177.18" r="0.45" fill-opacity="0.45"/>
<circle cx="97.17" cy="189.56" r="0.45" fill-opacity="0.45"/>
<circle cx="94.58" cy="181.35" r="0.45" fill-opacity="0.45"/>
<circle cx="97.78" cy="188.29" r="0.45" fill-opacity="0.45"/>
<circle cx="97.20" cy="174.79" r="0.45" fill-opacity="0.45"/>
<circle cx="94.08" cy="171.42" r="0.45" fill-opacity="0.45"/>
<circle cx="97.15" cy="180.45" r="0.45" fill-opacity="0.45"/>
<circle cx="93.64" cy="193.06" r="0.45" fill-opacity="0.45"/>
<circle cx="101.35" cy="187.58" r="0.45" fill-opacity="0.45"/>
<circle cx="97.28" cy="185.93" r="0.45" fill-opacity="0.45"/>
<circle cx="93.92" cy="184.73" r="0.45" fill-opacity="0.45"/>
<circle cx="103.65" cy="180.31" r="0.45" fill-opacity="0.45"/>
<circle cx="93.62" cy="185.87" r="0.45" fill-opacity="0.45"/>
<circle cx="99.68" cy="189.46" r="0.45" fill-opacity="0.45"/>
<circle cx="92.44" cy="184.30" r="0.45" fill-opacity="0.45"/>
<circle cx="95.17" cy="178.40" r="0.45" fill-opacity="0.45"/>
<circle cx="96.50" cy="182.43" r="0.45" fill-opacity="0.45"/>
<circle cx="99.78" cy="187.32" r="0.45" fill-opacity="0.45"/>
<circle cx="93.16" cy="185.43" r="0.45" fill-opacity="0.45"/>
<circle cx="94.81" cy="181.60" r="0.45" fill-opacity="0.45"/>
<circle cx="94.31" cy="190.69" r="0.45" fill-opacity="0.45"/>
<circle cx="94.59" cy="175.83" r="0.45" fill-opacity="0.45"/>
<circle cx="93.19" cy="189.32" r="0.45" fill-opacity="0.45"/>
<circle cx="104.58" cy="179.36" r="0.45" fill-opacity="0.45"/>
<circle cx="94.82" cy="183.24" r="0.45" fill-opacity="0.45"/>
<circle cx="90.73" cy="187.15" r="0.45" fill-opacity="0.45"/>
<circle cx="96.00" cy="186.49" r="0.45" fill-opacity="0.45"/>
<circle cx="104.91" cy="183.58" r="0.45" fill-opacity="0.45"/>
<circle cx="99.29" cy="189.46" r="0.45" fill-opacity="0.45"/>
<circle cx="93.73" cy="181.83" r="0.45" fill-opacity="0.45"/>
<circle cx="102.26" cy="188.83" r="0.45" fill-opacity="0.45"/>
<circle cx="96.76" cy="179.15" r="0.45" fill-opacity="0.45"/>
<circle cx="99.64" cy="187.82" r="0.45" fill-opacity="0.45"/>
<circle cx="104.75" cy="192.88" r="0.45" fill-opacity="0.45"/>
<circle cx="99.33" cy="186.43" r="0.45" fill-opacity="0.45"/>
<circle cx="96.44" cy="182.06" r="0.45" fill-opacity="0.45"/>
<circle cx="97.40" cy="186.31" r="0.45" fill-opacity="0.45"/>
<circle cx="98.74" cy="190.81" r="0.45" fill-opacity="0.45"/>
<circle cx="97.41" cy="182.10" r="0.45" fill-opacity="0.45"/>
<circle cx="99.34" cy="193.30" r="0.45" fill-opacity="0.45"/>
<circle cx="92.95" cy="187.25" r="0.45" fill-opacity="0.45"/>
<circle cx="98.33" cy="187.87" r="0.45" fill-opacity="0.45"/>
<circle cx="98.16" cy="184.52" r="0.45" fill-opacity="0.45"/>
<circle cx="95.81" cy="194.02" r="0.45" fill-opacity="0.45"/>
<circle cx="104.08" cy="193.19" r="0.45" fill-opacity="0.3"/>
<circle cx="85.40" cy="202.13" r="0.45" fill-opacity="0.3"/>
<circle cx="93.55" cy="197.49" r="0.45" fill-opacity="0.3"/>
<circle cx="89.53" cy="201.72" r="0.45" fill-opacity="0.3"/>
<circle cx="96.26" cy="197.38" r="0.45" fill-opacity="0.3"/>
<circle cx="100.43" cy="211.82" r="0.45" fill-opacity="0.3"/>
<circle cx="102.95" cy="205.71" r="0.45" fill-opacity="0.3"/>
<circle cx="94.70" cy="203.20" r="0.45" fill-opacity="0.3"/>
<circle cx="96.34" cy="205.62" r="0.45" fill-opacity="0.3"/>
<circle cx="99.05" cy="199.83" r="0.45" fill-opacity="0.3"/>
<circle cx="98.92" cy="196.51" r="0.45" fill-opacity="0.3"/>
<circle cx="99.97" cy="207.31" r="0.45" fill-opacity="0.3"/>
<circle cx="94.92" cy="202.70" r="0.45" fill-opacity="0.3"/>
<circle cx="89.22" cy="204.55" r="0.45" fill-opacity="0.3"/>
<circle cx="100.34" cy="195.04" r="0.45" fill-opacity="0.3"/>
<circle cx="104.12" cy="200.56" r="0.45" fill-opacity="0.3"/>
<circle cx="88.94" cy="193.35" r="0.45" fill-opacity="0.3"/>
<circle cx="100.32" cy="198.68" r="0.45" fill-opacity="0.3"/>
<circle cx="101.33" cy="192.47" r="0.45" fill-opacity="0.3"/>
<circle cx="96.07" cy="204.75" r="0.45" fill-opacity="0.3"/>
<circle cx="93.54" cy="203.31" r="0.45" fill-opacity="0.3"/>
<circle cx="94.93" cy="201.67" r="0.45" fill-opacity="0.3"/>
<circle cx="97.91" cy="210.85" r="0.45" fill-opacity="0.3"/>
<circle cx="91.09" cy="203.79" r="0.45" fill-opacity="0.3"/>
<circle cx="102.24" cy="194.54" r="0.45" fill-opacity="0.3"/>
<circle cx="96.86" cy="211.22" r="0.45" fill-opacity="0.3"/>
<circle cx="101.09" cy="185.59" r="0.45" fill-opacity="0.3"/>
<circle cx="95.46" cy="191.70" r="0.45" fill-opacity="0.3"/>
<circle cx="97.83" cy="196.47" r="0.45" fill-opacity="0.3"/>
<circle cx="94.05" cy="195.94" r="0.45" fill-opacity="0.3"/>
<circle cx="97.79" cy="197.74" r="0.45" fill-opacity="0.3"/>
<circle cx="92.55" cy="198.90" r="0.45" fill-opacity="0.3"/>
<circle cx="98.28" cy="195.84" r="0.45" fill-opacity="0.3"/>
<circle cx="101.36" cy="191.94" r="0.45" fill-opacity="0.3"/>
<circle cx="98.28" cy="198.11" r="0.45" fill-opacity="0.3"/>
<circle cx="103.38" cy="196.88" r="0.45" fill-opacity="0.3"/>
<circle cx="93.60" cy="193.48" r="0.45" fill-opacity="0.3"/>
<circle cx="105.18" cy="203.00" r="0.45" fill-opacity="0.3"/>
<circle cx="91.76" cy="198.37" r="0.45" fill-opacity="0.3"/>
<circle cx="92.31" cy="207.40" r="0.45" fill-opacity="0.3"/>
<circle cx="98.33" cy="190.11" r="0.45" fill-opacity="0.3"/>
<circle cx="97.42" cy="204.45" r="0.45" fill-opacity="0.3"/>
<circle cx="96.51" cy="202.30" r="0.45" fill-opacity="0.3"/>
<circle cx="96.02" cy="201.02" r="0.45" fill-opacity="0.3"/>
<circle cx="97.43" cy="196.56" r="0.45" fill-opacity="0.3"/>
<circle cx="98.02" cy="200.80" r="0.45" fill-opacity="0.3"/>
<circle cx="96.33" cy="196.68" r="0.45" fill-opacity="0.3"/>
<circle cx="92.07" cy="201.20" r="0.45" fill-opacity="0.3"/>
<circle cx="100.11" cy="188.26" r="0.45" fill-opacity="0.3"/>
<circle cx="94.16" cy="206.58" r="0.45" fill-opacity="0.3"/>
<circle cx="100.50" cy="196.54" r="0.45" fill-opacity="0.3"/>
<circle cx="102.41" cy="195.21" r="0.45" fill-opacity="0.3"/>
<circle cx="93.05" cy="209.43" r="0.45" fill-opacity="0.3"/>
<circle cx="94.59" cy="198.95" r="0.45" fill-opacity="0.3"/>
<circle cx="89.29" cy="195.09" r="0.45" fill-opacity="0.3"/>
<circle cx="91.36" cy="199.33" r="0.45" fill-opacity="0.3"/>
<circle cx="88.47" cy="205.17" r="0.45" fill-opacity="0.3"/>
<circle cx="94.94" cy="197.06" r="0.45" fill-opacity="0.3"/>
<circle cx="93.73" cy="203.62" r="0.45" fill-opacity="0.3"/>
<circle cx="103.21" cy="198.02" r="0.45" fill-opacity="0.3"/>
<circle cx="103.56" cy="207.83" r="0.45" fill-opacity="0.3"/>
<circle cx="102.37" cy="201.45" r="0.45" fill-opacity="0.3"/>
<circle cx="89.98" cy="203.28" r="0.45" fill-opacity="0.3"/>
<circle cx="94.71" cy="200.95" r="0.45" fill-opacity="0.3"/>
<circle cx="88.25" cy="198.63" r="0.45" fill-opacity="0.3"/>
<circle cx="97.52" cy="195.44" r="0.45" fill-opacity="0.3"/>
<circle cx="97.79" cy="208.14" r="0.45" fill-opacity="0.3"/>
<circle cx="97.51" cy="196.67" r="0.45" fill-opacity="0.3"/>
<circle cx="106.94" cy="189.53" r="0.45" fill-opacity="0.3"/>
<circle cx="92.47" cy="201.99" r="0.45" fill-opacity="0.3"/>
<circle cx="93.91" cy="188.84" r="0.45" fill-opacity="0.3"/>
<circle cx="97.64" cy="204.04" r="0.45" fill-opacity="0.3"/>
<circle cx="93.02" cy="207.14" r="0.45" fill-opacity="0.3"/>
<circle cx="98.69" cy="205.80" r="0.45" fill-opacity="0.3"/>
<circle cx="89.81" cy="199.99" r="0.45" fill-opacity="0.3"/>
<circle cx="103.51" cy="209.81" r="0.45" fill-opacity="0.3"/>
<circle cx="102.28" cy="200.00" r="0.45" fill-opacity="0.3"/>
<circle cx="97.30" cy="196.95" r="0.45" fill-opacity="0.3"/>
<circle cx="101.31" cy="196.61" r="0.45" fill-opacity="0.3"/>
<circle cx="97.04" cy="189.95" r="0.45" fill-opacity="0.3"/>
<circle cx="89.90" cy="208.67" r="0.45" fill-opacity="0.3"/>
<circle cx="96.76" cy="201.05" r="0.45" fill-opacity="0.3"/>
<circle cx="86.87" cy="199.84" r="0.45" fill-opacity="0.3"/>
<circle cx="105.58" cy="192.71" r="0.45" fill-opacity="0.3"/>
<circle cx="86.07" cy="199.21" r="0.45" fill-opacity="0.3"/>
<circle cx="94.17" cy="198.98" r="0.45" fill-opacity="0.3"/>
<circle cx="90.98" cy="193.38" r="0.45" fill-opacity="0.3"/>
<circle cx="91.08" cy="203.13" r="0.45" fill-opacity="0.3"/>
<circle cx="96.29" cy="204.01" r="0.45" fill-opacity="0.3"/>
<circle cx="91.76" cy="202.88" r="0.45" fill-opacity="0.3"/>
<circle cx="94.56" cy="200.44" r="0.45" fill-opacity="0.3"/>
<circle cx="100.60" cy="200.16" r="0.45" fill-opacity="0.3"/>
<circle cx="94.96" cy="191.87" r="0.45" fill-opacity="0.3"/>
<circle cx="96.78" cy="203.83" r="0.45" fill-opacity="0.3"/>
<circle cx="93.72" cy="199.68" r="0.45" fill-opacity="0.3"/>
<circle cx="88.72" cy="193.48" r="0.45" fill-opacity="0.3"/>
<circle cx="98.27" cy="206.34" r="0.45" fill-opacity="0.3"/>
<circle cx="95.13" cy="191.82" r="0.45" fill-opacity="0.3"/>
<circle cx="94.83" cy="192.35" r="0.45" fill-opacity="0.3"/>
<circle cx="95.29" cy="209.45" r="0.45" fill-opacity="0.3"/>
<circle cx="97.82" cy="199.25" r="0.45" fill-opacity="0.3"/>
<circle cx="101.07" cy="198.14" r="0.45" fill-opacity="0.3"/>
<circle cx="97.96" cy="200.98" r="0.45" fill-opacity="0.3"/>
<circle cx="98.47" cy="192.80" r="0.45" fill-opacity="0.3"/>
<circle cx="99.63" cy="204.32" r="0.45" fill-opacity="0.3"/>
<circle cx="86.44" cy="186.70" r="0.45" fill-opacity="0.3"/>
<circle cx="92.55" cy="207.31" r="0.45" fill-opacity="0.3"/>
<circle cx="96.59" cy="203.33" r="0.45" fill-opacity="0.3"/>
<circle cx="98.95" cy="204.36" r="0.45" fill-opacity="0.3"/>
<circle cx="93.68" cy="197.13" r="0.45" fill-opacity="0.3"/>
<circle cx="98.16" cy="202.99" r="0.45" fill-opacity="0.3"/>
<circle cx="99.04" cy="201.67" r="0.45" fill-opacity="0.3"/>
<circle cx="94.36" cy="205.43" r="0.45" fill-opacity="0.3"/>
<circle cx="98.58" cy="205.23" r="0.45" fill-opacity="0.3"/>
<circle cx="85.26" cy="204.96" r="0.45" fill-opacity="0.3"/>
<circle cx="85.71" cy="201.04" r="0.45" fill-opacity="0.3"/>
<circle cx="93.56" cy="200.59" r="0.45" fill-opacity="0.3"/>
<circle cx="94.39" cy="198.47" r="0.45" fill-opacity="0.3"/>
<circle cx="97.35" cy="201.70" r="0.45" fill-opacity="0.3"/>
<circle cx="92.96" cy="187.55" r="0.45" fill-opacity="0.3"/>
<circle cx="107.93" cy="200.27" r="0.45" fill-opacity="0.18"/>
<circle cx="107.68" cy="199.38" r="0.45" fill-opacity="0.18"/>
<circle cx="109.55" cy="188.57" r="0.45" fill-opacity="0.18"/>
<circle cx="115.60" cy="209.07" r="0.45" fill-opacity="0.18"/>
<circle cx="110.59" cy="195.60" r="0.45" fill-opacity="0.18"/>
<circle cx="114.78" cy="185.53" r="0.45" fill-opacity="0.18"/>
<circle cx="107.56" cy="204.94" r="0.45" fill-opacity="0.18"/>
<circle cx="114.56" cy="192.10" r="0.45" fill-opacity="0.18"/>
<circle cx="107.93" cy="198.77" r="0.45" fill-opacity="0.18"/>
<circle cx="105.44" cy="192.06" r="0.45" fill-opacity="0.18"/>
<circle cx="110.08" cy="176.55" r="0.45" fill-opacity="0.18"/>
<circle cx="113.33" cy="202.04" r="0.45" fill-opacity="0.18"/>
<circle cx="115.22" cy="184.63" r="0.45" fill-opacity="0.18"/>
<circle cx="105.92" cy="189.55" r="0.45" fill-opacity="0.18"/>
<circle cx="105.84" cy="212.26" r="0.45" fill-opacity="0.18"/>
<circle cx="107.13" cy="193.52" r="0.45" fill-opacity="0.18"/>
<circle cx="111.82" cy="199.61" r="0.45" fill-opacity="0.18"/>
<circle cx="116.74" cy="187.38" r="0.45" fill-opacity="0.18"/>
<circle cx="114.48" cy="197.18" r="0.45" fill-opacity="0.18"/>
<circle cx="106.36" cy="197.20" r="0.45" fill-opacity="0.18"/>
<circle cx="105.44" cy="208.85" r="0.45" fill-opacity="0.18"/>
<circle cx="108.11" cy="203.98" r="0.45" fill-opacity="0.18"/>
<circle cx="116.16" cy="191.10" r="0.45" fill-opacity="0.18"/>
<circle cx="107.44" cy="197.04" r="0.45" fill-opacity="0.18"/>
<circle cx="106.84" cy="203.14" r="0.45" fill-opacity="0.18"/>
<circle cx="111.70" cy="189.94" r="0.45" fill-opacity="0.18"/>
<circle cx="108.28" cy="201.76" r="0.45" fill-opacity="0.18"/>
<circle cx="105.24" cy="209.42" r="0.45" fill-opacity="0.18"/>
<circle cx="107.88" cy="194.44" r="0.45" fill-opacity="0.18"/>
<circle cx="107.33" cy="208.91" r="0.45" fill-opacity="0.18"/>
<circle cx="114.27" cy="206.35" r="0.45" fill-opacity="0.18"/>
<circle cx="113.60" cy="196.71" r="0.45" fill-opacity="0.18"/>
<circle cx="117.74" cy="201.29" r="0.45" fill-opacity="0.18"/>
<circle cx="112.74" cy="200.59" r="0.45" fill-opacity="0.18"/>
<circle cx="113.93" cy="198.22" r="0.45" fill-opacity="0.18"/>
<circle cx="110.34" cy="183.30" r="0.45" fill-opacity="0.18"/>
<circle cx="119.20" cy="185.65" r="0.45" fill-opacity="0.18"/>
<circle cx="102.42" cy="190.32" r="0.45" fill-opacity="0.18"/>
<circle cx="118.70" cy="205.72" r="0.45" fill-opacity="0.18"/>
<circle cx="108.60" cy="198.11" r="0.45" fill-opacity="0.18"/>
<circle cx="110.90" cy="180.18" r="0.45" fill-opacity="0.18"/>
<circle cx="109.67" cy="198.33" r="0.45" fill-opacity="0.18"/>
<circle cx="115.67" cy="186.41" r="0.45" fill-opacity="0.18"/>
<circle cx="102.00" cy="183.44" r="0.45" fill-opacity="0.18"/>
<circle cx="112.32" cy="196.64" r="0.45" fill-opacity="0.18"/>
<circle cx="111.60" cy="197.18" r="0.45" fill-opacity="0.18"/>
<circle cx="109.54" cy="185.10" r="0.45" fill-opacity="0.18"/>
<circle cx="112.81" cy="199.09" r="0.45" fill-opacity="0.18"/>
<circle cx="113.31" cy="205.95" r="0.45" fill-opacity="0.18"/>
<circle cx="106.05" cy="177.32" r="0.45" fill-opacity="0.18"/>
<circle cx="87.10" cy="176.54" r="0.45" fill-opacity="0.18"/>
<circle cx="91.44" cy="169.59" r="0.45" fill-opacity="0.18"/>
<circle cx="95.92" cy="170.91" r="0.45" fill-opacity="0.18"/>
<circle cx="112.04" cy="165.94" r="0.45" fill-opacity="0.18"/>
<circle cx="95.15" cy="165.61" r="0.45" fill-opacity="0.18"/>
<circle cx="97.23" cy="170.08" r="0.45" fill-opacity="0.18"/>
<circle cx="91.15" cy="173.27" r="0.45" fill-opacity="0.18"/>
<circle cx="101.73" cy="169.78" r="0.45" fill-opacity="0.18"/>
<circle cx="95.45" cy="167.05" r="0.45" fill-opacity="0.18"/>
<circle cx="87.78" cy="170.62" r="0.45" fill-opacity="0.18"/>
<circle cx="91.13" cy="165.99" r="0.45" fill-opacity="0.18"/>
<circle cx="100.98" cy="164.32" r="0.45" fill-opacity="0.18"/>
<circle cx="93.39" cy="171.43" r="0.45" fill-opacity="0.18"/>
<circle cx="105.28" cy="165.24" r="0.45" fill-opacity="0.18"/>
<circle cx="101.52" cy="165.38" r="0.45" fill-opacity="0.18"/>
<circle cx="97.94" cy="169.94" r="0.45" fill-opacity="0.18"/>
<circle cx="90.31" cy="172.10" r="0.45" fill-opacity="0.18"/>
<circle cx="105.00" cy="168.21" r="0.45" fill-opacity="0.18"/>
<circle cx="97.35" cy="163.31" r="0.45" fill-opacity="0.18"/>
<circle cx="104.94" cy="168.25" r="0.45" fill-opacity="0.18"/>
<circle cx="89.62" cy="171.06" r="0.45" fill-opacity="0.18"/>
<circle cx="88.69" cy="165.25" r="0.45" fill-opacity="0.18"/>
<circle cx="85.34" cy="173.50" r="0.45" fill-opacity="0.18"/>
<circle cx="107.05" cy="165.46" r="0.45" fill-opacity="0.18"/>
<circle cx="92.73" cy="165.69" r="0.45" fill-opacity="0.18"/>
<circle cx="93.17" cy="170.22" r="0.45" fill-opacity="0.18"/>
<circle cx="103.29" cy="163.97" r="0.45" fill-opacity="0.18"/>
<circle cx="98.20" cy="160.79" r="0.45" fill-opacity="0.18"/>
<circle cx="103.62" cy="167.65" r="0.45" fill-opacity="0.18"/>
<circle cx="92.50" cy="174.12" r="0.45" fill-opacity="0.18"/>
<circle cx="95.47" cy="173.48" r="0.45" fill-opacity="0.18"/>
<circle cx="101.37" cy="174.63" r="0.45" fill-opacity="0.18"/>
<circle cx="92.00" cy="168.23" r="0.45" fill-opacity="0.18"/>
<circle cx="97.84" cy="167.22" r="0.45" fill-opacity="0.18"/>
<circle cx="103.61" cy="165.14" r="0.45" fill-opacity="0.18"/>
<circle cx="101.01" cy="173.45" r="0.45" fill-opacity="0.18"/>
<circle cx="86.23" cy="164.12" r="0.45" fill-opacity="0.18"/>
<circle cx="91.48" cy="165.82" r="0.45" fill-opacity="0.18"/>
<circle cx="97.95" cy="167.30" r="0.45" fill-opacity="0.18"/>
<circle cx="96.39" cy="166.16" r="0.45" fill-opacity="0.18"/>
<circle cx="95.59" cy="169.94" r="0.45" fill-opacity="0.18"/>
<circle cx="99.73" cy="164.87" r="0.45" fill-opacity="0.18"/>
<circle cx="95.43" cy="164.95" r="0.45" fill-opacity="0.18"/>
<circle cx="95.11" cy="162.26" r="0.45" fill-opacity="0.18"/>
<circle cx="100.77" cy="170.69" r="0.45" fill-opacity="0.18"/>
<circle cx="95.39" cy="165.26" r="0.45" fill-opacity="0.18"/>
<circle cx="93.72" cy="165.34" r="0.45" fill-opacity="0.18"/>
<circle cx="88.28" cy="174.53" r="0.45" fill-opacity="0.18"/>
<circle cx="112.45" cy="163.08" r="0.45" fill-opacity="0.18"/>
<circle cx="90.17" cy="170.31" r="0.45" fill-opacity="0.18"/>
<circle cx="99.03" cy="161.71" r="0.45" fill-opacity="0.18"/>
<circle cx="86.40" cy="170.17" r="0.45" fill-opacity="0.18"/>
<circle cx="86.04" cy="173.69" r="0.45" fill-opacity="0.18"/>
<circle cx="93.52" cy="168.34" r="0.45" fill-opacity="0.18"/>
<circle cx="95.98" cy="165.76" r="0.45" fill-opacity="0.18"/>
<circle cx="95.29" cy="166.80" r="0.45" fill-opacity="0.18"/>
<circle cx="102.22" cy="167.63" r="0.45" fill-opacity="0.18"/>
<circle cx="95.84" cy="165.88" r="0.45" fill-opacity="0.18"/>
<circle cx="92.83" cy="165.05" r="0.45" fill-opacity="0.18"/>
<circle cx="96.05" cy="175.35" r="0.45" fill-opacity="0.18"/>
<circle cx="88.57" cy="182.11" r="0.4" fill-opacity="0.2"/>
<circle cx="89.48" cy="205.64" r="0.4" fill-opacity="0.2"/>
<circle cx="103.18" cy="154.17" r="0.4" fill-opacity="0.2"/>
<circle cx="95.90" cy="181.55" r="0.4" fill-opacity="0.2"/>
<circle cx="100.22" cy="197.94" r="0.4" fill-opacity="0.2"/>
<circle cx="93.83" cy="210.77" r="0.4" fill-opacity="0.2"/>
<circle cx="91.15" cy="160.61" r="0.4" fill-opacity="0.2"/>
<circle cx="101.85" cy="159.57" r="0.4" fill-opacity="0.2"/>
<circle cx="91.16" cy="183.51" r="0.4" fill-opacity="0.2"/>
<circle cx="93.72" cy="162.32" r="0.4" fill-opacity="0.2"/>
<circle cx="103.81" cy="181.86" r="0.4" fill-opacity="0.2"/>
<circle cx="101.36" cy="167.76" r="0.4" fill-opacity="0.2"/>
<circle cx="103.51" cy="165.93" r="0.4" fill-opacity="0.2"/>
<circle cx="103.41" cy="190.61" r="0.4" fill-opacity="0.2"/>
<circle cx="104.51" cy="200.58" r="0.4" fill-opacity="0.2"/>
<circle cx="98.72" cy="185.58" r="0.4" fill-opacity="0.2"/>
<circle cx="102.53" cy="179.94" r="0.4" fill-opacity="0.2"/>
<circle cx="89.67" cy="209.57" r="0.4" fill-opacity="0.2"/>
<circle cx="101.70" cy="194.97" r="0.4" fill-opacity="0.2"/>
<circle cx="100.66" cy="166.62" r="0.4" fill-opacity="0.2"/>
<circle cx="95.88" cy="203.84" r="0.4" fill-opacity="0.2"/>
<circle cx="104.35" cy="210.16" r="0.4" fill-opacity="0.2"/>
<circle cx="90.73" cy="195.08" r="0.4" fill-opacity="0.2"/>
<circle cx="97.42" cy="177.52" r="0.4" fill-opacity="0.2"/>
<circle cx="90.85" cy="160.64" r="0.4" fill-opacity="0.2"/>
<circle cx="95.99" cy="183.07" r="0.4" fill-opacity="0.2"/>
<circle cx="92.55" cy="175.16" r="0.4" fill-opacity="0.2"/>
<circle cx="97.42" cy="200.00" r="0.4" fill-opacity="0.2"/>
<circle cx="98.02" cy="162.21" r="0.4" fill-opacity="0.2"/>
<circle cx="103.06" cy="175.16" r="0.4" fill-opacity="0.2"/>
<circle cx="104.32" cy="213.84" r="0.4" fill-opacity="0.2"/>
<circle cx="90.39" cy="188.68" r="0.4" fill-opacity="0.2"/>
<circle cx="104.44" cy="176.26" r="0.4" fill-opacity="0.2"/>
<circle cx="97.31" cy="171.77" r="0.4" fill-opacity="0.2"/>
<circle cx="88.49" cy="164.89" r="0.4" fill-opacity="0.2"/>
<circle cx="90.11" cy="169.91" r="0.4" fill-opacity="0.2"/>
<circle cx="98.70" cy="187.47" r="0.4" fill-opacity="0.2"/>
<circle cx="104.12" cy="195.18" r="0.4" fill-opacity="0.2"/>
<circle cx="94.16" cy="211.81" r="0.4" fill-opacity="0.2"/>
<circle cx="98.78" cy="186.22" r="0.4" fill-opacity="0.2"/>
<circle cx="102.66" cy="194.20" r="0.4" fill-opacity="0.2"/>
<circle cx="94.13" cy="190.10" r="0.4" fill-opacity="0.2"/>
<circle cx="93.10" cy="213.06" r="0.4" fill-opacity="0.2"/>
<circle cx="92.15" cy="213.29" r="0.4" fill-opacity="0.2"/>
<circle cx="89.09" cy="152.62" r="0.4" fill-opacity="0.2"/>
<circle cx="97.40" cy="164.96" r="0.4" fill-opacity="0.2"/>
<circle cx="96.63" cy="159.44" r="0.4" fill-opacity="0.2"/>
<circle cx="102.23" cy="194.15" r="0.4" fill-opacity="0.2"/>
<circle cx="99.63" cy="210.38" r="0.4" fill-opacity="0.2"/>
<circle cx="104.87" cy="194.73" r="0.4" fill-opacity="0.2"/>
<circle cx="100.12" cy="152.11" r="0.4" fill-opacity="0.2"/>
<circle cx="88.84" cy="178.87" r="0.4" fill-opacity="0.2"/>
<circle cx="104.47" cy="171.72" r="0.4" fill-opacity="0.2"/>
<circle cx="97.66" cy="152.56" r="0.4" fill-opacity="0.2"/>
<circle cx="95.07" cy="208.86" r="0.4" fill-opacity="0.2"/>
<circle cx="98.02" cy="203.93" r="0.4" fill-opacity="0.2"/>
<circle cx="88.22" cy="164.77" r="0.4" fill-opacity="0.2"/>
<circle cx="91.05" cy="204.43" r="0.4" fill-opacity="0.2"/>
<circle cx="89.73" cy="210.72" r="0.4" fill-opacity="0.2"/>
<circle cx="92.55" cy="207.47" r="0.4" fill-opacity="0.2"/>
</g>
<rect x="85.8" y="74.5" width="69.2" height="69.19999999999999" fill="none" stroke="#555" stroke-width="1"/>
<line x1="105.7" y1="74.5" x2="105.7" y2="143.7" stroke="#555" stroke-width="1"/>
<line x1="85.8" y1="101.3" x2="155" y2="101.3" stroke="#555" stroke-width="1"/>
<rect x="86.5" y="149.5" width="68.30000000000001" height="67.80000000000001" fill="none" stroke="#555" stroke-width="1"/>
<line x1="106.3" y1="149.5" x2="106.3" y2="217.3" stroke="#555" stroke-width="1"/>
<line x1="86.5" y1="176.2" x2="154.8" y2="176.2" stroke="#555" stroke-width="1"/>
<text x="0" y="0" font-size="9" text-anchor="start" fill="#111" stroke="#111" stroke-width="0.25" transform="translate(89.9 81.1) scale(0.88 1)">77.5</text>
<text x="0" y="0" font-size="9" text-anchor="end" fill="#111" stroke="#111" stroke-width="0.25" transform="translate(154.3 81.1) scale(0.78 1)">15.7</text>
<text x="0" y="0" font-size="9" text-anchor="start" fill="#111" stroke="#111" stroke-width="0.25" transform="translate(90.6 140.2) scale(0.88 1)">6.1</text>
<text x="0" y="0" font-size="9" text-anchor="end" fill="#111" stroke="#111" stroke-width="0.25" transform="translate(153 140.2) scale(0.88 1)">0.7</text>
<text x="0" y="0" font-size="9" text-anchor="start" fill="#111" stroke="#111" stroke-width="0.25" transform="translate(89.9 157) scale(0.88 1)">6.4</text>
<text x="0" y="0" font-size="9" text-anchor="end" fill="#111" stroke="#111" stroke-width="0.25" transform="translate(155 157) scale(0.88 1)">30.1</text>
<text x="0" y="0" font-size="9" text-anchor="start" fill="#111" stroke="#111" stroke-width="0.25" transform="translate(88.6 215.5) scale(0.88 1)">59.5</text>
<text x="0" y="0" font-size="9" text-anchor="end" fill="#111" stroke="#111" stroke-width="0.25" transform="translate(154 215.5) scale(0.88 1)">4.1</text>
<line x1="73.1" y1="205" x2="73.1" y2="234.6" stroke="#111" stroke-width="1.6"/>
<line x1="72.3" y1="234.6" x2="105" y2="234.6" stroke="#111" stroke-width="1.6"/>
<path d="M73.1 198.3L69.4 206.2L76.8 206.2Z" fill="#111"/>
<path d="M111.8 234.6L103.9 230.9L103.9 238.3Z" fill="#111"/>
<text x="0" y="0" font-size="9.1" text-anchor="start" fill="#111" stroke="#111" stroke-width="0.25" transform="translate(75.3 194.2) rotate(-90)">CD45RA</text>
<text x="121.8" y="237.4" font-size="9.3" text-anchor="start" fill="#111" stroke="#111" stroke-width="0.25">CCR7</text>
<text x="173" y="8.8" font-size="11" font-weight="bold" text-anchor="start" fill="#111">B</text>
<text x="225.8" y="9.1" font-size="10.2" font-weight="bold" letter-spacing="0.15" text-anchor="start" fill="#111">DNT na&#239;ve</text>
<line x1="204" y1="33.6" x2="204" y2="113.4" stroke="#222" stroke-width="1.1"/>
<line x1="202" y1="112.9" x2="204" y2="112.9" stroke="#222" stroke-width="1.1"/>
<text x="0" y="0" font-size="9" text-anchor="end" fill="#111" stroke="#111" stroke-width="0.25" transform="translate(199.4 116.10000000000001) scale(0.86 1)">0</text>
<line x1="202" y1="93.075" x2="204" y2="93.075" stroke="#222" stroke-width="1.1"/>
<text x="0" y="0" font-size="9" text-anchor="end" fill="#111" stroke="#111" stroke-width="0.25" transform="translate(199.4 96.275) scale(0.86 1)">20</text>
<line x1="202" y1="73.25" x2="204" y2="73.25" stroke="#222" stroke-width="1.1"/>
<text x="0" y="0" font-size="9" text-anchor="end" fill="#111" stroke="#111" stroke-width="0.25" transform="translate(199.4 76.45) scale(0.86 1)">40</text>
<line x1="202" y1="53.425" x2="204" y2="53.425" stroke="#222" stroke-width="1.1"/>
<text x="0" y="0" font-size="9" text-anchor="end" fill="#111" stroke="#111" stroke-width="0.25" transform="translate(199.4 56.625) scale(0.86 1)">60</text>
<line x1="202" y1="33.599999999999994" x2="204" y2="33.599999999999994" stroke="#222" stroke-width="1.1"/>
<text x="0" y="0" font-size="9" text-anchor="end" fill="#111" stroke="#111" stroke-width="0.25" transform="translate(199.4 36.8) scale(0.86 1)">80</text>
<line x1="203.5" y1="112.9" x2="323" y2="112.9" stroke="#111" stroke-width="1.3"/>
<line x1="224.3" y1="112.9" x2="224.3" y2="114.9" stroke="#111" stroke-width="1.1"/>
<line x1="264.1" y1="112.9" x2="264.1" y2="114.9" stroke="#111" stroke-width="1.1"/>
<line x1="304.3" y1="112.9" x2="304.3" y2="114.9" stroke="#111" stroke-width="1.1"/>
<text x="0" y="0" font-size="8.4" text-anchor="start" fill="#111" stroke="#111" stroke-width="0.25" transform="translate(205.0 129.5) scale(0.95 1)">ALPS all</text>
<text x="0" y="0" font-size="8.4" text-anchor="start" fill="#111" stroke="#111" stroke-width="0.25" transform="translate(244.2 129.5) scale(0.95 1)">ALPS &gt;18y</text>
<text x="0" y="0" font-size="8.4" text-anchor="start" fill="#111" stroke="#111" stroke-width="0.25" transform="translate(296.8 129.5) scale(0.95 1)">Con&gt;18y</text>
<text x="0" y="0" font-size="9.3" text-anchor="start" fill="#111" stroke="#111" stroke-width="0.25" transform="translate(180.8 107.8) rotate(-90)">% CCR7+CD45RA+</text>
<line x1="214.5" y1="33.9" x2="310" y2="33.9" stroke="#111" stroke-width="1.5"/>
<text x="0" y="0" font-size="8.7" text-anchor="start" fill="#333" stroke="#333" stroke-width="0.25" transform="translate(261 25.5) scale(0.88 1)">ns</text>
<g fill="#111">
<circle cx="219.3" cy="51.3" r="1.85"/>
<circle cx="224.3" cy="55" r="1.85"/>
<circle cx="224.3" cy="63.4" r="1.85"/>
<circle cx="224.3" cy="71.2" r="1.85"/>
<circle cx="224.3" cy="80.7" r="1.85"/>
<circle cx="219.3" cy="84.5" r="1.85"/>
<circle cx="224.3" cy="85.9" r="1.85"/>
<circle cx="229.1" cy="88.2" r="1.85"/>
<circle cx="224.3" cy="91.1" r="1.85"/>
<circle cx="214.5" cy="96.8" r="1.85"/>
<circle cx="229.1" cy="97.2" r="1.85"/>
<circle cx="219.3" cy="99.5" r="1.85"/>
<circle cx="224.3" cy="101.1" r="1.85"/>
<circle cx="219.3" cy="104.3" r="1.85"/>
<circle cx="224.3" cy="108.3" r="1.85"/>
<circle cx="229.1" cy="107.9" r="1.85"/>
<rect x="262.40" y="49.60" width="3.4" height="3.4"/>
<rect x="267.30" y="82.80" width="3.4" height="3.4"/>
<rect x="262.40" y="86.90" width="3.4" height="3.4"/>
<rect x="257.80" y="95.10" width="3.4" height="3.4"/>
<rect x="262.40" y="98.10" width="3.4" height="3.4"/>
<rect x="262.40" y="102.80" width="3.4" height="3.4"/>
<path d="M304.30 55.19L306.10 58.91L302.50 58.91Z"/>
<path d="M299.30 67.19L301.10 70.91L297.50 70.91Z"/>
<path d="M304.30 67.89L306.10 71.61L302.50 71.61Z"/>
<path d="M299.30 70.59L301.10 74.31L297.50 74.31Z"/>
<path d="M309.10 70.89L310.90 74.61L307.30 74.61Z"/>
<path d="M304.30 73.59L306.10 77.31L302.50 77.31Z"/>
<path d="M299.30 78.79L301.10 82.51L297.50 82.51Z"/>
<path d="M304.30 78.79L306.10 82.51L302.50 82.51Z"/>
<path d="M309.10 80.99L310.90 84.71L307.30 84.71Z"/>
<path d="M294.30 84.79L296.10 88.51L292.50 88.51Z"/>
<path d="M304.30 84.19L306.10 87.91L302.50 87.91Z"/>
<path d="M309.10 85.29L310.90 89.01L307.30 89.01Z"/>
<path d="M314.00 84.79L315.80 88.51L312.20 88.51Z"/>
<path d="M299.30 89.19L301.10 92.91L297.50 92.91Z"/>
<path d="M304.30 89.19L306.10 92.91L302.50 92.91Z"/>
<path d="M304.30 93.99L306.10 97.71L302.50 97.71Z"/>
<path d="M309.10 94.59L310.90 98.31L307.30 98.31Z"/>
<path d="M299.30 97.09L301.10 100.81L297.50 100.81Z"/>
<path d="M304.30 99.39L306.10 103.11L302.50 103.11Z"/>
<path d="M299.30 102.09L301.10 105.81L297.50 105.81Z"/>
<path d="M309.10 102.79L310.90 106.51L307.30 106.51Z"/>
<path d="M304.30 106.99L306.10 110.71L302.50 110.71Z"/>
</g>
<line x1="210.4" y1="89.5" x2="237.0" y2="89.5" stroke="#111" stroke-width="1.2"/>
<line x1="250.2" y1="92.5" x2="277.8" y2="92.5" stroke="#111" stroke-width="1.2"/>
<line x1="290.6" y1="85.9" x2="317.2" y2="85.9" stroke="#111" stroke-width="1.2"/>
<text x="411.7" y="9.1" font-size="10.2" font-weight="bold" letter-spacing="0.15" text-anchor="start" fill="#111">DNT CM</text>
<line x1="386.2" y1="34.5" x2="386.2" y2="113.8" stroke="#222" stroke-width="1.1"/>
<line x1="384.2" y1="113.3" x2="386.2" y2="113.3" stroke="#222" stroke-width="1.1"/>
<text x="0" y="0" font-size="9" text-anchor="end" fill="#111" stroke="#111" stroke-width="0.25" transform="translate(380.3 115.2) scale(0.86 1)">0</text>
<line x1="384.2" y1="93.6" x2="386.2" y2="93.6" stroke="#222" stroke-width="1.1"/>
<text x="0" y="0" font-size="9" text-anchor="end" fill="#111" stroke="#111" stroke-width="0.25" transform="translate(380.3 95.5) scale(0.86 1)">5</text>
<line x1="384.2" y1="73.9" x2="386.2" y2="73.9" stroke="#222" stroke-width="1.1"/>
<text x="0" y="0" font-size="9" text-anchor="end" fill="#111" stroke="#111" stroke-width="0.25" transform="translate(380.3 75.80000000000001) scale(0.86 1)">10</text>
<line x1="384.2" y1="54.199999999999996" x2="386.2" y2="54.199999999999996" stroke="#222" stroke-width="1.1"/>
<text x="0" y="0" font-size="9" text-anchor="end" fill="#111" stroke="#111" stroke-width="0.25" transform="translate(380.3 56.1) scale(0.86 1)">15</text>
<line x1="384.2" y1="34.5" x2="386.2" y2="34.5" stroke="#222" stroke-width="1.1"/>
<text x="0" y="0" font-size="9" text-anchor="end" fill="#111" stroke="#111" stroke-width="0.25" transform="translate(380.3 36.400000000000006) scale(0.86 1)">20</text>
<line x1="385.7" y1="113.3" x2="503.8" y2="113.3" stroke="#111" stroke-width="1.3"/>
<line x1="405.9" y1="113.3" x2="405.9" y2="115.3" stroke="#111" stroke-width="1.1"/>
<line x1="445.4" y1="113.3" x2="445.4" y2="115.3" stroke="#111" stroke-width="1.1"/>
<line x1="484.6" y1="113.3" x2="484.6" y2="115.3" stroke="#111" stroke-width="1.1"/>
<text x="0" y="0" font-size="8.4" text-anchor="start" fill="#111" stroke="#111" stroke-width="0.25" transform="translate(381.5 130) scale(0.95 1)">ALPS all</text>
<text x="0" y="0" font-size="8.4" text-anchor="start" fill="#111" stroke="#111" stroke-width="0.25" transform="translate(426.2 130) scale(0.95 1)">ALPS &gt;18y</text>
<text x="0" y="0" font-size="8.4" text-anchor="start" fill="#111" stroke="#111" stroke-width="0.25" transform="translate(480.8 130) scale(0.95 1)">Con&gt;18y</text>
<text x="0" y="0" font-size="9.3" text-anchor="start" fill="#111" stroke="#111" stroke-width="0.25" transform="translate(361 108.2) rotate(-90)">% CCR7+CD45RA-</text>
<line x1="394.8" y1="35" x2="490" y2="35" stroke="#111" stroke-width="1.5"/>
<text x="442.2" y="30.6" font-size="10.5" font-weight="bold" letter-spacing="1.0" text-anchor="start" fill="#111">***</text>
<g fill="#111">
<circle cx="401.1" cy="105.3" r="1.85"/>
<circle cx="406.1" cy="106.3" r="1.85"/>
<circle cx="416.6" cy="108.4" r="1.85"/>
<circle cx="399.9" cy="108.9" r="1.85"/>
<circle cx="412" cy="109.4" r="1.85"/>
<circle cx="395" cy="111" r="1.85"/>
<circle cx="398.5" cy="111.5" r="1.85"/>
<circle cx="402" cy="110.8" r="1.85"/>
<circle cx="405.5" cy="111.6" r="1.85"/>
<circle cx="409" cy="110.8" r="1.85"/>
<circle cx="412.5" cy="111.4" r="1.85"/>
<circle cx="416" cy="110.9" r="1.85"/>
<circle cx="418.5" cy="111.5" r="1.85"/>
<circle cx="454.6" cy="109.9" r="1.85"/>
<rect x="438.60" y="103.60" width="3.4" height="3.4"/>
<rect x="443.70" y="104.60" width="3.4" height="3.4"/>
<rect x="438.60" y="109.50" width="3.4" height="3.4"/>
<rect x="443.70" y="109.70" width="3.4" height="3.4"/>
<rect x="447.80" y="109.50" width="3.4" height="3.4"/>
<path d="M484.50 53.19L486.30 56.91L482.70 56.91Z"/>
<path d="M484.50 63.09L486.30 66.81L482.70 66.81Z"/>
<path d="M484.50 78.99L486.30 82.71L482.70 82.71Z"/>
<path d="M489.30 80.79L491.10 84.51L487.50 84.51Z"/>
<path d="M484.50 84.19L486.30 87.91L482.70 87.91Z"/>
<path d="M475.20 85.49L477.00 89.21L473.40 89.21Z"/>
<path d="M489.30 86.59L491.10 90.31L487.50 90.31Z"/>
<path d="M480.10 89.19L481.90 92.91L478.30 92.91Z"/>
<path d="M484.50 89.19L486.30 92.91L482.70 92.91Z"/>
<path d="M480.10 93.69L481.90 97.41L478.30 97.41Z"/>
<path d="M494.00 92.99L495.80 96.71L492.20 96.71Z"/>
<path d="M484.50 94.99L486.30 98.71L482.70 98.71Z"/>
<path d="M489.30 95.49L491.10 99.21L487.50 99.21Z"/>
<path d="M475.20 98.19L477.00 101.91L473.40 101.91Z"/>
<path d="M480.10 99.09L481.90 102.81L478.30 102.81Z"/>
<path d="M484.50 97.09L486.30 100.81L482.70 100.81Z"/>
<path d="M494.00 97.79L495.80 101.51L492.20 101.51Z"/>
<path d="M489.30 99.79L491.10 103.51L487.50 103.51Z"/>
<path d="M484.50 100.49L486.30 104.21L482.70 104.21Z"/>
<path d="M494.00 101.89L495.80 105.61L492.20 105.61Z"/>
<path d="M480.10 104.59L481.90 108.31L478.30 108.31Z"/>
<path d="M489.30 104.79L491.10 108.51L487.50 108.51Z"/>
<path d="M484.50 107.59L486.30 111.31L482.70 111.31Z"/>
</g>
<line x1="392.7" y1="111" x2="418.7" y2="111" stroke="#111" stroke-width="1.2"/>
<line x1="432.1" y1="110.4" x2="457.7" y2="110.4" stroke="#111" stroke-width="1.2"/>
<line x1="472" y1="97.5" x2="495.6" y2="97.5" stroke="#111" stroke-width="1.2"/>
<text x="225.7" y="169.2" font-size="10.2" font-weight="bold" letter-spacing="0.15" text-anchor="start" fill="#111">DNT EM</text>
<line x1="206.2" y1="191.3" x2="206.2" y2="270.4" stroke="#222" stroke-width="1.1"/>
<line x1="204.2" y1="269.9" x2="206.2" y2="269.9" stroke="#222" stroke-width="1.1"/>
<text x="0" y="0" font-size="9" text-anchor="end" fill="#111" stroke="#111" stroke-width="0.25" transform="translate(201 271.49999999999994) scale(0.86 1)">0</text>
<line x1="204.2" y1="254.17999999999998" x2="206.2" y2="254.17999999999998" stroke="#222" stroke-width="1.1"/>
<text x="0" y="0" font-size="9" text-anchor="end" fill="#111" stroke="#111" stroke-width="0.25" transform="translate(201 255.77999999999997) scale(0.86 1)">20</text>
<line x1="204.2" y1="238.45999999999998" x2="206.2" y2="238.45999999999998" stroke="#222" stroke-width="1.1"/>
<text x="0" y="0" font-size="9" text-anchor="end" fill="#111" stroke="#111" stroke-width="0.25" transform="translate(201 240.05999999999997) scale(0.86 1)">40</text>
<line x1="204.2" y1="222.74" x2="206.2" y2="222.74" stroke="#222" stroke-width="1.1"/>
<text x="0" y="0" font-size="9" text-anchor="end" fill="#111" stroke="#111" stroke-width="0.25" transform="translate(201 224.34) scale(0.86 1)">60</text>
<line x1="204.2" y1="207.02" x2="206.2" y2="207.02" stroke="#222" stroke-width="1.1"/>
<text x="0" y="0" font-size="9" text-anchor="end" fill="#111" stroke="#111" stroke-width="0.25" transform="translate(201 208.62) scale(0.86 1)">80</text>
<line x1="204.2" y1="191.3" x2="206.2" y2="191.3" stroke="#222" stroke-width="1.1"/>
<text x="0" y="0" font-size="9" text-anchor="end" fill="#111" stroke="#111" stroke-width="0.25" transform="translate(201 192.9) scale(0.86 1)">100</text>
<line x1="205.7" y1="269.9" x2="325.6" y2="269.9" stroke="#111" stroke-width="1.3"/>
<line x1="226" y1="269.9" x2="226" y2="271.9" stroke="#111" stroke-width="1.1"/>
<line x1="265.9" y1="269.9" x2="265.9" y2="271.9" stroke="#111" stroke-width="1.1"/>
<line x1="305.5" y1="269.9" x2="305.5" y2="271.9" stroke="#111" stroke-width="1.1"/>
<text x="0" y="0" font-size="8.4" text-anchor="start" fill="#111" stroke="#111" stroke-width="0.25" transform="translate(205.0 288.6) scale(0.95 1)">ALPS all</text>
<text x="0" y="0" font-size="8.4" text-anchor="start" fill="#111" stroke="#111" stroke-width="0.25" transform="translate(244.4 288.6) scale(0.95 1)">ALPS &gt;18y</text>
<text x="0" y="0" font-size="8.4" text-anchor="start" fill="#111" stroke="#111" stroke-width="0.25" transform="translate(296.6 288.6) scale(0.95 1)">Con&gt;18y</text>
<text x="0" y="0" font-size="9.0" text-anchor="start" fill="#111" stroke="#111" stroke-width="0.25" transform="translate(179.5 269.4) rotate(-90)">% CCR7-CD45RA-</text>
<line x1="214.5" y1="191.3" x2="310" y2="191.3" stroke="#111" stroke-width="1.5"/>
<text x="260.1" y="187.6" font-size="10.5" font-weight="bold" letter-spacing="1.0" text-anchor="start" fill="#111">***</text>
<g fill="#111">
<circle cx="230.4" cy="255.1" r="1.85"/>
<circle cx="226" cy="258.8" r="1.85"/>
<circle cx="235.5" cy="260.2" r="1.85"/>
<circle cx="216.5" cy="262.1" r="1.85"/>
<circle cx="230.4" cy="262.2" r="1.85"/>
<circle cx="221.2" cy="262.9" r="1.85"/>
<circle cx="226" cy="263.2" r="1.85"/>
<circle cx="218.8" cy="264.6" r="1.85"/>
<circle cx="216.1" cy="267" r="1.85"/>
<circle cx="218.5" cy="266.5" r="1.85"/>
<circle cx="220.9" cy="267.6" r="1.85"/>
<circle cx="223.3" cy="266.6" r="1.85"/>
<circle cx="226" cy="267.3" r="1.85"/>
<circle cx="228.4" cy="266.6" r="1.85"/>
<circle cx="230.4" cy="267.3" r="1.85"/>
<circle cx="233.1" cy="266.6" r="1.85"/>
<circle cx="235.5" cy="267.6" r="1.85"/>
<circle cx="260.8" cy="262.3" r="1.85"/>
<rect x="264.20" y="253.20" width="3.4" height="3.4"/>
<rect x="268.80" y="257.10" width="3.4" height="3.4"/>
<rect x="264.20" y="261.70" width="3.4" height="3.4"/>
<rect x="264.20" y="267.00" width="3.4" height="3.4"/>
<rect x="268.80" y="266.80" width="3.4" height="3.4"/>
<path d="M296.00 205.89L297.80 209.61L294.20 209.61Z"/>
<path d="M305.50 205.19L307.30 208.91L303.70 208.91Z"/>
<path d="M300.70 209.99L302.50 213.71L298.90 213.71Z"/>
<path d="M305.50 210.39L307.30 214.11L303.70 214.11Z"/>
<path d="M310.20 209.29L312.00 213.01L308.40 213.01Z"/>
<path d="M300.70 221.79L302.50 225.51L298.90 225.51Z"/>
<path d="M305.50 223.19L307.30 226.91L303.70 226.91Z"/>
<path d="M310.20 221.79L312.00 225.51L308.40 225.51Z"/>
<path d="M315.10 221.09L316.90 224.81L313.30 224.81Z"/>
<path d="M296.00 225.89L297.80 229.61L294.20 229.61Z"/>
<path d="M300.70 228.79L302.50 232.51L298.90 232.51Z"/>
<path d="M305.50 229.19L307.30 232.91L303.70 232.91Z"/>
<path d="M310.40 227.49L312.20 231.21L308.60 231.21Z"/>
<path d="M300.70 232.89L302.50 236.61L298.90 236.61Z"/>
<path d="M305.50 235.79L307.30 239.51L303.70 239.51Z"/>
<path d="M310.60 234.09L312.40 237.81L308.80 237.81Z"/>
<path d="M295.60 243.69L297.40 247.41L293.80 247.41Z"/>
<path d="M303.00 242.59L304.80 246.31L301.20 246.31Z"/>
<path d="M300.70 246.49L302.50 250.21L298.90 250.21Z"/>
<path d="M305.50 246.79L307.30 250.51L303.70 250.51Z"/>
<path d="M310.60 244.79L312.40 248.51L308.80 248.51Z"/>
<path d="M315.20 243.39L317.00 247.11L313.40 247.11Z"/>
<path d="M305.50 256.19L307.30 259.91L303.70 259.91Z"/>
</g>
<line x1="212" y1="265.3" x2="238.6" y2="265.3" stroke="#111" stroke-width="1.2"/>
<line x1="252.1" y1="262.6" x2="278.5" y2="262.6" stroke="#111" stroke-width="1.2"/>
<line x1="292.2" y1="230.3" x2="318.7" y2="230.3" stroke="#111" stroke-width="1.2"/>
<text x="411.7" y="166.9" font-size="10.2" font-weight="bold" letter-spacing="0.15" text-anchor="start" fill="#111">DNT TEMRA</text>
<line x1="389.6" y1="191.5" x2="389.6" y2="272.5" stroke="#222" stroke-width="1.1"/>
<line x1="387.6" y1="272.0" x2="389.6" y2="272.0" stroke="#222" stroke-width="1.1"/>
<text x="0" y="0" font-size="9" text-anchor="end" fill="#111" stroke="#111" stroke-width="0.25" transform="translate(384 273.4) scale(0.86 1)">0</text>
<line x1="387.6" y1="255.9" x2="389.6" y2="255.9" stroke="#222" stroke-width="1.1"/>
<text x="0" y="0" font-size="9" text-anchor="end" fill="#111" stroke="#111" stroke-width="0.25" transform="translate(384 259.4) scale(0.86 1)">20</text>
<line x1="387.6" y1="239.8" x2="389.6" y2="239.8" stroke="#222" stroke-width="1.1"/>
<text x="0" y="0" font-size="9" text-anchor="end" fill="#111" stroke="#111" stroke-width="0.25" transform="translate(384 243.0) scale(0.86 1)">40</text>
<line x1="387.6" y1="223.7" x2="389.6" y2="223.7" stroke="#222" stroke-width="1.1"/>
<text x="0" y="0" font-size="9" text-anchor="end" fill="#111" stroke="#111" stroke-width="0.25" transform="translate(384 227.0) scale(0.86 1)">60</text>
<line x1="387.6" y1="207.6" x2="389.6" y2="207.6" stroke="#222" stroke-width="1.1"/>
<text x="0" y="0" font-size="9" text-anchor="end" fill="#111" stroke="#111" stroke-width="0.25" transform="translate(384 211.2) scale(0.86 1)">80</text>
<line x1="387.6" y1="191.5" x2="389.6" y2="191.5" stroke="#222" stroke-width="1.1"/>
<text x="0" y="0" font-size="9" text-anchor="end" fill="#111" stroke="#111" stroke-width="0.25" transform="translate(384 195.89999999999998) scale(0.86 1)">100</text>
<line x1="389.1" y1="272.0" x2="514.6" y2="272.0" stroke="#111" stroke-width="1.3"/>
<line x1="410.2" y1="272.0" x2="410.2" y2="274.0" stroke="#111" stroke-width="1.1"/>
<line x1="451.4" y1="272.0" x2="451.4" y2="274.0" stroke="#111" stroke-width="1.1"/>
<line x1="491.7" y1="272.0" x2="491.7" y2="274.0" stroke="#111" stroke-width="1.1"/>
<text x="0" y="0" font-size="8.4" text-anchor="start" fill="#111" stroke="#111" stroke-width="0.25" transform="translate(386.7 290.8) scale(0.95 1)">ALPS all</text>
<text x="0" y="0" font-size="8.4" text-anchor="start" fill="#111" stroke="#111" stroke-width="0.25" transform="translate(432.5 290.8) scale(0.95 1)">ALPS &gt;18y</text>
<text x="0" y="0" font-size="8.4" text-anchor="start" fill="#111" stroke="#111" stroke-width="0.25" transform="translate(486.4 290.8) scale(0.95 1)">Con&gt;18y</text>
<text x="0" y="0" font-size="9.3" text-anchor="start" fill="#111" stroke="#111" stroke-width="0.25" transform="translate(364 269.8) rotate(-90)">% CCR7-CD45RA+</text>
<line x1="401" y1="188.5" x2="496.3" y2="188.5" stroke="#111" stroke-width="1.5"/>
<text x="446" y="187.2" font-size="10.5" font-weight="bold" letter-spacing="1.0" text-anchor="start" fill="#111">***</text>
<g fill="#111">
<circle cx="405.6" cy="194.8" r="1.85"/>
<circle cx="410.4" cy="198.2" r="1.85"/>
<circle cx="415.4" cy="198.2" r="1.85"/>
<circle cx="410.4" cy="203" r="1.85"/>
<circle cx="405.6" cy="208.1" r="1.85"/>
<circle cx="415.4" cy="208.4" r="1.85"/>
<circle cx="410.4" cy="211.8" r="1.85"/>
<circle cx="405.6" cy="214.9" r="1.85"/>
<circle cx="410.4" cy="218.1" r="1.85"/>
<circle cx="415.4" cy="220.8" r="1.85"/>
<circle cx="410.4" cy="223.5" r="1.85"/>
<circle cx="405.4" cy="227.5" r="1.85"/>
<circle cx="410.4" cy="231.3" r="1.85"/>
<circle cx="405.4" cy="240.9" r="1.85"/>
<circle cx="410.4" cy="242.5" r="1.85"/>
<circle cx="415.2" cy="242.5" r="1.85"/>
<circle cx="489.7" cy="260.5" r="1.85"/>
<rect x="449.70" y="196.60" width="3.4" height="3.4"/>
<rect x="449.70" y="206.40" width="3.4" height="3.4"/>
<rect x="449.70" y="213.50" width="3.4" height="3.4"/>
<rect x="445.00" y="221.50" width="3.4" height="3.4"/>
<rect x="449.70" y="225.50" width="3.4" height="3.4"/>
<rect x="449.70" y="240.90" width="3.4" height="3.4"/>
<path d="M492.60 220.89L494.40 224.61L490.80 224.61Z"/>
<path d="M497.20 243.49L499.00 247.21L495.40 247.21Z"/>
<path d="M492.30 245.29L494.10 249.01L490.50 249.01Z"/>
<path d="M502.40 246.79L504.20 250.51L500.60 250.51Z"/>
<path d="M482.30 247.49L484.10 251.21L480.50 251.21Z"/>
<path d="M497.50 248.79L499.30 252.51L495.70 252.51Z"/>
<path d="M487.50 250.19L489.30 253.91L485.70 253.91Z"/>
<path d="M487.50 252.39L489.30 256.11L485.70 256.11Z"/>
<path d="M492.30 250.79L494.10 254.51L490.50 254.51Z"/>
<path d="M497.50 255.09L499.30 258.81L495.70 258.81Z"/>
<path d="M492.30 256.99L494.10 260.71L490.50 260.71Z"/>
<path d="M482.30 260.99L484.10 264.71L480.50 264.71Z"/>
<path d="M487.50 261.19L489.30 264.91L485.70 264.91Z"/>
<path d="M497.50 260.99L499.30 264.71L495.70 264.71Z"/>
<path d="M502.40 259.99L504.20 263.71L500.60 263.71Z"/>
<path d="M492.30 261.89L494.10 265.61L490.50 265.61Z"/>
<path d="M482.30 264.29L484.10 268.01L480.50 268.01Z"/>
<path d="M487.50 264.69L489.30 268.41L485.70 268.41Z"/>
<path d="M493.60 263.69L495.40 267.41L491.80 267.41Z"/>
<path d="M496.00 265.49L497.80 269.21L494.20 269.21Z"/>
<path d="M502.40 264.29L504.20 268.01L500.60 268.01Z"/>
<path d="M492.30 267.99L494.10 271.71L490.50 271.71Z"/>
</g>
<line x1="396.4" y1="216.6" x2="423.7" y2="216.6" stroke="#111" stroke-width="1.2"/>
<line x1="437.1" y1="218.7" x2="464.7" y2="218.7" stroke="#111" stroke-width="1.2"/>
<line x1="478.2" y1="260.1" x2="506" y2="260.1" stroke="#111" stroke-width="1.2"/>
</svg>
</body></html>
